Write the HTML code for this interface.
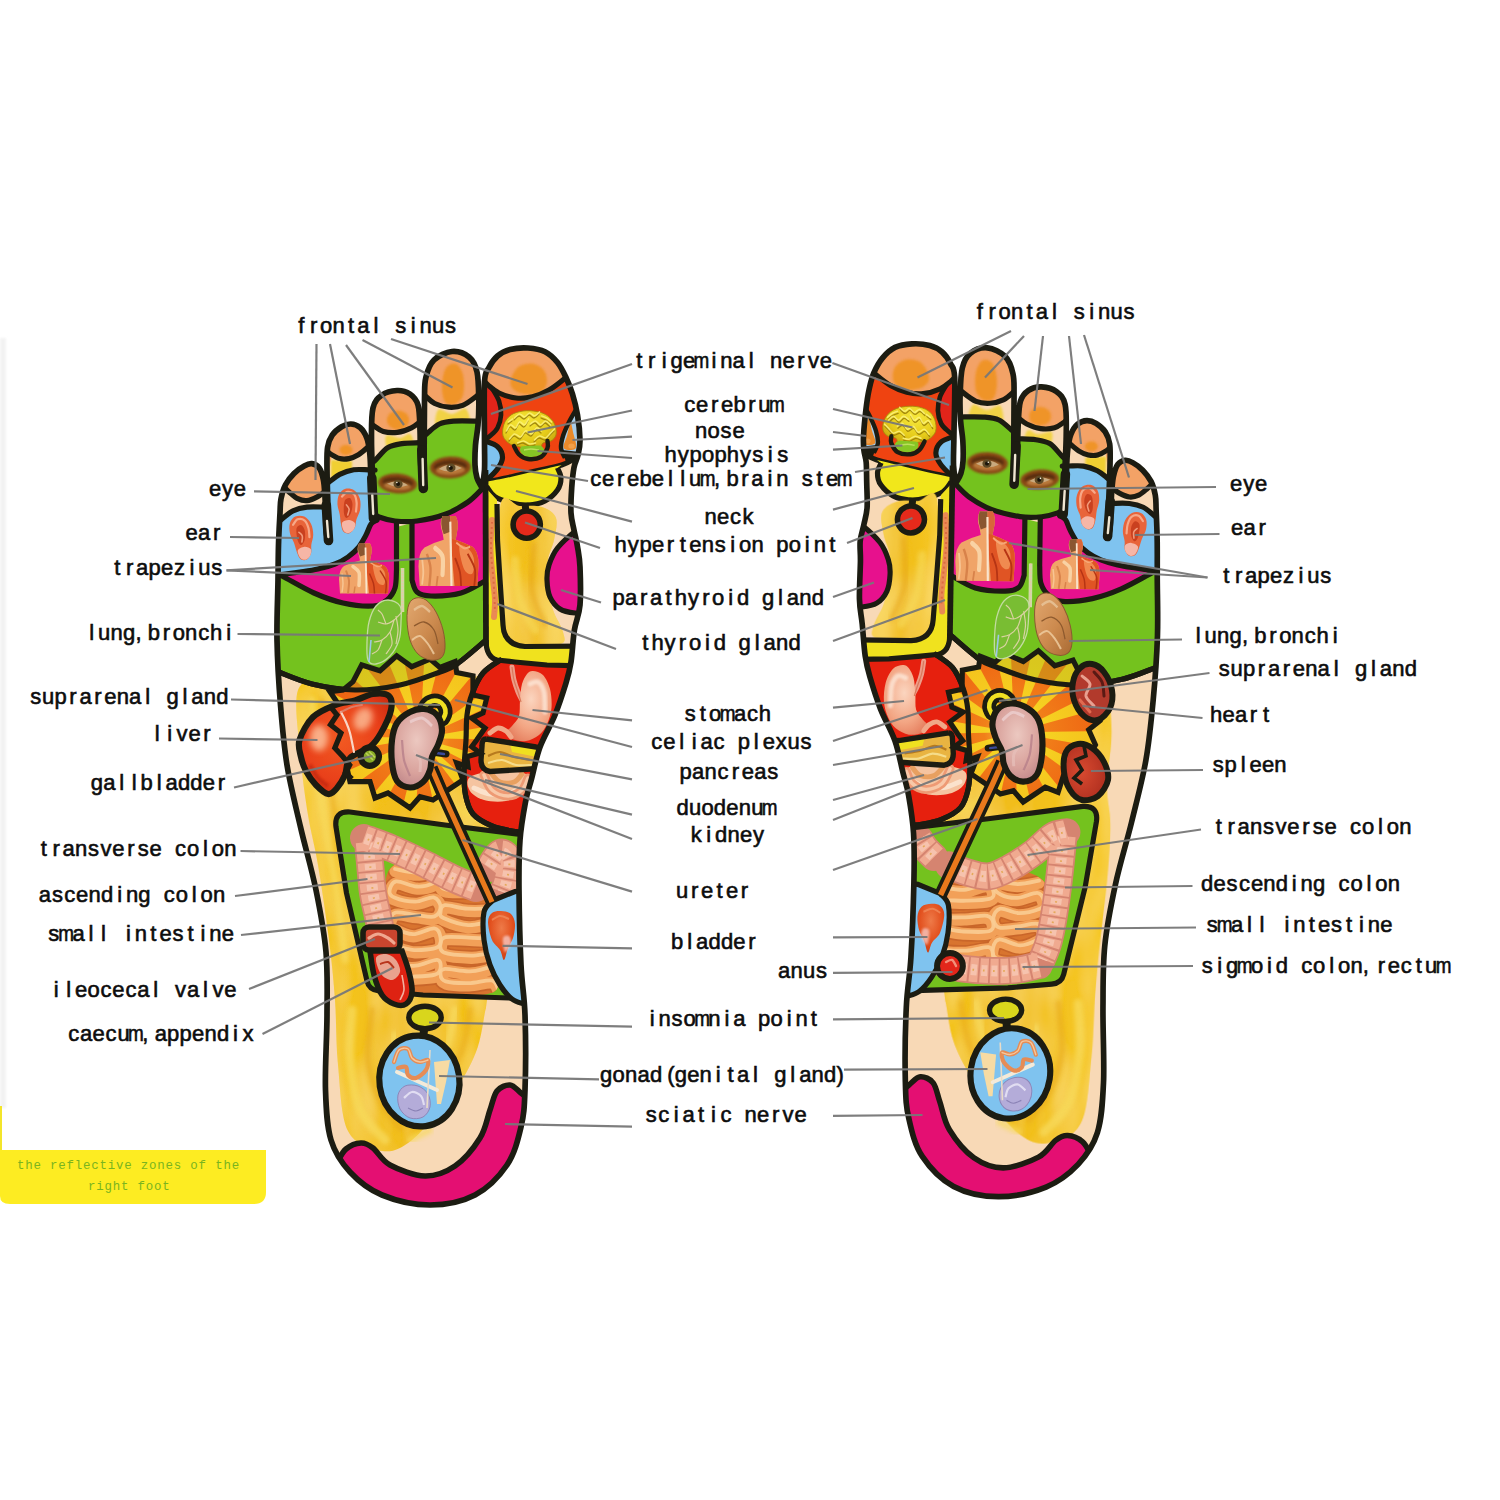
<!DOCTYPE html><html><head><meta charset="utf-8"><title>foot reflexology chart</title>
<style>html,body{margin:0;padding:0;background:#fff}body{width:1500px;height:1500px;overflow:hidden;font-family:"Liberation Sans",sans-serif}svg{display:block}</style></head><body>
<svg width="1500" height="1500" viewBox="0 0 1500 1500">

<defs>
<filter id="blur1" x="-20%" y="-20%" width="140%" height="140%"><feGaussianBlur stdDeviation="1.2"/></filter>
<filter id="blur3" x="-40%" y="-40%" width="180%" height="180%"><feGaussianBlur stdDeviation="3"/></filter>
<filter id="blur2" x="-20%" y="-20%" width="140%" height="140%"><feGaussianBlur stdDeviation="2.2"/></filter>
<filter id="rough" x="-5%" y="-5%" width="110%" height="110%">
 <feTurbulence type="fractalNoise" baseFrequency="0.035 0.012" numOctaves="2" seed="4" result="n"/>
 <feColorMatrix in="n" type="matrix" values="0 0 0 0 1  0 0 0 0 .82  0 0 0 0 .25  .9 0 0 0 -.28" result="c"/>
 <feComposite in="c" in2="SourceGraphic" operator="in" result="cc"/>
 <feMerge><feMergeNode in="SourceGraphic"/><feMergeNode in="cc"/></feMerge>
</filter>
<linearGradient id="ytexL" x1="0" y1="0" x2="1" y2="0"><stop offset="0" stop-color="#f6c824"/><stop offset=".5" stop-color="#f1bd1a"/><stop offset="1" stop-color="#f5c622"/></linearGradient>
<linearGradient id="ytexR" x1="0" y1="0" x2="1" y2="0"><stop offset="0" stop-color="#f6c824"/><stop offset=".5" stop-color="#f1bd1a"/><stop offset="1" stop-color="#f5c622"/></linearGradient>
<radialGradient id="sung" cx=".5" cy=".5" r=".5"><stop offset="0" stop-color="#fff27a" stop-opacity=".8"/><stop offset=".3" stop-color="#f8d830" stop-opacity=".3"/><stop offset="1" stop-color="#f08018" stop-opacity=".2"/></radialGradient>
<radialGradient id="livg" cx=".45" cy=".45" r=".65"><stop offset="0" stop-color="#f25a22"/><stop offset=".65" stop-color="#e9401a"/><stop offset="1" stop-color="#cc2c10"/></radialGradient>
<radialGradient id="kidg" cx=".5" cy=".4" r=".7"><stop offset="0" stop-color="#ecc8c0"/><stop offset=".6" stop-color="#d9a29c"/><stop offset="1" stop-color="#b98086"/></radialGradient>
<radialGradient id="stomg" cx=".55" cy=".4" r=".7"><stop offset="0" stop-color="#fbd5bf"/><stop offset=".6" stop-color="#f3a684"/><stop offset="1" stop-color="#e47a5a"/></radialGradient>
<radialGradient id="bladg" cx=".5" cy=".35" r=".7"><stop offset="0" stop-color="#ee7a48"/><stop offset=".6" stop-color="#e2501e"/><stop offset="1" stop-color="#c83c14"/></radialGradient>
<radialGradient id="splg" cx=".6" cy=".5" r=".7"><stop offset="0" stop-color="#d84a30"/><stop offset="1" stop-color="#a82a1c"/></radialGradient>
<radialGradient id="braing" cx=".4" cy=".3" r=".8"><stop offset="0" stop-color="#f6e83c"/><stop offset=".6" stop-color="#e6cc1a"/><stop offset="1" stop-color="#bf9e0c"/></radialGradient>
<linearGradient id="lungg" x1="0" y1="0" x2="1" y2="1"><stop offset="0" stop-color="#e2a870"/><stop offset=".55" stop-color="#cc8a4e"/><stop offset="1" stop-color="#a86a34"/></linearGradient>
</defs>

<rect width="1500" height="1500" fill="#fff"/>
<rect x="0" y="338" width="6" height="770" fill="#e9e9e9" opacity=".55" filter="url(#blur1)"/>
<rect x="0" y="1106" width="2" height="46" fill="#f3e52a"/>
<path d="M0,1150 L266,1150 L266,1192 Q266,1204 254,1204 L10,1204 Q0,1204 0,1196Z" fill="#fdec22"/>
<g font-family="Liberation Mono, monospace" font-size="12.4" letter-spacing=".82" fill="#79b41f"><text x="17" y="1168.5">the reflective zones of the</text><text x="88" y="1190">right foot</text></g>
<g id="footL"><clipPath id="clipL"><path d="M482,487C482.4,484.2 484.1,477.8 484.5,470C484.9,462.2 484.5,454.7 484.5,440C484.5,425.3 483.8,394.1 484.5,382C485.2,369.9 486.8,371.8 489,367.5C491.2,363.2 494,359 497.5,356C501,353 504.9,350.8 510,349.5C515.1,348.2 522.2,347.6 528,348C533.8,348.4 540.1,349.3 545,351.7C549.9,354.1 554,358.2 557.5,362.5C561,366.8 563.5,372.2 566,377.5C568.5,382.8 570.6,387.8 572.5,394C574.4,400.2 576.2,407.3 577.5,415C578.8,422.7 579.9,433.3 580,440C580.1,446.7 579,450.4 578,455C577,459.6 575,462 574,467.5C573,473 572.2,480.4 571.7,488C571.2,495.6 570.6,506 571,513C571.4,520 572.9,524.4 574,530C575.1,535.6 576.5,540.5 577.5,546.7C578.5,552.9 579.6,557.3 580,567C580.4,576.7 580.9,594.5 580,605C579.1,615.5 575.9,620.5 574.4,630C572.9,639.5 572.4,653.2 571,662C569.6,670.8 568.7,674.2 566,683C563.3,691.8 559.3,704.3 555,715C550.7,725.7 543.9,736.3 540,747C536.1,757.7 533.9,769.8 531.5,779C529.1,788.2 527.4,791.8 525.5,802C523.6,812.2 521.1,825.3 520,840C518.9,854.7 518.8,869.2 519,890C519.2,910.8 520,944.2 521,965C522,985.8 524.3,994.2 525,1015C525.7,1035.8 525.7,1071.3 525,1090C524.3,1108.7 524,1114.5 521,1127C518,1139.5 514.7,1153.7 507,1165C499.3,1176.3 487.8,1188.3 475,1195C462.2,1201.7 445.5,1205 430,1205C414.5,1205 395.3,1200.5 382,1195C368.7,1189.5 358.5,1181.2 350,1172C341.5,1162.8 335.1,1153.7 331,1140C326.9,1126.3 326.2,1110.8 325.5,1090C324.8,1069.2 326.9,1038 327,1015C327.1,992 327.8,972.8 326,952C324.2,931.2 320.2,910.8 316,890C311.8,869.2 305.3,847.8 300.5,827C295.7,806.2 290.3,785.3 287,765C283.7,744.7 282.2,725.8 280.5,705C278.8,684.2 277.4,660.8 277,640C276.6,619.2 277.8,595.8 278,580C278.2,564.2 278.2,556.2 278.5,545C278.8,533.8 279.6,520.7 280,513C280.4,505.3 280.1,503.4 281,498.7C281.9,494 283.3,488.9 285.5,484.7C287.7,480.5 290.9,476.6 294,473.5C297.1,470.4 301.2,467.6 304.2,466C307.1,464.4 309.2,463.4 311.7,463.7C314.2,464 317.2,465.2 319.2,467.9C321.1,470.6 322.5,475.6 323.4,480C324.3,484.4 324.4,489 324.8,494C325.2,499 325.3,504 325.5,510C325.7,516 325.6,524.7 326,530C326.4,535.3 327.7,540 328,542L329,542C328.8,536.7 328.3,522 328,510C327.7,498 327.1,480.4 327,470C326.9,459.6 326.7,453.1 327.6,447.3C328.5,441.5 329.9,438.6 332.2,435.2C334.5,431.8 338.5,428.7 341.6,426.8C344.7,424.9 347.8,423.9 350.9,424C354,424.1 357.5,425.4 360.2,427.7C362.9,430 365.2,433.9 366.8,438C368.4,442.1 369,447.3 369.6,452C370.2,456.7 370.3,459.7 370.5,466C370.7,472.3 370.7,481.2 371,490C371.3,498.8 372.2,514.2 372.5,519L374,519C373.8,514.2 373.4,503.2 373,490C372.6,476.8 371.5,453.7 371.5,440C371.5,426.3 371.2,415.5 373,408C374.8,400.5 378,397.9 382,395C386,392.1 392.3,390.7 397,390.5C401.7,390.3 406.5,391.6 410,394C413.5,396.4 416.3,399 418,405C419.7,411 419.6,420.8 420,430C420.4,439.2 420.1,450.2 420.5,460C420.9,469.8 422.2,484.2 422.5,489L424,489C424.1,474.2 424.2,418.7 424.5,400C424.8,381.3 424.4,383.7 426,377C427.6,370.3 429.7,364.2 434,360C438.3,355.8 446.2,352 452,351.5C457.8,351 464.8,353.6 469,357C473.2,360.4 475.4,364.8 477,372C478.6,379.2 478.6,391.2 478.8,400C479,408.8 478.6,417.5 478,425C477.4,432.5 476,438.3 475.5,445C475,451.7 474.8,459.5 475,465C475.2,470.5 475.9,474.3 477,478C478.1,481.7 480.8,485.5 481.5,487Z"/></clipPath>
<g clip-path="url(#clipL)">
<rect x="250" y="330" width="360" height="900" fill="#f8d9b6"/>
<path d="M298,690C302.8,677.3 313,684 330,684C347,684 376.7,691.3 400,690C423.3,688.7 455,674.3 470,676C485,677.7 481.7,674 490,700C498.3,726 518.3,798.7 520,832C521.7,865.3 505.5,872 500,900C494.5,928 489.5,981.3 487,1000C484.5,1018.7 486.8,1003.3 485,1012C483.2,1020.7 481.5,1038.2 476,1052C470.5,1065.8 462.7,1080.3 452,1095C441.3,1109.7 423.7,1130.7 412,1140C400.3,1149.3 392.7,1152.5 382,1151C371.3,1149.5 355.3,1145.3 348,1131C340.7,1116.7 340.2,1086.8 338,1065C335.8,1043.2 336.5,1020.8 335,1000C333.5,979.2 331.8,962.5 329,940C326.2,917.5 321.5,885.8 318,865C314.5,844.2 310.8,832.5 308,815C305.2,797.5 302.7,780.8 301,760C299.3,739.2 293.2,702.7 298,690Z" fill="url(#ytexL)" filter="url(#rough)"/>
<path d="M312,700C312.7,710 313.7,738.3 316,760C318.3,781.7 322.3,806.7 326,830C329.7,853.3 334.8,878.3 338,900C341.2,921.7 343.8,950 345,960" fill="none" stroke="#f7d95a" stroke-width="7" stroke-linecap="round" opacity="0.8" filter="url(#blur2)"/>
<path d="M322,700C323.3,713.3 327,755 330,780C333,805 338.3,838.3 340,850" fill="none" stroke="#e9aa1c" stroke-width="5" stroke-linecap="round" opacity="0.6" filter="url(#blur2)"/>
<path d="M352,1010C351.7,1018.3 348.7,1043.3 350,1060C351.3,1076.7 354.2,1096.7 360,1110C365.8,1123.3 380.8,1135 385,1140" fill="none" stroke="#f7d95a" stroke-width="9" stroke-linecap="round" opacity="0.8" filter="url(#blur2)"/>
<path d="M372,1010C371.3,1018.3 366.7,1045 368,1060C369.3,1075 374.7,1088.7 380,1100C385.3,1111.3 396.7,1123.3 400,1128" fill="none" stroke="#e7a91b" stroke-width="6" stroke-linecap="round" opacity="0.6" filter="url(#blur2)"/>
<path d="M395,1035L392,1070" fill="none" stroke="#f7dc60" stroke-width="8" stroke-linecap="round" opacity="0.7" filter="url(#blur2)"/>
<path d="M470,1010C468.7,1016.7 467,1036.7 462,1050C457,1063.3 447.8,1077.5 440,1090C432.2,1102.5 419.2,1119.2 415,1125" fill="none" stroke="#e9ab1e" stroke-width="6" stroke-linecap="round" opacity="0.6" filter="url(#blur2)"/>
<path d="M455,1010L448,1045" fill="none" stroke="#f8dc60" stroke-width="8" stroke-linecap="round" opacity="0.7" filter="url(#blur2)"/>
<path d="M430,1130L410,1140" fill="none" stroke="#f7d95a" stroke-width="6" stroke-linecap="round" opacity="0.7" filter="url(#blur2)"/>
<path d="M440,800C445,802.5 460,810.7 470,815C480,819.3 495,824.2 500,826" fill="none" stroke="#f6d650" stroke-width="7" stroke-linecap="round" opacity="0.7" filter="url(#blur2)"/>
<path d="M502,659C498.8,661.3 488,667.2 483,673C478,678.8 474.7,687 472,694C469.3,701 468,707.3 467,715C466,722.7 466.5,730.8 466,740C465.5,749.2 464.1,760.8 464,770C463.9,779.2 464,787.7 465.5,795C467,802.3 468.6,808.8 473,814C477.4,819.2 485.5,823.2 492,826C498.5,828.8 505,829.8 512,831C519,832.2 530.3,832.7 534,833L600,833 L600,660 Z" fill="#e6200e"/>
<path d="M512,667C512.3,669.2 513,675.8 514,680C515,684.2 516.7,688.7 518,692C519.3,695.3 521.3,698.7 522,700" fill="none" stroke="#ee9c88" stroke-width="5" stroke-linecap="round"/>
<path d="M533,671C535.7,671.2 540.2,672 543,675C545.8,678 548.6,683.5 550,689C551.4,694.5 552,702.2 551.5,708C551,713.8 549.1,719.5 547,724C544.9,728.5 542.5,732.2 539,735C535.5,737.8 530.5,740.3 526,741C521.5,741.7 515.3,740.3 512,739C508.7,737.7 506,735.2 506,733C506,730.8 509.8,728.8 512,726C514.2,723.2 517.7,720.3 519,716C520.3,711.7 519.5,705.3 520,700C520.5,694.7 520.8,688.3 522,684C523.2,679.7 525.2,676.2 527,674C528.8,671.8 530.3,670.8 533,671Z" fill="url(#stomg)"/>
<path d="M530,684C531.3,683.7 535.7,680.7 538,682C540.3,683.3 542.8,687 544,692C545.2,697 544.8,708.7 545,712" fill="none" stroke="#fdeadc" stroke-width="5" opacity=".75" stroke-linecap="round" filter="url(#blur1)"/>
<path d="M512,667C512.3,669.2 513,675.8 514,680C515,684.2 516.8,688.3 518,692C519.2,695.7 520.5,700.3 521,702" fill="none" stroke="#d9785a" stroke-width="1.2"/>
<path d="M490,733C491.3,732.2 495.3,728.3 498,728C500.7,727.7 503.8,729.5 506,731C508.2,732.5 510.2,736 511,737" fill="none" stroke="#f0a888" stroke-width="5" stroke-linecap="round"/>
<path d="M469,778C472,774.8 479.8,773 488,772C496.2,771 510.7,770.8 518,772C525.3,773.2 530.7,775.7 532,779C533.3,782.3 530.3,788.3 526,792C521.7,795.7 513,799.7 506,801C499,802.3 490,801.7 484,800C478,798.3 472.5,794.7 470,791C467.5,787.3 466,781.2 469,778Z" fill="#f5c4a0"/>
<path d="M474,788C476.7,789 484,793.2 490,794C496,794.8 504.3,794.3 510,793C515.7,791.7 521.7,787.2 524,786" fill="none" stroke="#fbe2cc" stroke-width="5" stroke-linecap="round"/>
<path d="M484,775C485.3,777.5 488,786.5 492,790C496,793.5 503,796 508,796C513,796 518.7,793 522,790C525.3,787 527,780 528,778" fill="none" stroke="#ee9a74" stroke-width="9" stroke-linecap="round"/>
<path d="M484,775C485.3,777.5 488,786.5 492,790C496,793.5 503,796 508,796C513,796 518.7,793 522,790C525.3,787 527,780 528,778" fill="none" stroke="#f8c8a8" stroke-width="3.5" stroke-linecap="round"/>
<path d="M490,772C491.7,773.7 496,780.3 500,782C504,783.7 510.3,783.3 514,782C517.7,780.7 520.7,775.3 522,774" fill="none" stroke="#e8a060" stroke-width="5" stroke-linecap="round"/>
<path d="M486,739 L536,747 L548,748 L540,769 L531,769 L490,771.5 Q481,770 481,760 L482,746 Q482,739 486,739Z" fill="#e9b441"/>
<path d="M510,744 L546,749 L542,758 L512,752Z" fill="#f0e020"/>
<path d="M488,756C490,755.3 495.7,751.8 500,752C504.3,752.2 509,755.7 514,757C519,758.3 527.3,759.5 530,760" fill="none" stroke="#b77a1e" stroke-width="2.2"/>
<path d="M488,763C490.3,762.5 497.3,759.7 502,760C506.7,760.3 511,764.2 516,765C521,765.8 529.3,765 532,765" fill="none" stroke="#f5dc8a" stroke-width="2.2"/>
<path d="M486,739 L536,747 L550,748 M540,769 L531,769 L490,771.5 Q481,770 481,760 L482,746 Q482,739 486,739" fill="none" stroke="#1c1c12" stroke-width="5.4"/>
<path d="M502,659C498.8,661.3 488,667.2 483,673C478,678.8 474.7,687 472,694C469.3,701 468,707.3 467,715C466,722.7 466.5,730.8 466,740C465.5,749.2 464.1,760.8 464,770C463.9,779.2 464,787.7 465.5,795C467,802.3 468.6,808.8 473,814C477.4,819.2 485.5,823.2 492,826C498.5,828.8 505,829.8 512,831C519,832.2 530.3,832.7 534,833" fill="none" stroke="#1c1c12" stroke-width="5.2"/>
<path d="M350,812 L445,825 L516,834 L540,836 L540,1001 L509,998 L423,995 L379,991 Q369,990 367,981 L346.5,893 L336,827 Q334,811 350,812Z" fill="#74c21e"/>
<clipPath id="gutclipL"><path d="M388,872C391.7,865.3 399.3,861 408,860C416.7,859 429.7,862.7 440,866C450.3,869.3 461.7,875 470,880C478.3,885 487.3,887.7 490,896C492.7,904.3 486.2,919.3 486,930C485.8,940.7 487,950.7 489,960C491,969.3 499.2,980.2 498,986C496.8,991.8 491.7,993.7 482,995C472.3,996.3 452.3,994.8 440,994C427.7,993.2 415,994.8 408,990C401,985.2 401,974.2 398,965C395,955.8 392,945.8 390,935C388,924.2 386.3,910.5 386,900C385.7,889.5 384.3,878.7 388,872Z"/></clipPath>
<path d="M388,872C391.7,865.3 399.3,861 408,860C416.7,859 429.7,862.7 440,866C450.3,869.3 461.7,875 470,880C478.3,885 487.3,887.7 490,896C492.7,904.3 486.2,919.3 486,930C485.8,940.7 487,950.7 489,960C491,969.3 499.2,980.2 498,986C496.8,991.8 491.7,993.7 482,995C472.3,996.3 452.3,994.8 440,994C427.7,993.2 415,994.8 408,990C401,985.2 401,974.2 398,965C395,955.8 392,945.8 390,935C388,924.2 386.3,910.5 386,900C385.7,889.5 384.3,878.7 388,872Z" fill="#d8742f"/>
<g clip-path="url(#gutclipL)">
<path d="M395.5,871.2C399,871.8 409.8,874.6 416.7,874.7C423.6,874.9 432.9,871.6 437,872.1C441,872.6 441.5,875.5 441,877.8C440.5,880 438.1,883.5 434.1,885.3C430.2,887.2 423.5,889 417.3,888.7C411,888.5 401.1,882.8 396.6,883.6C392.1,884.3 390.3,890.6 390,893.2C389.7,895.9 390.6,898 394.9,899.7C399.2,901.5 409.1,903.9 415.7,903.9C422.2,903.8 429.8,898.8 434.1,899.6C438.3,900.4 440.8,905.6 441,908.8C441.2,911.9 439.2,917.2 435.1,918.6C431,920 423.1,917.9 416.6,917.3C410.1,916.7 400.6,913.5 396.2,914.7C391.8,915.9 390.1,921.7 390,924.2C389.9,926.8 391.6,928.1 395.5,930.1C399.4,932.2 406.9,936.3 413.5,936.4C420.1,936.4 430.3,930 434.8,930.6C439.4,931.1 440.5,936.6 441,939.8C441.5,942.9 442.3,947.3 437.9,949.4C433.5,951.5 421.8,952.5 414.7,952.3C407.5,952.1 399.3,947.9 395.2,948.4C391,948.9 390.2,952.4 390,955.2C389.8,958.1 389.4,963.1 393.8,965.2C398.2,967.3 409,968.4 416.3,967.8C423.6,967.3 433.5,961.5 437.6,962C441.7,962.5 441.4,968.3 441,970.8C440.6,973.2 439.9,975.5 435.4,976.8C431,978.2 421,978.5 414.1,978.8C407.2,979.2 398.2,977.8 394.2,979C390.2,980.3 390.7,985 390,986.2" fill="none" stroke="#c9662a" stroke-width="15.5" stroke-linecap="round" stroke-linejoin="round"/>
<path d="M492,876.9C488.2,877 476.8,877.7 469.4,877.5C461.9,877.4 452,874.9 447.3,875.9C442.5,876.9 441.3,881.2 441,883.8C440.7,886.3 440.3,890.1 445.3,891.4C450.2,892.7 462.4,892.2 470.8,891.8C479.3,891.4 491.2,887.9 495.9,889.1C500.6,890.4 499.2,896 499,899.2C498.8,902.5 500.2,906.8 495,908.7C489.8,910.7 476.3,911.2 468.1,910.9C459.8,910.7 450,906.8 445.5,907.4C441,908 441.2,912.6 441,914.8C440.8,916.9 439.4,918.1 444,920.2C448.7,922.3 460.6,926.7 468.7,927.3C476.8,927.9 487.7,923.3 492.8,923.8C497.8,924.3 498.5,927.5 499,930.2C499.5,933 500.7,938.6 495.7,940.2C490.8,941.8 477.6,939.9 469.4,939.8C461.1,939.6 450.8,938.4 446.1,939.4C441.4,940.4 441.3,943.2 441,945.8C440.7,948.3 439.4,952.7 444.4,954.7C449.5,956.8 463.2,957.6 471.2,957.8C479.1,958 487.5,955.2 492.1,955.7C496.8,956.3 499,959.2 499,961.2C499,963.3 497.1,966.1 492.4,968.2C487.6,970.3 478.3,973.1 470.4,973.6C462.6,974.1 450.3,970.6 445.4,971.1C440.5,971.6 440.9,974.7 441,976.8C441.1,978.8 441.5,982.1 446.2,983.6C450.9,985 461.6,985.5 469.3,985.4C477,985.3 487.4,981.6 492.3,982.7C497.3,983.9 497.9,990.7 499,992.2" fill="none" stroke="#c9662a" stroke-width="15.5" stroke-linecap="round" stroke-linejoin="round"/>
<path d="M395.5,871.2C399,871.8 409.8,874.6 416.7,874.7C423.6,874.9 432.9,871.6 437,872.1C441,872.6 441.5,875.5 441,877.8C440.5,880 438.1,883.5 434.1,885.3C430.2,887.2 423.5,889 417.3,888.7C411,888.5 401.1,882.8 396.6,883.6C392.1,884.3 390.3,890.6 390,893.2C389.7,895.9 390.6,898 394.9,899.7C399.2,901.5 409.1,903.9 415.7,903.9C422.2,903.8 429.8,898.8 434.1,899.6C438.3,900.4 440.8,905.6 441,908.8C441.2,911.9 439.2,917.2 435.1,918.6C431,920 423.1,917.9 416.6,917.3C410.1,916.7 400.6,913.5 396.2,914.7C391.8,915.9 390.1,921.7 390,924.2C389.9,926.8 391.6,928.1 395.5,930.1C399.4,932.2 406.9,936.3 413.5,936.4C420.1,936.4 430.3,930 434.8,930.6C439.4,931.1 440.5,936.6 441,939.8C441.5,942.9 442.3,947.3 437.9,949.4C433.5,951.5 421.8,952.5 414.7,952.3C407.5,952.1 399.3,947.9 395.2,948.4C391,948.9 390.2,952.4 390,955.2C389.8,958.1 389.4,963.1 393.8,965.2C398.2,967.3 409,968.4 416.3,967.8C423.6,967.3 433.5,961.5 437.6,962C441.7,962.5 441.4,968.3 441,970.8C440.6,973.2 439.9,975.5 435.4,976.8C431,978.2 421,978.5 414.1,978.8C407.2,979.2 398.2,977.8 394.2,979C390.2,980.3 390.7,985 390,986.2" fill="none" stroke="#f2a058" stroke-width="12.2" stroke-linecap="round" stroke-linejoin="round"/>
<path d="M492,876.9C488.2,877 476.8,877.7 469.4,877.5C461.9,877.4 452,874.9 447.3,875.9C442.5,876.9 441.3,881.2 441,883.8C440.7,886.3 440.3,890.1 445.3,891.4C450.2,892.7 462.4,892.2 470.8,891.8C479.3,891.4 491.2,887.9 495.9,889.1C500.6,890.4 499.2,896 499,899.2C498.8,902.5 500.2,906.8 495,908.7C489.8,910.7 476.3,911.2 468.1,910.9C459.8,910.7 450,906.8 445.5,907.4C441,908 441.2,912.6 441,914.8C440.8,916.9 439.4,918.1 444,920.2C448.7,922.3 460.6,926.7 468.7,927.3C476.8,927.9 487.7,923.3 492.8,923.8C497.8,924.3 498.5,927.5 499,930.2C499.5,933 500.7,938.6 495.7,940.2C490.8,941.8 477.6,939.9 469.4,939.8C461.1,939.6 450.8,938.4 446.1,939.4C441.4,940.4 441.3,943.2 441,945.8C440.7,948.3 439.4,952.7 444.4,954.7C449.5,956.8 463.2,957.6 471.2,957.8C479.1,958 487.5,955.2 492.1,955.7C496.8,956.3 499,959.2 499,961.2C499,963.3 497.1,966.1 492.4,968.2C487.6,970.3 478.3,973.1 470.4,973.6C462.6,974.1 450.3,970.6 445.4,971.1C440.5,971.6 440.9,974.7 441,976.8C441.1,978.8 441.5,982.1 446.2,983.6C450.9,985 461.6,985.5 469.3,985.4C477,985.3 487.4,981.6 492.3,982.7C497.3,983.9 497.9,990.7 499,992.2" fill="none" stroke="#f2a058" stroke-width="12.2" stroke-linecap="round" stroke-linejoin="round"/>
<path d="M395,869C398.5,869.6 409.3,872.4 416.2,872.5C423.1,872.7 432.4,869.4 436.5,869.9C440.5,870.4 441,873.3 440.5,875.5C440,877.8 437.6,881.3 433.6,883.1C429.7,885 423,886.8 416.8,886.5C410.5,886.3 400.6,880.6 396.1,881.4C391.6,882.1 389.8,888.4 389.5,891C389.2,893.7 390.1,895.8 394.4,897.5C398.7,899.3 408.6,901.7 415.2,901.7C421.7,901.6 429.3,896.6 433.6,897.4C437.8,898.2 440.3,903.4 440.5,906.5C440.7,909.7 438.7,915 434.6,916.4C430.5,917.8 422.6,915.7 416.1,915.1C409.6,914.5 400.1,911.3 395.7,912.5C391.3,913.7 389.6,919.5 389.5,922C389.4,924.6 391.1,925.9 395,927.9C398.9,930 406.4,934.1 413,934.2C419.6,934.2 429.8,927.8 434.3,928.4C438.9,928.9 440,934.4 440.5,937.5C441,940.7 441.8,945.1 437.4,947.2C433,949.3 421.3,950.3 414.2,950.1C407,949.9 398.8,945.7 394.7,946.2C390.5,946.7 389.7,950.2 389.5,953C389.3,955.9 388.9,960.9 393.3,963C397.7,965.1 408.5,966.2 415.8,965.6C423.1,965.1 433,959.3 437.1,959.8C441.2,960.3 440.9,966.1 440.5,968.5C440.1,971 439.4,973.3 434.9,974.6C430.5,976 420.5,976.3 413.6,976.6C406.7,977 397.7,975.6 393.7,976.8C389.7,978.1 390.2,982.8 389.5,984" fill="none" stroke="#f9cc94" stroke-width="3.8" stroke-linecap="round" opacity=".9"/>
<path d="M491.5,874.7C487.7,874.8 476.3,875.5 468.9,875.3C461.4,875.2 451.5,872.7 446.8,873.7C442,874.7 440.8,879 440.5,881.5C440.2,884.1 439.8,887.9 444.8,889.2C449.7,890.5 461.9,890 470.3,889.6C478.8,889.2 490.7,885.7 495.4,886.9C500.1,888.2 498.7,893.8 498.5,897C498.3,900.3 499.7,904.6 494.5,906.5C489.3,908.5 475.8,909 467.6,908.7C459.3,908.5 449.5,904.6 445,905.2C440.5,905.8 440.7,910.4 440.5,912.5C440.3,914.7 438.9,915.9 443.5,918C448.2,920.1 460.1,924.5 468.2,925.1C476.3,925.7 487.2,921.1 492.3,921.6C497.3,922.1 498,925.3 498.5,928C499,930.8 500.2,936.4 495.2,938C490.3,939.6 477.1,937.7 468.9,937.6C460.6,937.4 450.3,936.2 445.6,937.2C440.9,938.2 440.8,941 440.5,943.5C440.2,946.1 438.9,950.5 443.9,952.5C449,954.6 462.7,955.4 470.7,955.6C478.6,955.8 487,953 491.6,953.5C496.3,954.1 498.5,957 498.5,959C498.5,961.1 496.6,963.9 491.9,966C487.1,968.1 477.8,970.9 469.9,971.4C462.1,971.9 449.8,968.4 444.9,968.9C440,969.4 440.4,972.5 440.5,974.5C440.6,976.6 441,979.9 445.7,981.4C450.4,982.8 461.1,983.3 468.8,983.2C476.5,983.1 486.9,979.4 491.8,980.5C496.8,981.7 497.4,988.5 498.5,990" fill="none" stroke="#f9cc94" stroke-width="3.8" stroke-linecap="round" opacity=".9"/>
</g>
<path d="M368,842C368.3,845.5 369.2,854.5 370,863C370.8,871.5 371.8,884.8 373,893C374.2,901.2 375.8,906.5 377,912C378.2,917.5 379.5,923.7 380,926" fill="none" stroke="#d58470" stroke-width="28" stroke-linecap="round"/>
<path d="M364,838C368.8,839.8 383.2,844.8 393,849C402.8,853.2 413.2,858.2 423,863C432.8,867.8 443.2,873.8 452,878C460.8,882.2 472,886.3 476,888" fill="none" stroke="#d58470" stroke-width="28" stroke-linecap="round"/>
<path d="M489,868C490.8,865.5 496.7,854.3 500,853C503.3,851.7 507.8,855.5 509,860C510.2,864.5 508,874.7 507,880C506,885.3 503.7,890 503,892" fill="none" stroke="#d58470" stroke-width="28" stroke-linecap="round"/>
<path d="M368,842C368.3,845.5 369.2,854.5 370,863C370.8,871.5 371.8,884.8 373,893C374.2,901.2 375.8,906.5 377,912C378.2,917.5 379.5,923.7 380,926" fill="none" stroke="#f0aa90" stroke-width="24.5" stroke-linecap="butt" stroke-dasharray="8.5 1.8"/>
<path d="M368,842C368.3,845.5 369.2,854.5 370,863C370.8,871.5 371.8,884.8 373,893C374.2,901.2 375.8,906.5 377,912C378.2,917.5 379.5,923.7 380,926" fill="none" stroke="#f7c8b4" stroke-width="11" stroke-linecap="butt" stroke-dasharray="6 4.3" stroke-dashoffset="-1.2" opacity=".85"/>
<path d="M368,842C368.3,845.5 369.2,854.5 370,863C370.8,871.5 371.8,884.8 373,893C374.2,901.2 375.8,906.5 377,912C378.2,917.5 379.5,923.7 380,926" fill="none" stroke="#dfa03c" stroke-width="2" stroke-dasharray="1.6 8.7" stroke-dashoffset="-4" opacity=".75"/>
<path d="M364,838C368.8,839.8 383.2,844.8 393,849C402.8,853.2 413.2,858.2 423,863C432.8,867.8 443.2,873.8 452,878C460.8,882.2 472,886.3 476,888" fill="none" stroke="#f0aa90" stroke-width="24.5" stroke-linecap="butt" stroke-dasharray="8.5 1.8"/>
<path d="M364,838C368.8,839.8 383.2,844.8 393,849C402.8,853.2 413.2,858.2 423,863C432.8,867.8 443.2,873.8 452,878C460.8,882.2 472,886.3 476,888" fill="none" stroke="#f7c8b4" stroke-width="11" stroke-linecap="butt" stroke-dasharray="6 4.3" stroke-dashoffset="-1.2" opacity=".85"/>
<path d="M364,838C368.8,839.8 383.2,844.8 393,849C402.8,853.2 413.2,858.2 423,863C432.8,867.8 443.2,873.8 452,878C460.8,882.2 472,886.3 476,888" fill="none" stroke="#dfa03c" stroke-width="2" stroke-dasharray="1.6 8.7" stroke-dashoffset="-4" opacity=".75"/>
<path d="M489,868C490.8,865.5 496.7,854.3 500,853C503.3,851.7 507.8,855.5 509,860C510.2,864.5 508,874.7 507,880C506,885.3 503.7,890 503,892" fill="none" stroke="#f0aa90" stroke-width="24.5" stroke-linecap="butt" stroke-dasharray="8.5 1.8"/>
<path d="M489,868C490.8,865.5 496.7,854.3 500,853C503.3,851.7 507.8,855.5 509,860C510.2,864.5 508,874.7 507,880C506,885.3 503.7,890 503,892" fill="none" stroke="#f7c8b4" stroke-width="11" stroke-linecap="butt" stroke-dasharray="6 4.3" stroke-dashoffset="-1.2" opacity=".85"/>
<path d="M489,868C490.8,865.5 496.7,854.3 500,853C503.3,851.7 507.8,855.5 509,860C510.2,864.5 508,874.7 507,880C506,885.3 503.7,890 503,892" fill="none" stroke="#dfa03c" stroke-width="2" stroke-dasharray="1.6 8.7" stroke-dashoffset="-4" opacity=".75"/>
<path d="M540,836 L516,834 L445,825 L350,812 Q334,811 336,827 L346.5,893 L367,981 Q369,990 379,991 L423,995 L509,998 L540,1001" fill="none" stroke="#1c1c12" stroke-width="5.2"/>
<path d="M492,901C490.7,902.8 485.3,905.5 484,912C482.7,918.5 483,931.2 484,940C485,948.8 487.3,957.5 490,965C492.7,972.5 496.3,979.3 500,985C503.7,990.7 508,995.8 512,999C516,1002.2 522,1003.2 524,1004L560,1004 L560,888 L515,891 Z" fill="#7fc3ef"/>
<path d="M492,901C490.7,902.8 485.3,905.5 484,912C482.7,918.5 483,931.2 484,940C485,948.8 487.3,957.5 490,965C492.7,972.5 496.3,979.3 500,985C503.7,990.7 508,995.8 512,999C516,1002.2 522,1003.2 524,1004" fill="none" stroke="#1c1c12" stroke-width="5.2"/>
<path d="M489,902 L515,891.5 L540,889" fill="none" stroke="#1c1c12" stroke-width="5.2"/>
<path d="M488,922C488,917.5 489.8,914.8 492,913C494.2,911.2 497.8,910.8 501,911C504.2,911.2 508.7,911.8 511,914C513.3,916.2 514.7,920 515,924C515.3,928 514.2,934 513,938C511.8,942 509.5,944.3 508,948C506.5,951.7 505.3,959.7 504,960C502.7,960.3 502,953.3 500,950C498,946.7 494,944.7 492,940C490,935.3 488,926.5 488,922Z" fill="url(#bladg)"/>
<path d="M503,938C503.7,935.3 507.7,935 509,936C510.3,937 511.7,941.3 511,944C510.3,946.7 506.3,953 505,952C503.7,951 502.3,940.7 503,938Z" fill="#f6c6c0" opacity=".8" filter="url(#blur1)"/>
<path d="M492,920C493.3,919.3 497.2,916.2 500,916C502.8,915.8 507.5,918.5 509,919" fill="none" stroke="#f08a5a" stroke-width="2" opacity=".8"/>
<path d="M482,379C483,380 485.2,382.7 488,385C490.8,387.3 494.3,390.8 499,393C503.7,395.2 510.4,397.4 516,398C521.6,398.6 527,398 532.5,396.7C538,395.4 543.8,392.9 549,390C554.2,387.1 560.7,381.7 564,379C567.3,376.3 568.2,374.8 569,374L590,340 L470,340 Z" fill="#f3a266"/>
<path d="M422,393C422.6,393.5 423.3,394.2 425.4,396C427.5,397.8 430.8,401.6 434.7,403.5C438.6,405.4 444,406.9 448.7,407.2C453.4,407.5 458,407.3 462.7,405.4C467.4,403.5 473.8,398.2 476.7,396C479.6,393.8 479.4,392.7 480,392L486,340 L418,340 Z" fill="#f3a266"/>
<path d="M371,423C371.5,423.5 371.9,424.5 374,425.9C376.1,427.3 379.4,430.4 383.3,431.5C387.2,432.6 392.6,433 397.3,432.4C402,431.8 407.5,429.7 411.4,427.8C415.3,425.9 419.1,422.3 420.7,421.2L428,380 L366,380 Z" fill="#f3a266"/>
<path d="M327,451C327.6,451.5 328.3,452.6 330.4,453.9C332.5,455.2 336.6,457.8 339.7,458.6C342.8,459.4 345.9,459.2 349,458.6C352.1,458 355.3,456.7 358.4,454.8C361.5,452.9 365.6,449.1 367.7,447.3C369.8,445.5 370.4,444.6 371,444L376,415 L322,415 Z" fill="#f3a266"/>
<path d="M285,488C285.7,488.7 287.2,490.4 289.3,492.2C291.4,494 294.8,497.3 297.7,498.7C300.6,500.1 303.7,500.9 307,500.6C310.3,500.3 314.5,498.2 317.3,496.8C320.1,495.4 322.4,493.3 323.8,492.2C325.2,491.1 325.6,490.4 326,490L332,455 L270,455 Z" fill="#f3a266"/>
<path d="M512,376C513.5,372.7 516.3,368 520,366C523.7,364 529.8,363 534,364C538.2,365 543,368.3 545,372C547,375.7 547.5,382.3 546,386C544.5,389.7 540.3,392.8 536,394C531.7,395.2 524.2,394.3 520,393C515.8,391.7 512.3,388.8 511,386C509.7,383.2 510.5,379.3 512,376Z" fill="#ef9320" opacity=".9" filter="url(#blur1)"/>
<path d="M442,385C442.2,379.3 443.7,371.5 446,368C448.3,364.5 453.2,362.8 456,364C458.8,365.2 461.8,369.8 463,375C464.2,380.2 464.3,390.2 463,395C461.7,399.8 458,402.8 455,404C452,405.2 447.2,405.2 445,402C442.8,398.8 441.8,390.7 442,385Z" fill="#ef9320" opacity=".9" filter="url(#blur1)"/>
<ellipse cx="398" cy="420" rx="11" ry="9.5" fill="#ef9320" opacity=".9" filter="url(#blur1)"/>
<ellipse cx="346" cy="450" rx="6.5" ry="5" fill="#ef9320" opacity=".9" filter="url(#blur1)"/>
<path d="M438,410C440.3,407.3 447.3,414.2 452,414C456.7,413.8 463.3,406.7 466,409C468.7,411.3 472.7,424.5 468,428C463.3,431.5 443,433 438,430C433,427 435.7,412.7 438,410Z" fill="#f1d244" filter="url(#blur1)"/>
<path d="M386,436C387.7,433.7 396,438.3 400,438C404,437.7 408,432.7 410,434C412,435.3 415.3,443 412,446C408.7,449 394.3,453.7 390,452C385.7,450.3 384.3,438.3 386,436Z" fill="#f1d244" filter="url(#blur1)"/>
<path d="M331,460L352,461L352,472L331,484Z" fill="#f0cf32" filter="url(#blur1)"/>
<path d="M262,560 L486,505 L486,640C481.2,644 464.7,658.7 457,664C449.3,669.3 449.5,668.5 440,672C430.5,675.5 414.2,682 400,685C385.8,688 369.7,690.2 355,690C340.3,689.8 325.2,687.2 312,684C298.8,680.8 284.3,674 276,671C267.7,668 264.3,666.8 262,666Z" fill="#74c21e"/>
<path d="M486,640C481.2,644 464.7,658.7 457,664C449.3,669.3 449.5,668.5 440,672C430.5,675.5 414.2,682 400,685C385.8,688 369.7,690.2 355,690C340.3,689.8 325.2,687.2 312,684C298.8,680.8 284.3,674 276,671C267.7,668 264.3,666.8 262,666" fill="none" stroke="#1c1c12" stroke-width="5.2"/>
<path d="M270,529C272,527.4 278,522.2 281.8,519.2C285.6,516.2 288.8,512.8 293,510.8C297.2,508.8 302,507.7 307,507.1C312,506.5 319.6,507 322.9,507.1C326.2,507.2 326.3,507.4 327,507.5L327,484C327.6,483.5 328.3,482.6 330.4,481C332.5,479.4 335.8,476.3 339.7,474.4C343.6,472.5 348.9,470.6 353.7,469.8C358.5,469 365.1,469.8 368.6,469.8C372.2,469.8 373.9,470 375,470L377,520C376,520.7 372.8,521.5 371,524C369.2,526.5 368.2,531 366,535C363.8,539 361,544.3 358,548C355,551.7 351.8,554.3 348,557C344.2,559.7 340,562 335,564C330,566 323.8,567.7 318,569C312.2,570.3 306,571.1 300,572C294,572.9 288.3,573.7 282,574.5C275.7,575.3 265.3,576.6 262,577Z" fill="#7fc3ef"/>
<path d="M373,462C373.5,461.6 373.4,461.9 375.9,459.5C378.4,457.1 383.6,450 388,447.4C392.4,444.8 396.7,444.4 402,443.6C407.3,442.8 416.1,442.9 419.8,442.7C423.5,442.5 423.3,442.5 424,442.5L423,437C423.7,436.4 424.5,435.6 427.2,433.4C429.9,431.2 435,426 439.4,424C443.8,422 447.2,421.7 453.4,421.2C459.6,420.7 471.9,421.1 476.7,421.2C481.5,421.2 481.1,421.4 482,421.5L483,488C480.5,490.3 474.2,497.7 468,502C461.8,506.3 454.5,510.8 446,514C437.5,517.2 425.5,519.8 417,521C408.5,522.2 401.3,521.7 395,521C388.7,520.3 382.3,518.2 379,517C375.7,515.8 375.7,514.5 375,514Z" fill="#74c21e"/>
<path d="M262,577C265.3,576.6 275.7,575.3 282,574.5C288.3,573.7 294,572.9 300,572C306,571.1 312.2,570.3 318,569C323.8,567.7 330,566 335,564C340,562 344.2,559.7 348,557C351.8,554.3 355,551.7 358,548C361,544.3 363.8,539 366,535C368.2,531 369.2,526.5 371,524C372.8,521.5 376,520.7 377,520L379,517 L396.5,521L396.5,570C396.2,573 396.6,583 395,588C393.4,593 390.7,597 387,600C383.3,603 380.3,605.5 373,606C365.7,606.5 352.8,605.2 343,603C333.2,600.8 324.2,597.5 314,593C303.8,588.5 290.7,580.5 282,576C273.3,571.5 265.3,567.7 262,566Z" fill="#e7118d"/>
<path d="M412,522 L417,521C421.8,519.8 437.5,517.2 446,514C454.5,510.8 461.5,506.7 468,502C474.5,497.3 482.2,488.7 485,486L485,581C481,583 470,590.5 461,593C452,595.5 438.3,596.2 431,596C423.7,595.8 420.2,594.7 417,592C413.8,589.3 412.8,582 412,580Z" fill="#e7118d"/>
<path d="M270,529C272,527.4 278,522.2 281.8,519.2C285.6,516.2 288.8,512.8 293,510.8C297.2,508.8 302,507.7 307,507.1C312,506.5 319.6,507 322.9,507.1C326.2,507.2 326.3,507.4 327,507.5" fill="none" stroke="#1c1c12" stroke-width="5.2" stroke-linecap="round"/>
<path d="M327,484C327.6,483.5 328.3,482.6 330.4,481C332.5,479.4 335.8,476.3 339.7,474.4C343.6,472.5 348.9,470.6 353.7,469.8C358.5,469 365.1,469.8 368.6,469.8C372.2,469.8 373.9,470 375,470" fill="none" stroke="#1c1c12" stroke-width="5.2" stroke-linecap="round"/>
<path d="M377,520C376,520.7 372.8,521.5 371,524C369.2,526.5 368.2,531 366,535C363.8,539 361,544.3 358,548C355,551.7 351.8,554.3 348,557C344.2,559.7 340,562 335,564C330,566 323.8,567.7 318,569C312.2,570.3 306,571.1 300,572C294,572.9 288.3,573.7 282,574.5C275.7,575.3 265.3,576.6 262,577" fill="none" stroke="#1c1c12" stroke-width="5.2" stroke-linecap="round"/>
<path d="M373,462C373.5,461.6 373.4,461.9 375.9,459.5C378.4,457.1 383.6,450 388,447.4C392.4,444.8 396.7,444.4 402,443.6C407.3,442.8 416.1,442.9 419.8,442.7C423.5,442.5 423.3,442.5 424,442.5" fill="none" stroke="#1c1c12" stroke-width="5.2" stroke-linecap="round"/>
<path d="M423,437C423.7,436.4 424.5,435.6 427.2,433.4C429.9,431.2 435,426 439.4,424C443.8,422 447.2,421.7 453.4,421.2C459.6,420.7 471.9,421.1 476.7,421.2C481.5,421.2 481.1,421.4 482,421.5" fill="none" stroke="#1c1c12" stroke-width="5.2" stroke-linecap="round"/>
<path d="M483,488C480.5,490.3 474.2,497.7 468,502C461.8,506.3 454.5,510.8 446,514C437.5,517.2 425.5,519.8 417,521C408.5,522.2 401.3,521.7 395,521C388.7,520.3 382.3,518.2 379,517C375.7,515.8 375.7,514.5 375,514" fill="none" stroke="#1c1c12" stroke-width="5.2" stroke-linecap="round"/>
<path d="M396.5,521L396.5,570C396.2,573 396.6,583 395,588C393.4,593 390.7,597 387,600C383.3,603 380.3,605.5 373,606C365.7,606.5 352.8,605.2 343,603C333.2,600.8 324.2,597.5 314,593C303.8,588.5 290.7,580.5 282,576C273.3,571.5 265.3,567.7 262,566" fill="none" stroke="#1c1c12" stroke-width="5.2"/>
<path d="M412,523 L412,580C412.8,582 413.8,589.3 417,592C420.2,594.7 423.7,595.8 431,596C438.3,596.2 452,595.5 461,593C470,590.5 481,583 485,581" fill="none" stroke="#1c1c12" stroke-width="5.2"/>
<path d="M482,379C483,380 485.2,382.7 488,385C490.8,387.3 494.3,390.8 499,393C503.7,395.2 510.4,397.4 516,398C521.6,398.6 527,398 532.5,396.7C538,395.4 543.8,392.9 549,390C554.2,387.1 560.7,381.7 564,379C567.3,376.3 568.2,374.8 569,374L590,374 L590,452C582.7,454.7 579.7,456.2 576,458C572.3,459.8 568.2,462.9 561.7,465C555.2,467.1 545,468.9 536.7,470.8C528.4,472.8 520.1,474.8 511.7,476.7C503.2,478.6 490.3,481.1 486,482Z" fill="#ef4311"/>
<path d="M482,382L492,388C493.2,390.2 497.5,396.5 499,401C500.5,405.5 501.2,410.5 501,415C500.8,419.5 499.3,424.5 497.5,428C495.7,431.5 492.2,434 490,436C487.8,438 485,439.3 484,440Z" fill="#e2241a"/>
<path d="M492,388C493.2,390.2 497.5,396.5 499,401C500.5,405.5 501.2,410.5 501,415C500.8,419.5 499.3,424.5 497.5,428C495.7,431.5 492.2,434 490,436C487.8,438 485,439.3 484,440" fill="none" stroke="#1c1c12" stroke-width="4.7"/>
<path d="M577,408C575.7,410.3 571.3,417.3 569,422C566.7,426.7 564.3,431.7 563,436C561.7,440.3 560.7,444.3 561,448C561.3,451.7 564.3,456.3 565,458L590,456 L590,408 Z" fill="#a9cde9"/>
<path d="M570.5,423C569.4,423.3 568.2,432 567,436C565.8,440 563.3,444.7 563.5,447C563.7,449.3 566.1,449.7 568,450C569.9,450.3 573.7,450 575,449C576.3,448 576.2,446.5 576,444C575.8,441.5 574.4,437.5 573.5,434C572.6,430.5 571.6,422.7 570.5,423Z" fill="#ea8a2a"/>
<ellipse cx="571.5" cy="446" rx="3.2" ry="2.6" fill="#f2a04a"/>
<path d="M577,408C575.7,410.3 571.3,417.3 569,422C566.7,426.7 564.3,431.7 563,436C561.7,440.3 560.7,444.3 561,448C561.3,451.7 564.3,456.3 565,458" fill="none" stroke="#1c1c12" stroke-width="4.4"/>
<path d="M562,450L580,452L580,458L566,462Z" fill="#1c1c12"/>
<path d="M485,441C487.1,441.9 494.6,443.9 497.5,446.7C500.4,449.4 502.5,453.8 502.5,457.5C502.5,461.2 500.2,465.1 497.5,469C494.8,472.9 487.9,479 486,481Z" fill="#7fc3ef"/>
<path d="M485,441C487.1,441.9 494.6,443.9 497.5,446.7C500.4,449.4 502.5,453.8 502.5,457.5C502.5,461.2 500.2,465.1 497.5,469C494.8,472.9 487.9,479 486,481" fill="none" stroke="#1c1c12" stroke-width="5.2"/>
<path d="M503,436C502,432.7 502.7,427.5 504,424C505.3,420.5 507.8,417.2 511,415C514.2,412.8 518.7,411.6 523,411C527.3,410.4 532.8,410.7 537,411.5C541.2,412.3 545,413.8 548,416C551,418.2 553.7,421.8 555,425C556.3,428.2 556.7,432.3 556,435C555.3,437.7 553.2,439.7 551,441C548.8,442.3 544.8,441.8 543,443C541.2,444.2 542.2,447 540,448C537.8,449 533.3,449.2 530,449C526.7,448.8 523.3,447.8 520,447C516.7,446.2 512.8,445.8 510,444C507.2,442.2 504,439.3 503,436Z" fill="url(#braing)" stroke="#a8860c" stroke-width="0.9"/>
<path d="M506,433C506.7,432 508.5,427.5 510,427C511.5,426.5 513.5,430.5 515,430C516.5,429.5 517.5,424.5 519,424C520.5,423.5 522.5,427.5 524,427C525.5,426.5 527.3,422 528,421" fill="none" stroke="#8f7408" stroke-width="1.3" opacity=".8" stroke-linecap="round"/>
<path d="M509,441C509.8,440.2 512.2,436.3 514,436C515.8,435.7 518.2,439.5 520,439C521.8,438.5 523.2,433.5 525,433C526.8,432.5 529.2,436.5 531,436C532.8,435.5 534.3,430.5 536,430C537.7,429.5 540.2,432.5 541,433" fill="none" stroke="#8f7408" stroke-width="1.3" opacity=".8" stroke-linecap="round"/>
<path d="M514,420C514.8,419.3 517.3,416.2 519,416C520.7,415.8 522.3,419.2 524,419C525.7,418.8 527.3,415.2 529,415C530.7,414.8 532.3,418.2 534,418C535.7,417.8 538.2,414.7 539,414" fill="none" stroke="#8f7408" stroke-width="1.3" opacity=".8" stroke-linecap="round"/>
<path d="M530,426C530.8,425.5 533.3,422.8 535,423C536.7,423.2 538.3,427 540,427C541.7,427 543.3,423 545,423C546.7,423 549.2,426.3 550,427" fill="none" stroke="#8f7408" stroke-width="1.3" opacity=".8" stroke-linecap="round"/>
<path d="M534,442C534.8,441.3 537.2,438.3 539,438C540.8,437.7 543.2,440.5 545,440C546.8,439.5 548.5,436.5 550,435C551.5,433.5 553.3,431.7 554,431" fill="none" stroke="#8f7408" stroke-width="1.3" opacity=".8" stroke-linecap="round"/>
<path d="M541,418C541.8,418.3 544.3,419 546,420C547.7,421 550.2,423.3 551,424" fill="none" stroke="#8f7408" stroke-width="1.3" opacity=".8" stroke-linecap="round"/>
<path d="M517,445C518,444.7 521,442.8 523,443C525,443.2 527,445.7 529,446C531,446.3 534,445.2 535,445" fill="none" stroke="#8f7408" stroke-width="1.3" opacity=".8" stroke-linecap="round"/>
<path d="M508,424L512,421" fill="none" stroke="#8f7408" stroke-width="1.3" opacity=".8" stroke-linecap="round"/>
<path d="M506.6,430.9C507.3,429.9 509.1,425.4 510.6,424.9C512.1,424.4 514.1,428.4 515.6,427.9C517.1,427.4 518.1,422.4 519.6,421.9C521.1,421.4 523.1,425.4 524.6,424.9C526.1,424.4 527.9,419.9 528.6,418.9" fill="none" stroke="#fbf27c" stroke-width="1.5" opacity=".85" stroke-linecap="round"/>
<path d="M509.6,438.9C510.4,438.1 512.8,434.2 514.6,433.9C516.4,433.6 518.8,437.4 520.6,436.9C522.4,436.4 523.8,431.4 525.6,430.9C527.4,430.4 529.8,434.4 531.6,433.9C533.4,433.4 534.9,428.4 536.6,427.9C538.3,427.4 540.8,430.4 541.6,430.9" fill="none" stroke="#fbf27c" stroke-width="1.5" opacity=".85" stroke-linecap="round"/>
<path d="M514.6,417.9C515.4,417.2 517.9,414.1 519.6,413.9C521.3,413.7 522.9,417.1 524.6,416.9C526.3,416.7 527.9,413.1 529.6,412.9C531.3,412.7 532.9,416.1 534.6,415.9C536.3,415.7 538.8,412.6 539.6,411.9" fill="none" stroke="#fbf27c" stroke-width="1.5" opacity=".85" stroke-linecap="round"/>
<path d="M530.6,423.9C531.4,423.4 533.9,420.7 535.6,420.9C537.3,421.1 538.9,424.9 540.6,424.9C542.3,424.9 543.9,420.9 545.6,420.9C547.3,420.9 549.8,424.2 550.6,424.9" fill="none" stroke="#fbf27c" stroke-width="1.5" opacity=".85" stroke-linecap="round"/>
<path d="M534.6,439.9C535.4,439.2 537.8,436.2 539.6,435.9C541.4,435.6 543.8,438.4 545.6,437.9C547.4,437.4 549.1,434.4 550.6,432.9C552.1,431.4 553.9,429.6 554.6,428.9" fill="none" stroke="#fbf27c" stroke-width="1.5" opacity=".85" stroke-linecap="round"/>
<path d="M541.6,415.9C542.4,416.2 544.9,416.9 546.6,417.9C548.3,418.9 550.8,421.2 551.6,421.9" fill="none" stroke="#fbf27c" stroke-width="1.5" opacity=".85" stroke-linecap="round"/>
<path d="M517.6,442.9C518.6,442.6 521.6,440.7 523.6,440.9C525.6,441.1 527.6,443.6 529.6,443.9C531.6,444.2 534.6,443.1 535.6,442.9" fill="none" stroke="#fbf27c" stroke-width="1.5" opacity=".85" stroke-linecap="round"/>
<path d="M508.6,421.9L512.6,418.9" fill="none" stroke="#fbf27c" stroke-width="1.5" opacity=".85" stroke-linecap="round"/>
<path d="M521,447C522.5,445.8 526.7,446.2 530,446C533.3,445.8 538.7,445.2 541,446C543.3,446.8 544.5,449.3 544,451C543.5,452.7 540.7,455 538,456C535.3,457 530.8,457.5 528,457C525.2,456.5 522.2,454.7 521,453C519.8,451.3 519.5,448.2 521,447Z" fill="#86c625"/>
<path d="M524,450C525.2,449.8 528.5,449 531,449C533.5,449 537.7,449.8 539,450" fill="none" stroke="#c8e66a" stroke-width="1.4" opacity=".8"/>
<path d="M514,446C514.8,447.4 516.7,452.3 519,454.5C521.3,456.7 524.3,458.6 528,459C531.7,459.4 537.8,458.8 541,457C544.2,455.2 546.4,450.7 547.5,448C548.6,445.3 547.5,442.2 547.5,441" fill="none" stroke="#1c1c12" stroke-width="4.4" stroke-linecap="round"/>
<path d="M486,482C490.3,481.1 503.2,478.6 511.7,476.7C520.1,474.8 528.4,472.8 536.7,470.8C545,468.9 555.2,467.1 561.7,465C568.2,462.9 572.3,459.8 576,458C579.7,456.2 582.7,454.7 584,454" fill="none" stroke="#1c1c12" stroke-width="5.2"/>
<path d="M486,482C490.3,481.1 503.2,478.6 511.7,476.7C520.1,474.8 528.4,472.8 536.7,470.8C545,468.9 557.5,466 561.7,465L557.5,468C558.1,469.7 561,474.3 561,478C561,481.7 560.2,486.2 557.5,490C554.8,493.8 549.9,498.5 545,501C540.1,503.5 533.5,504.7 528,505C522.5,505.3 517.2,504.4 511.7,503C506.2,501.6 499.2,499.4 495,496.7C490.8,494 488.1,488.4 486.7,486.7Z" fill="#f1e71b"/>
<path d="M486.7,486.7C488.1,488.4 490.8,494 495,496.7C499.2,499.4 506.2,501.6 511.7,503C517.2,504.4 522.5,505.3 528,505C533.5,504.7 540.1,503.5 545,501C549.9,498.5 554.8,493.8 557.5,490C560.2,486.2 561,481.7 561,478C561,474.3 558.1,469.7 557.5,468" fill="none" stroke="#1c1c12" stroke-width="5.2"/>
<path d="M500,508C502.8,486.3 513,506.2 520,506C527,505.8 536,505 542,507C548,509 554,512.5 556,518C558,523.5 555.3,533 554,540C552.7,547 549,552.5 548,560C547,567.5 547.2,576.7 548,585C548.8,593.3 550.5,602.2 553,610C555.5,617.8 561.8,626.3 563,632C564.2,637.7 567.2,642 560,644C552.8,646 529.5,645.3 520,644C510.5,642.7 506.3,658.7 503,636C499.7,613.3 497.2,529.7 500,508Z" fill="url(#ytexL)" filter="url(#rough)"/>
<path d="M515,560C515.8,566.7 516.7,588.3 520,600C523.3,611.7 532.5,625 535,630" fill="none" stroke="#f6d858" stroke-width="8" opacity=".7" filter="url(#blur2)" stroke-linecap="round"/>
<path d="M534,545C533.7,552.5 530.2,576.7 532,590C533.8,603.3 542.8,619.2 545,625" fill="none" stroke="#e6a61a" stroke-width="5" opacity=".6" filter="url(#blur2)" stroke-linecap="round"/>
<path d="M486,488 L486,645 Q487,657 497,660 L515,662 L547,665 L590,666 L590,646 L525,646.5 Q504,645 503,625 L500,580 L497.5,540 L497,500 Z" fill="#f0e21e"/>
<path d="M492,520C491.8,525 490.3,540 490.5,550C490.7,560 492.2,571.7 493,580C493.8,588.3 494.8,593.8 495,600C495.2,606.2 494.2,614.2 494,617" fill="none" stroke="#e9815a" stroke-width="6" stroke-linecap="round" stroke-dasharray="3 1.5" opacity=".9"/>
<path d="M492,522C491.8,526.7 490.8,540.3 491,550C491.2,559.7 492.8,569.7 493.5,580C494.2,590.3 494.8,606.7 495,612" fill="none" stroke="#d9603c" stroke-width="2" stroke-dasharray="2 3" opacity=".8"/>
<path d="M497,504 L497.5,540 L500,580 L503,625 Q504,645 525,646.5 L590,646" fill="none" stroke="#1c1c12" stroke-width="5.2"/>
<path d="M486,640 Q486,657 497,660 L515,662 L547,665 L590,666" fill="none" stroke="#1c1c12" stroke-width="5.2"/>
<path d="M485.5,470 L486,645" fill="none" stroke="#1c1c12" stroke-width="5.8"/>
<path d="M525,503 L526,512" fill="none" stroke="#1c1c12" stroke-width="7"/>
<ellipse cx="526.7" cy="524.6" rx="13.6" ry="13.6" fill="#e52a1b" stroke="#1c1c12" stroke-width="5.6"/>
<path d="M584,527C582.8,527.5 581.1,526.5 576.7,530C572.3,533.5 562.1,542.2 557.5,548C552.9,553.8 550.8,559.7 549,565C547.2,570.3 546.8,574.7 547,580C547.2,585.3 547.8,592.2 550,597C552.2,601.8 555.8,606.3 560,609C564.2,611.7 570.7,612.5 575,613C579.3,613.5 584.2,612.2 586,612Z" fill="#e7118d"/>
<path d="M584,527C582.8,527.5 581.1,526.5 576.7,530C572.3,533.5 562.1,542.2 557.5,548C552.9,553.8 550.8,559.7 549,565C547.2,570.3 546.8,574.7 547,580C547.2,585.3 547.8,592.2 550,597C552.2,601.8 555.8,606.3 560,609C564.2,611.7 570.7,612.5 575,613C579.3,613.5 584.2,612.2 586,612" fill="none" stroke="#1c1c12" stroke-width="5.2"/>
<path d="M482,379C483,380 485.2,382.7 488,385C490.8,387.3 494.3,390.8 499,393C503.7,395.2 510.4,397.4 516,398C521.6,398.6 527,398 532.5,396.7C538,395.4 543.8,392.9 549,390C554.2,387.1 560.7,381.7 564,379C567.3,376.3 568.2,374.8 569,374" fill="none" stroke="#1c1c12" stroke-width="5.2" stroke-linecap="round"/>
<path d="M422,393C422.6,393.5 423.3,394.2 425.4,396C427.5,397.8 430.8,401.6 434.7,403.5C438.6,405.4 444,406.9 448.7,407.2C453.4,407.5 458,407.3 462.7,405.4C467.4,403.5 473.8,398.2 476.7,396C479.6,393.8 479.4,392.7 480,392" fill="none" stroke="#1c1c12" stroke-width="5.2" stroke-linecap="round"/>
<path d="M371,423C371.5,423.5 371.9,424.5 374,425.9C376.1,427.3 379.4,430.4 383.3,431.5C387.2,432.6 392.6,433 397.3,432.4C402,431.8 407.5,429.7 411.4,427.8C415.3,425.9 419.1,422.3 420.7,421.2" fill="none" stroke="#1c1c12" stroke-width="5.2" stroke-linecap="round"/>
<path d="M327,451C327.6,451.5 328.3,452.6 330.4,453.9C332.5,455.2 336.6,457.8 339.7,458.6C342.8,459.4 345.9,459.2 349,458.6C352.1,458 355.3,456.7 358.4,454.8C361.5,452.9 365.6,449.1 367.7,447.3C369.8,445.5 370.4,444.6 371,444" fill="none" stroke="#1c1c12" stroke-width="5.2" stroke-linecap="round"/>
<path d="M285,488C285.7,488.7 287.2,490.4 289.3,492.2C291.4,494 294.8,497.3 297.7,498.7C300.6,500.1 303.7,500.9 307,500.6C310.3,500.3 314.5,498.2 317.3,496.8C320.1,495.4 322.4,493.3 323.8,492.2C325.2,491.1 325.6,490.4 326,490" fill="none" stroke="#1c1c12" stroke-width="5.2" stroke-linecap="round"/>
<clipPath id="sunclipL"><path d="M330,691.7L343,690L353,681.7L361.7,665L380,670.8L396.7,655.8L411.7,666.7L430,659L440,667.5L455,661.7L456.7,672.5L473,675.8L473,695L486.7,698L483,713L471.7,718L485,728L476.7,740L471.7,746.7L480,753L466.7,756.7L468,766.7L456.7,763L463,780L448,790L433,800L420,796.7L410,808L388,793L375,798L370,781.7L350,781.7L346.7,766.7L338,750L345,735L334,726L340,712L331.7,713L336.7,701.7Z"/></clipPath>
<g clip-path="url(#sunclipL)">
<rect x="320" y="650" width="180" height="170" fill="#f5d01c"/>
<path d="M420,738L540,740.7L535.4,771Z" fill="#ee5a10"/>
<path d="M420,738L526.9,792.5L509.7,817.8Z" fill="#ee5a10"/>
<path d="M420,738L492.7,833.5L466.2,848.8Z" fill="#ee5a10"/>
<path d="M420,738L444.1,855.6L413.5,857.8Z" fill="#ee5a10"/>
<path d="M420,738L390.7,854.4L362.2,843.2Z" fill="#ee5a10"/>
<path d="M420,738L343.1,830.1L322.3,807.7Z" fill="#ee5a10"/>
<path d="M420,738L310.7,787.6L301.7,758.4Z" fill="#ee5a10"/>
<path d="M420,738L300,735.3L304.6,705Z" fill="#ee5a10"/>
<path d="M420,738L313.1,683.5L330.3,658.2Z" fill="#ee5a10"/>
<path d="M420,738L347.3,642.5L373.8,627.2Z" fill="#ee5a10"/>
<path d="M420,738L395.9,620.4L426.5,618.2Z" fill="#ee5a10"/>
<path d="M420,738L449.3,621.6L477.8,632.8Z" fill="#ee5a10"/>
<path d="M420,738L496.9,645.9L517.7,668.3Z" fill="#ee5a10"/>
<path d="M420,738L529.3,688.4L538.3,717.6Z" fill="#ee5a10"/>
<circle cx="420" cy="738" r="100" fill="url(#sung)"/>
<path d="M486,640C481.2,644 464.7,658.7 457,664C449.3,669.3 449.5,668.5 440,672C430.5,675.5 414.2,682 400,685C385.8,688 369.7,690.2 355,690C340.3,689.8 325.2,687.2 312,684C298.8,680.8 284.3,674 276,671C267.7,668 264.3,666.8 262,666L262,600 L486,600Z" fill="#9ccc20" opacity=".3"/>
</g>
<path d="M330,691.7L343,690L353,681.7L361.7,665L380,670.8L396.7,655.8L411.7,666.7L430,659L440,667.5L455,661.7L456.7,672.5L473,675.8L473,695L486.7,698L483,713L471.7,718L485,728L476.7,740L471.7,746.7L480,753L466.7,756.7L468,766.7L456.7,763L463,780L448,790L433,800L420,796.7L410,808L388,793L375,798L370,781.7L350,781.7L346.7,766.7L338,750L345,735L334,726L340,712L331.7,713L336.7,701.7Z" fill="none" stroke="#1c1c12" stroke-width="5.2" stroke-linejoin="miter"/>
<path d="M486,640C481.2,644 464.7,658.7 457,664C449.3,669.3 449.5,668.5 440,672C430.5,675.5 414.2,682 400,685C385.8,688 369.7,690.2 355,690C340.3,689.8 325.2,687.2 312,684C298.8,680.8 284.3,674 276,671C267.7,668 264.3,666.8 262,666" fill="none" stroke="#1c1c12" stroke-width="5.2"/>
<path d="M502,659C498.8,661.3 488,667.2 483,673C478,678.8 474.7,687 472,694C469.3,701 468,707.3 467,715C466,722.7 466.5,730.8 466,740C465.5,749.2 464.1,760.8 464,770C463.9,779.2 464,787.7 465.5,795C467,802.3 468.6,808.8 473,814C477.4,819.2 485.5,823.2 492,826C498.5,828.8 505,829.8 512,831C519,832.2 530.3,832.7 534,833" fill="none" stroke="#1c1c12" stroke-width="5.2"/>
<g transform="translate(301.5,538) rotate(-6) scale(1)">
<path d="M-4,-22C-1.5,-22.8 2.5,-22.5 5,-21C7.5,-19.5 9.8,-16.2 11,-13C12.2,-9.8 12.3,-5.5 12,-2C11.7,1.5 9.7,5 9,8C8.3,11 9,13.7 8,16C7,18.3 4.8,21.2 3,22C1.2,22.8 -1.5,22.3 -3,21C-4.5,19.7 -5.2,16.8 -6,14C-6.8,11.2 -7.2,7.3 -8,4C-8.8,0.7 -10.7,-2.7 -11,-6C-11.3,-9.3 -11.2,-13.3 -10,-16C-8.8,-18.7 -6.5,-21.2 -4,-22Z" fill="#e8643a"/>
<path d="M-5,12C-4.2,10.2 -0.2,9 2,9C4.2,9 7.2,10.5 8,12C8.8,13.5 8,16.3 7,18C6,19.7 3.7,21.7 2,22C0.3,22.3 -1.8,21.7 -3,20C-4.2,18.3 -5.8,13.8 -5,12Z" fill="#f6b6a6"/>
<path d="M-7,-14C-6.2,-14.8 -4,-18.5 -2,-19C0,-19.5 3.3,-18.7 5,-17C6.7,-15.3 7.5,-11.8 8,-9C8.5,-6.2 8,-1.5 8,0" fill="none" stroke="#f7a888" stroke-width="2.2" stroke-linecap="round"/>
<path d="M-4,-10C-3.2,-12.5 -0.3,-13.5 1,-13C2.3,-12.5 3.7,-9.5 4,-7C4.3,-4.5 3.8,-0.3 3,2C2.2,4.3 0.2,7 -1,7C-2.2,7 -3.5,4.8 -4,2C-4.5,-0.8 -4.8,-7.5 -4,-10Z" fill="#c9401f"/>
<path d="M-2,-6C-1.5,-5.3 0.7,-3.7 1,-2C1.3,-0.3 0.2,3 0,4" fill="none" stroke="#f19a7a" stroke-width="1.6" stroke-linecap="round"/>
</g>
<g transform="translate(348,511) rotate(4) scale(1)">
<path d="M-4,-22C-1.5,-22.8 2.5,-22.5 5,-21C7.5,-19.5 9.8,-16.2 11,-13C12.2,-9.8 12.3,-5.5 12,-2C11.7,1.5 9.7,5 9,8C8.3,11 9,13.7 8,16C7,18.3 4.8,21.2 3,22C1.2,22.8 -1.5,22.3 -3,21C-4.5,19.7 -5.2,16.8 -6,14C-6.8,11.2 -7.2,7.3 -8,4C-8.8,0.7 -10.7,-2.7 -11,-6C-11.3,-9.3 -11.2,-13.3 -10,-16C-8.8,-18.7 -6.5,-21.2 -4,-22Z" fill="#e8643a"/>
<path d="M-5,12C-4.2,10.2 -0.2,9 2,9C4.2,9 7.2,10.5 8,12C8.8,13.5 8,16.3 7,18C6,19.7 3.7,21.7 2,22C0.3,22.3 -1.8,21.7 -3,20C-4.2,18.3 -5.8,13.8 -5,12Z" fill="#f6b6a6"/>
<path d="M-7,-14C-6.2,-14.8 -4,-18.5 -2,-19C0,-19.5 3.3,-18.7 5,-17C6.7,-15.3 7.5,-11.8 8,-9C8.5,-6.2 8,-1.5 8,0" fill="none" stroke="#f7a888" stroke-width="2.2" stroke-linecap="round"/>
<path d="M-4,-10C-3.2,-12.5 -0.3,-13.5 1,-13C2.3,-12.5 3.7,-9.5 4,-7C4.3,-4.5 3.8,-0.3 3,2C2.2,4.3 0.2,7 -1,7C-2.2,7 -3.5,4.8 -4,2C-4.5,-0.8 -4.8,-7.5 -4,-10Z" fill="#c9401f"/>
<path d="M-2,-6C-1.5,-5.3 0.7,-3.7 1,-2C1.3,-0.3 0.2,3 0,4" fill="none" stroke="#f19a7a" stroke-width="1.6" stroke-linecap="round"/>
</g>
<g transform="translate(397.6,483.5) rotate(4)">
<ellipse cx="0" cy="0" rx="19.5" ry="10" fill="#8a4a16" filter="url(#blur1)"/>
<ellipse cx="0" cy="-1" rx="15.5" ry="5.5" fill="#5a2e0c" filter="url(#blur1)"/>
<ellipse cx="0" cy="2.5" rx="13.5" ry="4" fill="#b9793a" filter="url(#blur1)"/>
<path d="M-10.5,1 Q0,-5.5 10.5,1 Q0,6 -10.5,1Z" fill="#c9a97e"/>
<ellipse cx="0.5" cy="0.4" rx="4.6" ry="4.3" fill="#5e4a26"/>
<ellipse cx="0.5" cy="0.4" rx="2" ry="2" fill="#1a140a"/>
<ellipse cx="-0.8" cy="-1" rx="0.8" ry="0.8" fill="#f4efe2"/>
</g>
<g transform="translate(450.4,467.5) rotate(-2)">
<ellipse cx="0" cy="0" rx="20.5" ry="11" fill="#8a4a16" filter="url(#blur1)"/>
<ellipse cx="0" cy="-1" rx="16.5" ry="6.5" fill="#5a2e0c" filter="url(#blur1)"/>
<ellipse cx="0" cy="2.5" rx="14.5" ry="5" fill="#b9793a" filter="url(#blur1)"/>
<path d="M-11.5,1 Q0,-6.5 11.5,1 Q0,7 -11.5,1Z" fill="#c9a97e"/>
<ellipse cx="0.5" cy="0.4" rx="4.6" ry="4.3" fill="#5e4a26"/>
<ellipse cx="0.5" cy="0.4" rx="2" ry="2" fill="#1a140a"/>
<ellipse cx="-0.8" cy="-1" rx="0.8" ry="0.8" fill="#f4efe2"/>
</g>
<g transform="translate(339,543.5) scale(0.5,0.5)">
<path d="M40,0 L62,0 Q68,10 64,24 L62,34 Q75,38 90,44 Q100,50 100,70 L98,100 L2,100 L0,72 Q0,52 10,45 Q25,38 42,34 L40,24 Q34,10 40,0Z" fill="#f0a468"/>
<path d="M40,0 L53,0 L54,22 L42,26 Q35,10 40,0Z" fill="#8a5630"/>
<path d="M53,0 L62,0 Q68,10 64,24 L62,34 L54,34 Z" fill="#d8663a"/>
<path d="M54,32 L62,34 Q75,38 90,44 Q100,50 100,70 L98,100 L60,100 L57,70 Z" fill="#e05424"/>
<path d="M68,44C69,39 78,43.3 82,46C86,48.7 90.7,54 92,60C93.3,66 92.7,79.3 90,82C87.3,84.7 79.7,82.3 76,76C72.3,69.7 67,49 68,44Z" fill="#f08a50"/>
<path d="M61,60C62.3,63.3 67.3,73.3 69,80C70.7,86.7 70.7,96.7 71,100" fill="none" stroke="#b63414" stroke-width="3"/>
<path d="M82,54C84,57.7 92.2,68.3 94,76C95.8,83.7 93.2,96 93,100" fill="none" stroke="#b63414" stroke-width="3"/>
<path d="M63,38C65.2,39.3 72.2,45 76,46C79.8,47 84.3,44.3 86,44" fill="none" stroke="#f6a878" stroke-width="3"/>
<path d="M53,8 L55,100" fill="none" stroke="#f9e4cc" stroke-width="3.6"/>
<path d="M14,54C15,57.3 19.3,66.3 20,74C20.7,81.7 18.3,95.7 18,100" fill="none" stroke="#d8824a" stroke-width="4"/>
<path d="M28,46C30,48 38,51.7 40,58C42,64.3 40,79.7 40,84" fill="none" stroke="#f9d2a4" stroke-width="7" stroke-linecap="round"/>
<path d="M30,100L32,86" fill="none" stroke="#d8824a" stroke-width="3"/>
<path d="M6,60C6.3,63.3 8,73.7 8,80C8,86.3 6.3,95 6,98" fill="none" stroke="#f7c594" stroke-width="3"/>
</g>
<g transform="translate(418.5,516) scale(0.6,0.7)">
<path d="M40,0 L62,0 Q68,10 64,24 L62,34 Q75,38 90,44 Q100,50 100,70 L98,100 L2,100 L0,72 Q0,52 10,45 Q25,38 42,34 L40,24 Q34,10 40,0Z" fill="#f0a468"/>
<path d="M40,0 L53,0 L54,22 L42,26 Q35,10 40,0Z" fill="#8a5630"/>
<path d="M53,0 L62,0 Q68,10 64,24 L62,34 L54,34 Z" fill="#d8663a"/>
<path d="M54,32 L62,34 Q75,38 90,44 Q100,50 100,70 L98,100 L60,100 L57,70 Z" fill="#e05424"/>
<path d="M68,44C69,39 78,43.3 82,46C86,48.7 90.7,54 92,60C93.3,66 92.7,79.3 90,82C87.3,84.7 79.7,82.3 76,76C72.3,69.7 67,49 68,44Z" fill="#f08a50"/>
<path d="M61,60C62.3,63.3 67.3,73.3 69,80C70.7,86.7 70.7,96.7 71,100" fill="none" stroke="#b63414" stroke-width="3"/>
<path d="M82,54C84,57.7 92.2,68.3 94,76C95.8,83.7 93.2,96 93,100" fill="none" stroke="#b63414" stroke-width="3"/>
<path d="M63,38C65.2,39.3 72.2,45 76,46C79.8,47 84.3,44.3 86,44" fill="none" stroke="#f6a878" stroke-width="3"/>
<path d="M53,8 L55,100" fill="none" stroke="#f9e4cc" stroke-width="3.6"/>
<path d="M14,54C15,57.3 19.3,66.3 20,74C20.7,81.7 18.3,95.7 18,100" fill="none" stroke="#d8824a" stroke-width="4"/>
<path d="M28,46C30,48 38,51.7 40,58C42,64.3 40,79.7 40,84" fill="none" stroke="#f9d2a4" stroke-width="7" stroke-linecap="round"/>
<path d="M30,100L32,86" fill="none" stroke="#d8824a" stroke-width="3"/>
<path d="M6,60C6.3,63.3 8,73.7 8,80C8,86.3 6.3,95 6,98" fill="none" stroke="#f7c594" stroke-width="3"/>
</g>
<path d="M402.5,568 L402.5,612" fill="none" stroke="#cfd9a8" stroke-width="3.6"/>
<path d="M402.5,568 L402.5,612" fill="none" stroke="#e9c6a2" stroke-width="1.6" stroke-dasharray="1.5 1.5"/>
<path d="M400,606C397.8,602.3 392,600 388,600C384,600 379.2,602.3 376,606C372.8,609.7 370.5,616 369,622C367.5,628 367.2,635.7 367,642C366.8,648.3 366.5,656.3 368,660C369.5,663.7 372.3,664.7 376,664C379.7,663.3 386.2,660 390,656C393.8,652 397.2,645.7 399,640C400.8,634.3 400.8,627.7 401,622C401.2,616.3 402.2,609.7 400,606Z" fill="#79bd33" stroke="#c3dba0" stroke-width="1.3"/>
<path d="M402,612C400.7,613.3 396.7,618 394,620C391.3,622 388.7,623.7 386,624C383.3,624.3 379.3,622.3 378,622" fill="none" stroke="#d9d2a0" stroke-width="1.2"/>
<path d="M394,620C393.3,622 392,628.7 390,632C388,635.3 384.7,638.3 382,640C379.3,641.7 375.3,641.7 374,642" fill="none" stroke="#d9d2a0" stroke-width="1.2"/>
<path d="M390,632C390.3,634 392.7,640.3 392,644C391.3,647.7 387,652.3 386,654" fill="none" stroke="#d9d2a0" stroke-width="1.2"/>
<path d="M386,624C385.3,622.3 383.3,616.3 382,614C380.7,611.7 378.7,610.7 378,610" fill="none" stroke="#d9d2a0" stroke-width="1.2"/>
<path d="M382,640C381.3,641.7 379.7,647.7 378,650C376.3,652.3 373,653.3 372,654" fill="none" stroke="#d9d2a0" stroke-width="1.2"/>
<path d="M396,616C396.3,618.3 398,625.3 398,630C398,634.7 396.3,641.7 396,644" fill="none" stroke="#d9d2a0" stroke-width="1.2"/>
<path d="M371,640 L369,662" fill="none" stroke="#9cc8e8" stroke-width="1.6"/>
<path d="M409,604C410.5,600.3 413.2,598.7 416,598C418.8,597.3 422.7,597.7 426,600C429.3,602.3 433.2,607 436,612C438.8,617 441.5,624 443,630C444.5,636 445.3,643.3 445,648C444.7,652.7 443.5,656 441,658C438.5,660 433.8,660.7 430,660C426.2,659.3 421.3,657.3 418,654C414.7,650.7 411.8,645.7 410,640C408.2,634.3 407.2,626 407,620C406.8,614 407.5,607.7 409,604Z" fill="url(#lungg)" stroke="#8a5a30" stroke-width="1"/>
<path d="M414,626C415.7,625.3 420.7,621.3 424,622C427.3,622.7 431.7,626.3 434,630C436.3,633.7 437.3,641.7 438,644" fill="none" stroke="#8e5a2e" stroke-width="1.3"/>
<path d="M412,640C413.3,639.3 417.3,635.3 420,636C422.7,636.7 425.7,641 428,644C430.3,647 433,652.3 434,654" fill="none" stroke="#f0cfa4" stroke-width="2" opacity=".8"/>
<path d="M414,610C415.3,609.3 419.3,605.7 422,606C424.7,606.3 428.7,611 430,612" fill="none" stroke="#e8c79c" stroke-width="2.4" opacity=".8"/>
<path d="M423,712C423.5,710.8 424.5,706.8 426,705C427.5,703.2 429.8,701.6 432,701C434.2,700.4 437,700.7 439,701.5C441,702.3 442.9,704.1 444,706C445.1,707.9 445.7,710.8 445.5,713C445.3,715.2 443.4,718 443,719" fill="none" stroke="#1c1c12" stroke-width="14" stroke-linecap="round"/>
<path d="M423,712C423.5,710.8 424.5,706.8 426,705C427.5,703.2 429.8,701.6 432,701C434.2,700.4 437,700.7 439,701.5C441,702.3 442.9,704.1 444,706C445.1,707.9 445.7,710.8 445.5,713C445.3,715.2 443.4,718 443,719" fill="none" stroke="#f0e022" stroke-width="4.6" stroke-linecap="round"/>
<path d="M431.5,768L441,790L492,902" fill="none" stroke="#1c1c12" stroke-width="12.6" stroke-linejoin="round"/>
<path d="M431.5,768L441,790L492,902" fill="none" stroke="#e9791c" stroke-width="5.2" stroke-linejoin="round"/>
<path d="M432,752 L446,754" fill="none" stroke="#1c1c12" stroke-width="7" stroke-linecap="round"/>
<path d="M436,753 L444,754" fill="none" stroke="#3a4a9a" stroke-width="2.4" stroke-linecap="round"/>
<path d="M410,712C414.5,709.7 419.5,708.5 424,709C428.5,709.5 434,711.5 437,715C440,718.5 441.8,725 442,730C442.2,735 439.7,740.5 438,745C436.3,749.5 433.3,752.8 432,757C430.7,761.2 431.5,765.8 430,770C428.5,774.2 426.3,779.1 423,782C419.7,784.9 414.3,787.7 410,787.5C405.7,787.3 400,785.1 397,781C394,776.9 392.8,769.8 392,763C391.2,756.2 391.2,746.7 392,740C392.8,733.3 394,727.7 397,723C400,718.3 405.5,714.3 410,712Z" fill="url(#kidg)" stroke="#1c1c12" stroke-width="6.2"/>
<path d="M402,740C402.3,743.3 402.7,754 404,760C405.3,766 409,773.3 410,776" fill="none" stroke="#b77f8a" stroke-width="2.2" opacity=".8"/>
<path d="M410,722C412,721.3 418.3,717.3 422,718C425.7,718.7 430.3,724.7 432,726" fill="none" stroke="#ecd0d0" stroke-width="3" opacity=".8"/>
<path d="M414,750C415,751.7 419,756.3 420,760C421,763.7 420,770 420,772" fill="none" stroke="#e7c0bb" stroke-width="3" opacity=".7"/>
<path d="M335,705C328,707.8 318.9,711.2 313,717C307.1,722.8 301.5,733.3 299.5,740C297.5,746.7 299.9,751.8 301,757C302.1,762.2 303.5,766.3 306,771C308.5,775.7 312.3,781.2 316,785C319.7,788.8 324.5,793.5 328,794C331.5,794.5 334.2,791.2 337,788C339.8,784.8 342.8,780 345,775C347.2,770 345.8,762.7 350,758C354.2,753.3 364.8,751.2 370,747C375.2,742.8 377.5,739.2 381,733C384.5,726.8 389.7,716.2 391,710C392.3,703.8 392,698.7 389,696C386,693.3 378.7,693.2 373,694C367.3,694.8 361.3,698.7 355,700.5C348.7,702.3 342,702.2 335,705Z" fill="url(#livg)" stroke="#1c1c12" stroke-width="6.2"/>
<ellipse cx="319" cy="738" rx="9" ry="13" fill="#fcc09a" opacity=".85" filter="url(#blur3)"/>
<ellipse cx="363" cy="719" rx="9" ry="12" fill="#fcc09a" opacity=".8" filter="url(#blur3)" transform="rotate(25 363 719)"/>
<path d="M310,765C311.3,767.2 315,774.5 318,778C321,781.5 326.3,784.7 328,786" fill="none" stroke="#b82408" stroke-width="4" opacity=".6" filter="url(#blur1)"/>
<path d="M341,712C341.8,713.7 344.5,718.5 346,722C347.5,725.5 348.7,728 350,733C351.3,738 353.3,748.8 354,752" fill="none" stroke="#f9d6c6" stroke-width="2.2" stroke-linecap="round"/>
<path d="M341,712C342.8,711.2 348.5,708.2 352,707C355.5,705.8 360.3,705.3 362,705" fill="none" stroke="#d98a78" stroke-width="2" stroke-linecap="round" opacity=".8"/>
<path d="M329.5,705.6L337,715L330.5,724.8L341,733L334.8,748L343,756.8L349.7,765L345.5,772.8L352,779" fill="none" stroke="#1c1c12" stroke-width="5.2" stroke-linejoin="miter"/>
<ellipse cx="369.8" cy="756.6" rx="9.2" ry="9.2" fill="#86aa24" stroke="#1c1c12" stroke-width="6.2"/>
<path d="M366,753 L373,760 M369,751.5 L375,757.5" fill="none" stroke="#b9d05a" stroke-width="1.7"/>
<rect x="363" y="927" width="37" height="23" rx="6" fill="#c9452e" stroke="#1c1c12" stroke-width="5.6"/>
<path d="M369,938C370.5,937.3 374.8,934 378,934C381.2,934 385.3,936.5 388,938C390.7,939.5 393,942.2 394,943" fill="none" stroke="#f0a890" stroke-width="3.2" stroke-linecap="round"/>
<path d="M370,951C370.7,955 372,967.7 374,975C376,982.3 378.7,990.2 382,995C385.3,999.8 390,1002.5 394,1004C398,1005.5 403,1006 406,1004C409,1002 411.5,997.3 412,992C412.5,986.7 410.7,978.8 409,972C407.3,965.2 403.2,954.5 402,951Z" fill="#de2212" stroke="#1c1c12" stroke-width="5.6"/>
<path d="M376,958C376.8,954.7 382.7,953.7 386,954C389.3,954.3 393.7,957 396,960C398.3,963 400.7,968.7 400,972C399.3,975.3 395.2,979.7 392,980C388.8,980.3 383.7,977.7 381,974C378.3,970.3 375.2,961.3 376,958Z" fill="#e9a28e"/>
<path d="M380,964C381.3,963.7 385.7,961.3 388,962C390.3,962.7 393,967 394,968" fill="none" stroke="#b8341c" stroke-width="2"/>
<path d="M402,975C402.3,977.5 404.3,985.8 404,990C403.7,994.2 400.7,998.3 400,1000" fill="none" stroke="#f2b0a0" stroke-width="1.6"/>
<path d="M336,1164C337.7,1161.5 341.8,1152.5 346,1149C350.2,1145.5 356.5,1143.2 361,1143C365.5,1142.8 368.2,1144.3 373,1148C377.8,1151.7 381.3,1160.3 390,1165C398.7,1169.7 414.2,1175.8 425,1176C435.8,1176.2 445.8,1172.3 455,1166C464.2,1159.7 474.2,1147.3 480,1138C485.8,1128.7 487.2,1117.8 490,1110C492.8,1102.2 493.7,1095.2 497,1091C500.3,1086.8 506,1084.7 510,1085C514,1085.3 517.5,1090.3 521,1093C524.5,1095.7 529.3,1099.7 531,1101L560,1100 L560,1240 L300,1240 L300,1164 Z" fill="#e40f72"/>
<path d="M336,1164C337.7,1161.5 341.8,1152.5 346,1149C350.2,1145.5 356.5,1143.2 361,1143C365.5,1142.8 368.2,1144.3 373,1148C377.8,1151.7 381.3,1160.3 390,1165C398.7,1169.7 414.2,1175.8 425,1176C435.8,1176.2 445.8,1172.3 455,1166C464.2,1159.7 474.2,1147.3 480,1138C485.8,1128.7 487.2,1117.8 490,1110C492.8,1102.2 493.7,1095.2 497,1091C500.3,1086.8 506,1084.7 510,1085C514,1085.3 517.5,1090.3 521,1093C524.5,1095.7 529.3,1099.7 531,1101" fill="none" stroke="#1c1c12" stroke-width="5.6"/>
<path d="M424,1030 L423,1038" fill="none" stroke="#1c1c12" stroke-width="8"/>
<ellipse cx="425" cy="1017.5" rx="16.2" ry="11.2" fill="#d9d61c" stroke="#1c1c12" stroke-width="5.4"/>
<ellipse cx="419.4" cy="1081" rx="40" ry="45.5" fill="#7fc3ef" stroke="#1c1c12" stroke-width="6.2" transform="rotate(-8 419.4 1081)"/>
<path d="M398,1095C398.8,1091.2 401.7,1087.5 405,1086C408.3,1084.5 414.2,1084.7 418,1086C421.8,1087.3 426,1090.5 428,1094C430,1097.5 430.8,1103.2 430,1107C429.2,1110.8 426.3,1115.2 423,1117C419.7,1118.8 413.8,1119.3 410,1118C406.2,1116.7 402,1112.8 400,1109C398,1105.2 397.2,1098.8 398,1095Z" fill="#b4acd9" stroke="#8d86b8" stroke-width="1"/>
<path d="M404,1098C405.3,1097 409.2,1092.3 412,1092C414.8,1091.7 419,1093.8 421,1096C423,1098.2 423.5,1103.5 424,1105" fill="none" stroke="#e6e2f4" stroke-width="2.2" opacity=".9"/>
<path d="M408,1108C409.3,1108.5 413.5,1111 416,1111C418.5,1111 421.8,1108.5 423,1108" fill="none" stroke="#8a82b5" stroke-width="1.2"/>
<path d="M434,1062L450,1060L446,1082L441,1104L437,1104Z" fill="#f7dba3"/>
<path d="M397,1072 L437,1090" fill="none" stroke="#f3ead9" stroke-width="4" stroke-linecap="round"/>
<path d="M430,1050 L427,1108" fill="none" stroke="#e9dcc8" stroke-width="1.6"/>
<path d="M394,1062C394.8,1060 396.7,1052.2 399,1050C401.3,1047.8 405.8,1047.7 408,1049C410.2,1050.3 410,1055.8 412,1058C414,1060.2 417.3,1061.7 420,1062C422.7,1062.3 427,1058.7 428,1060C429,1061.3 428,1067 426,1070C424,1073 419,1077.2 416,1078C413,1078.8 409.7,1076.8 408,1075C406.3,1073.2 407.7,1068.2 406,1067C404.3,1065.8 399.3,1067.8 398,1068" fill="none" stroke="#e68c55" stroke-width="4.2" stroke-linecap="round" stroke-linejoin="round"/>
<path d="M394,1062C394.8,1060 396.7,1052.2 399,1050C401.3,1047.8 405.8,1047.7 408,1049C410.2,1050.3 410,1055.8 412,1058C414,1060.2 417.3,1061.7 420,1062C422.7,1062.3 426.7,1060.3 428,1060" fill="none" stroke="#f6c79b" stroke-width="1.4" stroke-linecap="round"/>
</g>
<path d="M482,487C482.4,484.2 484.1,477.8 484.5,470C484.9,462.2 484.5,454.7 484.5,440C484.5,425.3 483.8,394.1 484.5,382C485.2,369.9 486.8,371.8 489,367.5C491.2,363.2 494,359 497.5,356C501,353 504.9,350.8 510,349.5C515.1,348.2 522.2,347.6 528,348C533.8,348.4 540.1,349.3 545,351.7C549.9,354.1 554,358.2 557.5,362.5C561,366.8 563.5,372.2 566,377.5C568.5,382.8 570.6,387.8 572.5,394C574.4,400.2 576.2,407.3 577.5,415C578.8,422.7 579.9,433.3 580,440C580.1,446.7 579,450.4 578,455C577,459.6 575,462 574,467.5C573,473 572.2,480.4 571.7,488C571.2,495.6 570.6,506 571,513C571.4,520 572.9,524.4 574,530C575.1,535.6 576.5,540.5 577.5,546.7C578.5,552.9 579.6,557.3 580,567C580.4,576.7 580.9,594.5 580,605C579.1,615.5 575.9,620.5 574.4,630C572.9,639.5 572.4,653.2 571,662C569.6,670.8 568.7,674.2 566,683C563.3,691.8 559.3,704.3 555,715C550.7,725.7 543.9,736.3 540,747C536.1,757.7 533.9,769.8 531.5,779C529.1,788.2 527.4,791.8 525.5,802C523.6,812.2 521.1,825.3 520,840C518.9,854.7 518.8,869.2 519,890C519.2,910.8 520,944.2 521,965C522,985.8 524.3,994.2 525,1015C525.7,1035.8 525.7,1071.3 525,1090C524.3,1108.7 524,1114.5 521,1127C518,1139.5 514.7,1153.7 507,1165C499.3,1176.3 487.8,1188.3 475,1195C462.2,1201.7 445.5,1205 430,1205C414.5,1205 395.3,1200.5 382,1195C368.7,1189.5 358.5,1181.2 350,1172C341.5,1162.8 335.1,1153.7 331,1140C326.9,1126.3 326.2,1110.8 325.5,1090C324.8,1069.2 326.9,1038 327,1015C327.1,992 327.8,972.8 326,952C324.2,931.2 320.2,910.8 316,890C311.8,869.2 305.3,847.8 300.5,827C295.7,806.2 290.3,785.3 287,765C283.7,744.7 282.2,725.8 280.5,705C278.8,684.2 277.4,660.8 277,640C276.6,619.2 277.8,595.8 278,580C278.2,564.2 278.2,556.2 278.5,545C278.8,533.8 279.6,520.7 280,513C280.4,505.3 280.1,503.4 281,498.7C281.9,494 283.3,488.9 285.5,484.7C287.7,480.5 290.9,476.6 294,473.5C297.1,470.4 301.2,467.6 304.2,466C307.1,464.4 309.2,463.4 311.7,463.7C314.2,464 317.2,465.2 319.2,467.9C321.1,470.6 322.5,475.6 323.4,480C324.3,484.4 324.4,489 324.8,494C325.2,499 325.3,504 325.5,510C325.7,516 325.6,524.7 326,530C326.4,535.3 327.7,540 328,542L329,542C328.8,536.7 328.3,522 328,510C327.7,498 327.1,480.4 327,470C326.9,459.6 326.7,453.1 327.6,447.3C328.5,441.5 329.9,438.6 332.2,435.2C334.5,431.8 338.5,428.7 341.6,426.8C344.7,424.9 347.8,423.9 350.9,424C354,424.1 357.5,425.4 360.2,427.7C362.9,430 365.2,433.9 366.8,438C368.4,442.1 369,447.3 369.6,452C370.2,456.7 370.3,459.7 370.5,466C370.7,472.3 370.7,481.2 371,490C371.3,498.8 372.2,514.2 372.5,519L374,519C373.8,514.2 373.4,503.2 373,490C372.6,476.8 371.5,453.7 371.5,440C371.5,426.3 371.2,415.5 373,408C374.8,400.5 378,397.9 382,395C386,392.1 392.3,390.7 397,390.5C401.7,390.3 406.5,391.6 410,394C413.5,396.4 416.3,399 418,405C419.7,411 419.6,420.8 420,430C420.4,439.2 420.1,450.2 420.5,460C420.9,469.8 422.2,484.2 422.5,489L424,489C424.1,474.2 424.2,418.7 424.5,400C424.8,381.3 424.4,383.7 426,377C427.6,370.3 429.7,364.2 434,360C438.3,355.8 446.2,352 452,351.5C457.8,351 464.8,353.6 469,357C473.2,360.4 475.4,364.8 477,372C478.6,379.2 478.6,391.2 478.8,400C479,408.8 478.6,417.5 478,425C477.4,432.5 476,438.3 475.5,445C475,451.7 474.8,459.5 475,465C475.2,470.5 475.9,474.3 477,478C478.1,481.7 480.8,485.5 481.5,487Z" fill="none" stroke="#1c1c12" stroke-width="5.7" stroke-linejoin="round"/>
<path d="M326.3,505 L328.5,540.5" fill="none" stroke="#1c1c12" stroke-width="9.6" stroke-linecap="round"/>
<path d="M327,521 L328.3,537" fill="none" stroke="#efe6d2" stroke-width="2.4" stroke-linecap="round"/>
<path d="M371.8,478 L373.5,518.5" fill="none" stroke="#1c1c12" stroke-width="9.6" stroke-linecap="round"/>
<path d="M372.3,495 L373.2,514" fill="none" stroke="#efe6d2" stroke-width="2.4" stroke-linecap="round"/>
<path d="M421.8,450 L423.3,488.5" fill="none" stroke="#1c1c12" stroke-width="9.6" stroke-linecap="round"/>
<path d="M422.6,459 L423.2,485" fill="none" stroke="#efe6d2" stroke-width="2.4" stroke-linecap="round"/></g>
<g id="footR" transform="matrix(-0.99325,-0.00643,-0.01288,0.99438,1440.842,1.194)"><clipPath id="clipR"><path d="M482,487C482.4,484.2 484.1,477.8 484.5,470C484.9,462.2 484.5,454.7 484.5,440C484.5,425.3 483.8,394.1 484.5,382C485.2,369.9 486.8,371.8 489,367.5C491.2,363.2 494,359 497.5,356C501,353 504.9,350.8 510,349.5C515.1,348.2 522.2,347.6 528,348C533.8,348.4 540.1,349.3 545,351.7C549.9,354.1 554,358.2 557.5,362.5C561,366.8 563.8,372.2 566,377.5C568.2,382.8 569.2,387.8 570.5,394C571.8,400.2 572.7,407.3 573.5,415C574.3,422.7 575.2,433.3 575.5,440C575.8,446.7 575.5,450.4 575,455C574.5,459.6 573,462 572.5,467.5C572,473 572,480.4 571.7,488C571.5,495.6 570.6,506 571,513C571.4,520 572.9,524.4 574,530C575.1,535.6 577,540.5 577.5,546.7C578,552.9 577,557.3 577,567C577,576.7 577.9,594.5 577.5,605C577.1,615.5 575.5,620.5 574.4,630C573.3,639.5 572.4,653.2 571,662C569.6,670.8 568.7,674.2 566,683C563.3,691.8 559.3,704.3 555,715C550.7,725.7 543.9,736.3 540,747C536.1,757.7 533.9,769.8 531.5,779C529.1,788.2 527.4,791.8 525.5,802C523.6,812.2 521.1,825.3 520,840C518.9,854.7 518.8,869.2 519,890C519.2,910.8 520,944.2 521,965C522,985.8 524.3,994.2 525,1015C525.7,1035.8 525.7,1071.3 525,1090C524.3,1108.7 524,1114.5 521,1127C518,1139.5 514.7,1153.7 507,1165C499.3,1176.3 487.8,1188.3 475,1195C462.2,1201.7 445.5,1205 430,1205C414.5,1205 395.3,1200.5 382,1195C368.7,1189.5 358.5,1181.2 350,1172C341.5,1162.8 335.1,1153.7 331,1140C326.9,1126.3 326.2,1110.8 325.5,1090C324.8,1069.2 326.9,1038 327,1015C327.1,992 327.8,972.8 326,952C324.2,931.2 320.2,910.8 316,890C311.8,869.2 305.3,847.8 300.5,827C295.7,806.2 290.3,785.3 287,765C283.7,744.7 282.2,725.8 280.5,705C278.8,684.2 277.4,660.8 277,640C276.6,619.2 277.8,595.8 278,580C278.2,564.2 278.2,556.2 278.5,545C278.8,533.8 279.6,520.7 280,513C280.4,505.3 280.1,503.4 281,498.7C281.9,494 283.3,488.9 285.5,484.7C287.7,480.5 290.9,476.6 294,473.5C297.1,470.4 301.2,467.6 304.2,466C307.1,464.4 309.2,463.4 311.7,463.7C314.2,464 317.2,465.2 319.2,467.9C321.1,470.6 322.5,475.6 323.4,480C324.3,484.4 324.4,489 324.8,494C325.2,499 325.3,504 325.5,510C325.7,516 325.6,524.7 326,530C326.4,535.3 327.7,540 328,542L329,542C328.8,536.7 328.3,522 328,510C327.7,498 327.1,480.4 327,470C326.9,459.6 326.7,453.1 327.6,447.3C328.5,441.5 329.9,438.6 332.2,435.2C334.5,431.8 338.5,428.7 341.6,426.8C344.7,424.9 347.8,423.9 350.9,424C354,424.1 357.5,425.4 360.2,427.7C362.9,430 365.2,433.9 366.8,438C368.4,442.1 369,447.3 369.6,452C370.2,456.7 370.3,459.7 370.5,466C370.7,472.3 370.7,481.2 371,490C371.3,498.8 372.2,514.2 372.5,519L374,519C373.8,514.2 373.4,503.2 373,490C372.6,476.8 371.5,453.7 371.5,440C371.5,426.3 371.2,415.5 373,408C374.8,400.5 378,397.9 382,395C386,392.1 392.3,390.7 397,390.5C401.7,390.3 406.5,391.6 410,394C413.5,396.4 416.3,399 418,405C419.7,411 419.6,420.8 420,430C420.4,439.2 420.1,450.2 420.5,460C420.9,469.8 422.2,484.2 422.5,489L424,489C424.1,474.2 424.2,418.7 424.5,400C424.8,381.3 424.4,383.7 426,377C427.6,370.3 429.7,364.2 434,360C438.3,355.8 446.2,352 452,351.5C457.8,351 464.8,353.6 469,357C473.2,360.4 475.4,364.8 477,372C478.6,379.2 478.6,391.2 478.8,400C479,408.8 478.6,417.5 478,425C477.4,432.5 476,438.3 475.5,445C475,451.7 474.8,459.5 475,465C475.2,470.5 475.9,474.3 477,478C478.1,481.7 480.8,485.5 481.5,487Z"/></clipPath>
<g clip-path="url(#clipR)">
<rect x="250" y="330" width="360" height="900" fill="#f8d9b6"/>
<path d="M328,690C331.8,680.7 333,684 345,684C357,684 379.2,691.3 400,690C420.8,688.7 455,674.3 470,676C485,677.7 481.7,674 490,700C498.3,726 518.3,798.7 520,832C521.7,865.3 505.5,872 500,900C494.5,928 489.5,981.3 487,1000C484.5,1018.7 486.8,1003.3 485,1012C483.2,1020.7 481.5,1038.2 476,1052C470.5,1065.8 462.7,1080.3 452,1095C441.3,1109.7 423.7,1130.7 412,1140C400.3,1149.3 392.7,1152.5 382,1151C371.3,1149.5 355.3,1145.3 348,1131C340.7,1116.7 340.2,1086.8 338,1065C335.8,1043.2 336.3,1020.8 335,1000C333.7,979.2 331.8,960 330,940C328.2,920 325.3,898.3 324,880C322.7,861.7 321.7,845 322,830C322.3,815 326,805 326,790C326,775 321.7,756.7 322,740C322.3,723.3 324.2,699.3 328,690Z" fill="url(#ytexR)" filter="url(#rough)"/>
<path d="M352,1010C351.7,1018.3 348.7,1043.3 350,1060C351.3,1076.7 354.2,1096.7 360,1110C365.8,1123.3 380.8,1135 385,1140" fill="none" stroke="#f7d95a" stroke-width="9" stroke-linecap="round" opacity="0.8" filter="url(#blur2)"/>
<path d="M372,1010C371.3,1018.3 366.7,1045 368,1060C369.3,1075 374.7,1088.7 380,1100C385.3,1111.3 396.7,1123.3 400,1128" fill="none" stroke="#e7a91b" stroke-width="6" stroke-linecap="round" opacity="0.6" filter="url(#blur2)"/>
<path d="M395,1035L392,1070" fill="none" stroke="#f7dc60" stroke-width="8" stroke-linecap="round" opacity="0.7" filter="url(#blur2)"/>
<path d="M470,1010C468.7,1016.7 467,1036.7 462,1050C457,1063.3 447.8,1077.5 440,1090C432.2,1102.5 419.2,1119.2 415,1125" fill="none" stroke="#e9ab1e" stroke-width="6" stroke-linecap="round" opacity="0.6" filter="url(#blur2)"/>
<path d="M455,1010L448,1045" fill="none" stroke="#f8dc60" stroke-width="8" stroke-linecap="round" opacity="0.7" filter="url(#blur2)"/>
<path d="M430,1130L410,1140" fill="none" stroke="#f7d95a" stroke-width="6" stroke-linecap="round" opacity="0.7" filter="url(#blur2)"/>
<path d="M440,800C445,802.5 460,810.7 470,815C480,819.3 495,824.2 500,826" fill="none" stroke="#f6d650" stroke-width="7" stroke-linecap="round" opacity="0.7" filter="url(#blur2)"/>
<path d="M502,659C498.8,661.3 488,667.2 483,673C478,678.8 474.7,687 472,694C469.3,701 468,707.3 467,715C466,722.7 466.5,730.8 466,740C465.5,749.2 464.1,760.8 464,770C463.9,779.2 464,787.7 465.5,795C467,802.3 468.6,808.8 473,814C477.4,819.2 485.5,823.2 492,826C498.5,828.8 505,829.8 512,831C519,832.2 530.3,832.7 534,833L600,833 L600,660 Z" fill="#e6200e"/>
<path d="M512,667C512.3,669.2 513,675.8 514,680C515,684.2 516.7,688.7 518,692C519.3,695.3 521.3,698.7 522,700" fill="none" stroke="#ee9c88" stroke-width="5" stroke-linecap="round"/>
<path d="M533,671C535.7,671.2 540.2,672 543,675C545.8,678 548.6,683.5 550,689C551.4,694.5 552,702.2 551.5,708C551,713.8 549.1,719.5 547,724C544.9,728.5 542.5,732.2 539,735C535.5,737.8 530.5,740.3 526,741C521.5,741.7 515.3,740.3 512,739C508.7,737.7 506,735.2 506,733C506,730.8 509.8,728.8 512,726C514.2,723.2 517.7,720.3 519,716C520.3,711.7 519.5,705.3 520,700C520.5,694.7 520.8,688.3 522,684C523.2,679.7 525.2,676.2 527,674C528.8,671.8 530.3,670.8 533,671Z" fill="url(#stomg)"/>
<path d="M530,684C531.3,683.7 535.7,680.7 538,682C540.3,683.3 542.8,687 544,692C545.2,697 544.8,708.7 545,712" fill="none" stroke="#fdeadc" stroke-width="5" opacity=".75" stroke-linecap="round" filter="url(#blur1)"/>
<path d="M512,667C512.3,669.2 513,675.8 514,680C515,684.2 516.8,688.3 518,692C519.2,695.7 520.5,700.3 521,702" fill="none" stroke="#d9785a" stroke-width="1.2"/>
<path d="M490,733C491.3,732.2 495.3,728.3 498,728C500.7,727.7 503.8,729.5 506,731C508.2,732.5 510.2,736 511,737" fill="none" stroke="#f0a888" stroke-width="5" stroke-linecap="round"/>
<path d="M469,778C472,774.8 479.8,773 488,772C496.2,771 510.7,770.8 518,772C525.3,773.2 530.7,775.7 532,779C533.3,782.3 530.3,788.3 526,792C521.7,795.7 513,799.7 506,801C499,802.3 490,801.7 484,800C478,798.3 472.5,794.7 470,791C467.5,787.3 466,781.2 469,778Z" fill="#f5c4a0"/>
<path d="M474,788C476.7,789 484,793.2 490,794C496,794.8 504.3,794.3 510,793C515.7,791.7 521.7,787.2 524,786" fill="none" stroke="#fbe2cc" stroke-width="5" stroke-linecap="round"/>
<path d="M484,775C485.3,777.5 488,786.5 492,790C496,793.5 503,796 508,796C513,796 518.7,793 522,790C525.3,787 527,780 528,778" fill="none" stroke="#ee9a74" stroke-width="9" stroke-linecap="round"/>
<path d="M484,775C485.3,777.5 488,786.5 492,790C496,793.5 503,796 508,796C513,796 518.7,793 522,790C525.3,787 527,780 528,778" fill="none" stroke="#f8c8a8" stroke-width="3.5" stroke-linecap="round"/>
<path d="M490,772C491.7,773.7 496,780.3 500,782C504,783.7 510.3,783.3 514,782C517.7,780.7 520.7,775.3 522,774" fill="none" stroke="#e8a060" stroke-width="5" stroke-linecap="round"/>
<path d="M486,739 L536,747 L548,748 L540,769 L531,769 L490,771.5 Q481,770 481,760 L482,746 Q482,739 486,739Z" fill="#e9b441"/>
<path d="M510,744 L546,749 L542,758 L512,752Z" fill="#f0e020"/>
<path d="M488,756C490,755.3 495.7,751.8 500,752C504.3,752.2 509,755.7 514,757C519,758.3 527.3,759.5 530,760" fill="none" stroke="#b77a1e" stroke-width="2.2"/>
<path d="M488,763C490.3,762.5 497.3,759.7 502,760C506.7,760.3 511,764.2 516,765C521,765.8 529.3,765 532,765" fill="none" stroke="#f5dc8a" stroke-width="2.2"/>
<path d="M486,739 L536,747 L550,748 M540,769 L531,769 L490,771.5 Q481,770 481,760 L482,746 Q482,739 486,739" fill="none" stroke="#1c1c12" stroke-width="5.4"/>
<path d="M502,659C498.8,661.3 488,667.2 483,673C478,678.8 474.7,687 472,694C469.3,701 468,707.3 467,715C466,722.7 466.5,730.8 466,740C465.5,749.2 464.1,760.8 464,770C463.9,779.2 464,787.7 465.5,795C467,802.3 468.6,808.8 473,814C477.4,819.2 485.5,823.2 492,826C498.5,828.8 505,829.8 512,831C519,832.2 530.3,832.7 534,833" fill="none" stroke="#1c1c12" stroke-width="5.2"/>
<path d="M350,812 L445,825 L516,834 L540,836 L540,1001 L509,998 L423,995 L379,991 Q369,990 367,981 L346.5,893 L336,827 Q334,811 350,812Z" fill="#74c21e"/>
<clipPath id="gutclipR"><path d="M388,888C392,883.5 401.3,878.3 410,878C418.7,877.7 430,885.3 440,886C450,886.7 461.7,880.3 470,882C478.3,883.7 487.3,888 490,896C492.7,904 486.2,920.2 486,930C485.8,939.8 488,948 489,955C490,962 495.2,968.5 492,972C488.8,975.5 478.7,975.3 470,976C461.3,976.7 450.3,976.3 440,976C429.7,975.7 415.7,976.7 408,974C400.3,971.3 397.3,966.5 394,960C390.7,953.5 389.3,944.2 388,935C386.7,925.8 386,912.8 386,905C386,897.2 384,892.5 388,888Z"/></clipPath>
<path d="M388,888C392,883.5 401.3,878.3 410,878C418.7,877.7 430,885.3 440,886C450,886.7 461.7,880.3 470,882C478.3,883.7 487.3,888 490,896C492.7,904 486.2,920.2 486,930C485.8,939.8 488,948 489,955C490,962 495.2,968.5 492,972C488.8,975.5 478.7,975.3 470,976C461.3,976.7 450.3,976.3 440,976C429.7,975.7 415.7,976.7 408,974C400.3,971.3 397.3,966.5 394,960C390.7,953.5 389.3,944.2 388,935C386.7,925.8 386,912.8 386,905C386,897.2 384,892.5 388,888Z" fill="#d8742f"/>
<g clip-path="url(#gutclipR)">
<path d="M393.5,889.2C397,889.8 407.8,892.6 414.7,892.7C421.6,892.9 430.9,889.6 435,890.1C439,890.6 439.5,893.5 439,895.8C438.5,898 436.1,901.5 432.1,903.3C428.2,905.2 421.5,907 415.3,906.7C409,906.5 399.1,900.8 394.6,901.6C390.1,902.3 388.3,908.6 388,911.2C387.7,913.9 388.6,916 392.9,917.7C397.2,919.5 407.1,921.9 413.7,921.9C420.2,921.8 427.8,916.8 432.1,917.6C436.3,918.4 438.8,923.6 439,926.8C439.2,929.9 437.2,935.2 433.1,936.6C429,938 421.1,935.9 414.6,935.3C408.1,934.7 398.6,931.5 394.2,932.7C389.8,933.9 388.1,939.7 388,942.2C387.9,944.8 389.6,946.1 393.5,948.1C397.4,950.2 404.9,954.3 411.5,954.4C418.1,954.4 428.3,948 432.8,948.6C437.4,949.1 438.5,954.6 439,957.8C439.5,960.9 440.3,965.3 435.9,967.4C431.5,969.5 419.8,970.5 412.7,970.3C405.5,970.1 397.3,965.9 393.2,966.4C389,966.9 388.9,972.1 388,973.2" fill="none" stroke="#c9662a" stroke-width="15.5" stroke-linecap="round" stroke-linejoin="round"/>
<path d="M490.8,896.2C487.1,896.6 476.3,899.4 468.8,898.8C461.2,898.3 450.5,892.5 445.6,893C440.6,893.5 439.4,899.3 439,901.8C438.6,904.2 438.8,906.5 443.4,907.8C448,909.2 458.6,909.5 466.6,909.8C474.5,910.2 486.1,908.8 491.2,910C496.3,911.3 497.2,914.6 497,917.2C496.8,919.9 495,924.3 490,925.9C485.1,927.4 474.8,926.7 467.4,926.5C459.9,926.4 450,923.9 445.3,924.9C440.5,925.9 439.3,930.2 439,932.8C438.7,935.3 438.3,939.1 443.3,940.4C448.2,941.7 460.4,941.2 468.8,940.8C477.3,940.4 489.2,936.9 493.9,938.1C498.6,939.4 497.2,945 497,948.2C496.8,951.5 498.2,955.8 493,957.7C487.8,959.7 474.3,960.2 466.1,959.9C457.8,959.7 448,955.8 443.5,956.4C439,957 439.2,961.6 439,963.8C438.8,965.9 437.4,967.1 442,969.2C446.7,971.3 458.6,975.7 466.7,976.3C474.8,976.9 485.7,972.3 490.8,972.8C495.8,973.3 496,978.2 497,979.2" fill="none" stroke="#c9662a" stroke-width="15.5" stroke-linecap="round" stroke-linejoin="round"/>
<path d="M393.5,889.2C397,889.8 407.8,892.6 414.7,892.7C421.6,892.9 430.9,889.6 435,890.1C439,890.6 439.5,893.5 439,895.8C438.5,898 436.1,901.5 432.1,903.3C428.2,905.2 421.5,907 415.3,906.7C409,906.5 399.1,900.8 394.6,901.6C390.1,902.3 388.3,908.6 388,911.2C387.7,913.9 388.6,916 392.9,917.7C397.2,919.5 407.1,921.9 413.7,921.9C420.2,921.8 427.8,916.8 432.1,917.6C436.3,918.4 438.8,923.6 439,926.8C439.2,929.9 437.2,935.2 433.1,936.6C429,938 421.1,935.9 414.6,935.3C408.1,934.7 398.6,931.5 394.2,932.7C389.8,933.9 388.1,939.7 388,942.2C387.9,944.8 389.6,946.1 393.5,948.1C397.4,950.2 404.9,954.3 411.5,954.4C418.1,954.4 428.3,948 432.8,948.6C437.4,949.1 438.5,954.6 439,957.8C439.5,960.9 440.3,965.3 435.9,967.4C431.5,969.5 419.8,970.5 412.7,970.3C405.5,970.1 397.3,965.9 393.2,966.4C389,966.9 388.9,972.1 388,973.2" fill="none" stroke="#f2a058" stroke-width="12.2" stroke-linecap="round" stroke-linejoin="round"/>
<path d="M490.8,896.2C487.1,896.6 476.3,899.4 468.8,898.8C461.2,898.3 450.5,892.5 445.6,893C440.6,893.5 439.4,899.3 439,901.8C438.6,904.2 438.8,906.5 443.4,907.8C448,909.2 458.6,909.5 466.6,909.8C474.5,910.2 486.1,908.8 491.2,910C496.3,911.3 497.2,914.6 497,917.2C496.8,919.9 495,924.3 490,925.9C485.1,927.4 474.8,926.7 467.4,926.5C459.9,926.4 450,923.9 445.3,924.9C440.5,925.9 439.3,930.2 439,932.8C438.7,935.3 438.3,939.1 443.3,940.4C448.2,941.7 460.4,941.2 468.8,940.8C477.3,940.4 489.2,936.9 493.9,938.1C498.6,939.4 497.2,945 497,948.2C496.8,951.5 498.2,955.8 493,957.7C487.8,959.7 474.3,960.2 466.1,959.9C457.8,959.7 448,955.8 443.5,956.4C439,957 439.2,961.6 439,963.8C438.8,965.9 437.4,967.1 442,969.2C446.7,971.3 458.6,975.7 466.7,976.3C474.8,976.9 485.7,972.3 490.8,972.8C495.8,973.3 496,978.2 497,979.2" fill="none" stroke="#f2a058" stroke-width="12.2" stroke-linecap="round" stroke-linejoin="round"/>
<path d="M393,887C396.5,887.6 407.3,890.4 414.2,890.5C421.1,890.7 430.4,887.4 434.5,887.9C438.5,888.4 439,891.3 438.5,893.5C438,895.8 435.6,899.3 431.6,901.1C427.7,903 421,904.8 414.8,904.5C408.5,904.3 398.6,898.6 394.1,899.4C389.6,900.1 387.8,906.4 387.5,909C387.2,911.7 388.1,913.8 392.4,915.5C396.7,917.3 406.6,919.7 413.2,919.7C419.7,919.6 427.3,914.6 431.6,915.4C435.8,916.2 438.3,921.4 438.5,924.5C438.7,927.7 436.7,933 432.6,934.4C428.5,935.8 420.6,933.7 414.1,933.1C407.6,932.5 398.1,929.3 393.7,930.5C389.3,931.7 387.6,937.5 387.5,940C387.4,942.6 389.1,943.9 393,945.9C396.9,948 404.4,952.1 411,952.2C417.6,952.2 427.8,945.8 432.3,946.4C436.9,946.9 438,952.4 438.5,955.5C439,958.7 439.8,963.1 435.4,965.2C431,967.3 419.3,968.3 412.2,968.1C405,967.9 396.8,963.7 392.7,964.2C388.5,964.7 388.4,969.9 387.5,971" fill="none" stroke="#f9cc94" stroke-width="3.8" stroke-linecap="round" opacity=".9"/>
<path d="M490.3,894C486.6,894.4 475.8,897.2 468.3,896.6C460.7,896.1 450,890.3 445.1,890.8C440.1,891.3 438.9,897.1 438.5,899.5C438.1,902 438.3,904.3 442.9,905.6C447.5,907 458.1,907.3 466.1,907.6C474,908 485.6,906.6 490.7,907.8C495.8,909.1 496.7,912.4 496.5,915C496.3,917.7 494.5,922.1 489.5,923.7C484.6,925.2 474.3,924.5 466.9,924.3C459.4,924.2 449.5,921.7 444.8,922.7C440,923.7 438.8,928 438.5,930.5C438.2,933.1 437.8,936.9 442.8,938.2C447.7,939.5 459.9,939 468.3,938.6C476.8,938.2 488.7,934.7 493.4,935.9C498.1,937.2 496.7,942.8 496.5,946C496.3,949.3 497.7,953.6 492.5,955.5C487.3,957.5 473.8,958 465.6,957.7C457.3,957.5 447.5,953.6 443,954.2C438.5,954.8 438.7,959.4 438.5,961.5C438.3,963.7 436.9,964.9 441.5,967C446.2,969.1 458.1,973.5 466.2,974.1C474.3,974.7 485.2,970.1 490.3,970.6C495.3,971.1 495.5,976 496.5,977" fill="none" stroke="#f9cc94" stroke-width="3.8" stroke-linecap="round" opacity=".9"/>
</g>
<path d="M369,842C369.3,845.8 370.2,856.2 371,865C371.8,873.8 372.8,885 374,895C375.2,905 376.5,915.8 378,925C379.5,934.2 381.2,943.2 383,950C384.8,956.8 388,963.3 389,966" fill="none" stroke="#d58470" stroke-width="28" stroke-linecap="round"/>
<path d="M366,838C368.3,838.7 374.7,838.7 380,842C385.3,845.3 391,852.7 398,858C405,863.3 414.3,869.8 422,874C429.7,878.2 436.7,882.2 444,883C451.3,883.8 459.3,880.8 466,879C472.7,877.2 481,873.2 484,872" fill="none" stroke="#d58470" stroke-width="28" stroke-linecap="round"/>
<path d="M499,864C500.5,862.5 505.5,858 508,855C510.5,852 513,847.5 514,846" fill="none" stroke="#d58470" stroke-width="28" stroke-linecap="round"/>
<path d="M392,972C395.8,972.8 407,976 415,977C423,978 431.2,978.2 440,978C448.8,977.8 460.3,977 468,976C475.7,975 483,972.7 486,972" fill="none" stroke="#d58470" stroke-width="28" stroke-linecap="round"/>
<path d="M369,842C369.3,845.8 370.2,856.2 371,865C371.8,873.8 372.8,885 374,895C375.2,905 376.5,915.8 378,925C379.5,934.2 381.2,943.2 383,950C384.8,956.8 388,963.3 389,966" fill="none" stroke="#f0aa90" stroke-width="24.5" stroke-linecap="butt" stroke-dasharray="8.5 1.8"/>
<path d="M369,842C369.3,845.8 370.2,856.2 371,865C371.8,873.8 372.8,885 374,895C375.2,905 376.5,915.8 378,925C379.5,934.2 381.2,943.2 383,950C384.8,956.8 388,963.3 389,966" fill="none" stroke="#f7c8b4" stroke-width="11" stroke-linecap="butt" stroke-dasharray="6 4.3" stroke-dashoffset="-1.2" opacity=".85"/>
<path d="M369,842C369.3,845.8 370.2,856.2 371,865C371.8,873.8 372.8,885 374,895C375.2,905 376.5,915.8 378,925C379.5,934.2 381.2,943.2 383,950C384.8,956.8 388,963.3 389,966" fill="none" stroke="#dfa03c" stroke-width="2" stroke-dasharray="1.6 8.7" stroke-dashoffset="-4" opacity=".75"/>
<path d="M366,838C368.3,838.7 374.7,838.7 380,842C385.3,845.3 391,852.7 398,858C405,863.3 414.3,869.8 422,874C429.7,878.2 436.7,882.2 444,883C451.3,883.8 459.3,880.8 466,879C472.7,877.2 481,873.2 484,872" fill="none" stroke="#f0aa90" stroke-width="24.5" stroke-linecap="butt" stroke-dasharray="8.5 1.8"/>
<path d="M366,838C368.3,838.7 374.7,838.7 380,842C385.3,845.3 391,852.7 398,858C405,863.3 414.3,869.8 422,874C429.7,878.2 436.7,882.2 444,883C451.3,883.8 459.3,880.8 466,879C472.7,877.2 481,873.2 484,872" fill="none" stroke="#f7c8b4" stroke-width="11" stroke-linecap="butt" stroke-dasharray="6 4.3" stroke-dashoffset="-1.2" opacity=".85"/>
<path d="M366,838C368.3,838.7 374.7,838.7 380,842C385.3,845.3 391,852.7 398,858C405,863.3 414.3,869.8 422,874C429.7,878.2 436.7,882.2 444,883C451.3,883.8 459.3,880.8 466,879C472.7,877.2 481,873.2 484,872" fill="none" stroke="#dfa03c" stroke-width="2" stroke-dasharray="1.6 8.7" stroke-dashoffset="-4" opacity=".75"/>
<path d="M499,864C500.5,862.5 505.5,858 508,855C510.5,852 513,847.5 514,846" fill="none" stroke="#f0aa90" stroke-width="24.5" stroke-linecap="butt" stroke-dasharray="8.5 1.8"/>
<path d="M499,864C500.5,862.5 505.5,858 508,855C510.5,852 513,847.5 514,846" fill="none" stroke="#f7c8b4" stroke-width="11" stroke-linecap="butt" stroke-dasharray="6 4.3" stroke-dashoffset="-1.2" opacity=".85"/>
<path d="M499,864C500.5,862.5 505.5,858 508,855C510.5,852 513,847.5 514,846" fill="none" stroke="#dfa03c" stroke-width="2" stroke-dasharray="1.6 8.7" stroke-dashoffset="-4" opacity=".75"/>
<path d="M392,972C395.8,972.8 407,976 415,977C423,978 431.2,978.2 440,978C448.8,977.8 460.3,977 468,976C475.7,975 483,972.7 486,972" fill="none" stroke="#f0aa90" stroke-width="24.5" stroke-linecap="butt" stroke-dasharray="8.5 1.8"/>
<path d="M392,972C395.8,972.8 407,976 415,977C423,978 431.2,978.2 440,978C448.8,977.8 460.3,977 468,976C475.7,975 483,972.7 486,972" fill="none" stroke="#f7c8b4" stroke-width="11" stroke-linecap="butt" stroke-dasharray="6 4.3" stroke-dashoffset="-1.2" opacity=".85"/>
<path d="M392,972C395.8,972.8 407,976 415,977C423,978 431.2,978.2 440,978C448.8,977.8 460.3,977 468,976C475.7,975 483,972.7 486,972" fill="none" stroke="#dfa03c" stroke-width="2" stroke-dasharray="1.6 8.7" stroke-dashoffset="-4" opacity=".75"/>
<path d="M540,836 L516,834 L445,825 L350,812 Q334,811 336,827 L346.5,893 L367,981 Q369,990 379,991 L423,995 L509,998 L540,1001" fill="none" stroke="#1c1c12" stroke-width="5.2"/>
<path d="M492,901C490.7,902.8 485.3,905.5 484,912C482.7,918.5 483,931.2 484,940C485,948.8 487.3,957.5 490,965C492.7,972.5 496.3,979.3 500,985C503.7,990.7 508,995.8 512,999C516,1002.2 522,1003.2 524,1004L560,1004 L560,888 L515,891 Z" fill="#7fc3ef"/>
<path d="M492,901C490.7,902.8 485.3,905.5 484,912C482.7,918.5 483,931.2 484,940C485,948.8 487.3,957.5 490,965C492.7,972.5 496.3,979.3 500,985C503.7,990.7 508,995.8 512,999C516,1002.2 522,1003.2 524,1004" fill="none" stroke="#1c1c12" stroke-width="5.2"/>
<path d="M489,902 L515,891.5 L540,889" fill="none" stroke="#1c1c12" stroke-width="5.2"/>
<path d="M488,922C488,917.5 489.8,914.8 492,913C494.2,911.2 497.8,910.8 501,911C504.2,911.2 508.7,911.8 511,914C513.3,916.2 514.7,920 515,924C515.3,928 514.2,934 513,938C511.8,942 509.5,944.3 508,948C506.5,951.7 505.3,959.7 504,960C502.7,960.3 502,953.3 500,950C498,946.7 494,944.7 492,940C490,935.3 488,926.5 488,922Z" fill="url(#bladg)"/>
<path d="M503,938C503.7,935.3 507.7,935 509,936C510.3,937 511.7,941.3 511,944C510.3,946.7 506.3,953 505,952C503.7,951 502.3,940.7 503,938Z" fill="#f6c6c0" opacity=".8" filter="url(#blur1)"/>
<path d="M492,920C493.3,919.3 497.2,916.2 500,916C502.8,915.8 507.5,918.5 509,919" fill="none" stroke="#f08a5a" stroke-width="2" opacity=".8"/>
<path d="M482,379C483,380 485.2,382.7 488,385C490.8,387.3 494.3,390.8 499,393C503.7,395.2 510.4,397.4 516,398C521.6,398.6 527,398 532.5,396.7C538,395.4 543.8,392.9 549,390C554.2,387.1 560.7,381.7 564,379C567.3,376.3 568.2,374.8 569,374L590,340 L470,340 Z" fill="#f3a266"/>
<path d="M422,393C422.6,393.5 423.3,394.2 425.4,396C427.5,397.8 430.8,401.6 434.7,403.5C438.6,405.4 444,406.9 448.7,407.2C453.4,407.5 458,407.3 462.7,405.4C467.4,403.5 473.8,398.2 476.7,396C479.6,393.8 479.4,392.7 480,392L486,340 L418,340 Z" fill="#f3a266"/>
<path d="M371,423C371.5,423.5 371.9,424.5 374,425.9C376.1,427.3 379.4,430.4 383.3,431.5C387.2,432.6 392.6,433 397.3,432.4C402,431.8 407.5,429.7 411.4,427.8C415.3,425.9 419.1,422.3 420.7,421.2L428,380 L366,380 Z" fill="#f3a266"/>
<path d="M327,451C327.6,451.5 328.3,452.6 330.4,453.9C332.5,455.2 336.6,457.8 339.7,458.6C342.8,459.4 345.9,459.2 349,458.6C352.1,458 355.3,456.7 358.4,454.8C361.5,452.9 365.6,449.1 367.7,447.3C369.8,445.5 370.4,444.6 371,444L376,415 L322,415 Z" fill="#f3a266"/>
<path d="M285,488C285.7,488.7 287.2,490.4 289.3,492.2C291.4,494 294.8,497.3 297.7,498.7C300.6,500.1 303.7,500.9 307,500.6C310.3,500.3 314.5,498.2 317.3,496.8C320.1,495.4 322.4,493.3 323.8,492.2C325.2,491.1 325.6,490.4 326,490L332,455 L270,455 Z" fill="#f3a266"/>
<path d="M512,376C513.5,372.7 516.3,368 520,366C523.7,364 529.8,363 534,364C538.2,365 543,368.3 545,372C547,375.7 547.5,382.3 546,386C544.5,389.7 540.3,392.8 536,394C531.7,395.2 524.2,394.3 520,393C515.8,391.7 512.3,388.8 511,386C509.7,383.2 510.5,379.3 512,376Z" fill="#ef9320" opacity=".9" filter="url(#blur1)"/>
<path d="M442,385C442.2,379.3 443.7,371.5 446,368C448.3,364.5 453.2,362.8 456,364C458.8,365.2 461.8,369.8 463,375C464.2,380.2 464.3,390.2 463,395C461.7,399.8 458,402.8 455,404C452,405.2 447.2,405.2 445,402C442.8,398.8 441.8,390.7 442,385Z" fill="#ef9320" opacity=".9" filter="url(#blur1)"/>
<ellipse cx="398" cy="420" rx="11" ry="9.5" fill="#ef9320" opacity=".9" filter="url(#blur1)"/>
<ellipse cx="346" cy="450" rx="6.5" ry="5" fill="#ef9320" opacity=".9" filter="url(#blur1)"/>
<path d="M438,410C440.3,407.3 447.3,414.2 452,414C456.7,413.8 463.3,406.7 466,409C468.7,411.3 472.7,424.5 468,428C463.3,431.5 443,433 438,430C433,427 435.7,412.7 438,410Z" fill="#f1d244" filter="url(#blur1)"/>
<path d="M386,436C387.7,433.7 396,438.3 400,438C404,437.7 408,432.7 410,434C412,435.3 415.3,443 412,446C408.7,449 394.3,453.7 390,452C385.7,450.3 384.3,438.3 386,436Z" fill="#f1d244" filter="url(#blur1)"/>
<path d="M331,460L352,461L352,472L331,484Z" fill="#f0cf32" filter="url(#blur1)"/>
<path d="M262,560 L486,505 L486,640C481.2,644 464.7,658.7 457,664C449.3,669.3 449.5,668.5 440,672C430.5,675.5 414.2,682 400,685C385.8,688 369.7,690.2 355,690C340.3,689.8 325.2,687.2 312,684C298.8,680.8 284.3,674 276,671C267.7,668 264.3,666.8 262,666Z" fill="#74c21e"/>
<path d="M486,640C481.2,644 464.7,658.7 457,664C449.3,669.3 449.5,668.5 440,672C430.5,675.5 414.2,682 400,685C385.8,688 369.7,690.2 355,690C340.3,689.8 325.2,687.2 312,684C298.8,680.8 284.3,674 276,671C267.7,668 264.3,666.8 262,666" fill="none" stroke="#1c1c12" stroke-width="5.2"/>
<path d="M270,529C272,527.4 278,522.2 281.8,519.2C285.6,516.2 288.8,512.8 293,510.8C297.2,508.8 302,507.7 307,507.1C312,506.5 319.6,507 322.9,507.1C326.2,507.2 326.3,507.4 327,507.5L327,484C327.6,483.5 328.3,482.6 330.4,481C332.5,479.4 335.8,476.3 339.7,474.4C343.6,472.5 348.9,470.6 353.7,469.8C358.5,469 365.1,469.8 368.6,469.8C372.2,469.8 373.9,470 375,470L377,520C376,520.7 372.8,521.5 371,524C369.2,526.5 368.2,531 366,535C363.8,539 361,544.3 358,548C355,551.7 351.8,554.3 348,557C344.2,559.7 340,562 335,564C330,566 323.8,567.7 318,569C312.2,570.3 306,571.1 300,572C294,572.9 288.3,573.7 282,574.5C275.7,575.3 265.3,576.6 262,577Z" fill="#7fc3ef"/>
<path d="M373,462C373.5,461.6 373.4,461.9 375.9,459.5C378.4,457.1 383.6,450 388,447.4C392.4,444.8 396.7,444.4 402,443.6C407.3,442.8 416.1,442.9 419.8,442.7C423.5,442.5 423.3,442.5 424,442.5L423,437C423.7,436.4 424.5,435.6 427.2,433.4C429.9,431.2 435,426 439.4,424C443.8,422 447.2,421.7 453.4,421.2C459.6,420.7 471.9,421.1 476.7,421.2C481.5,421.2 481.1,421.4 482,421.5L483,488C480.5,490.3 474.2,497.7 468,502C461.8,506.3 454.5,510.8 446,514C437.5,517.2 425.5,519.8 417,521C408.5,522.2 401.3,521.7 395,521C388.7,520.3 382.3,518.2 379,517C375.7,515.8 375.7,514.5 375,514Z" fill="#74c21e"/>
<path d="M262,577C265.3,576.6 275.7,575.3 282,574.5C288.3,573.7 294,572.9 300,572C306,571.1 312.2,570.3 318,569C323.8,567.7 330,566 335,564C340,562 344.2,559.7 348,557C351.8,554.3 355,551.7 358,548C361,544.3 363.8,539 366,535C368.2,531 369.2,526.5 371,524C372.8,521.5 376,520.7 377,520L379,517 L396.5,521L396.5,570C396.2,573 396.6,583 395,588C393.4,593 390.7,597 387,600C383.3,603 380.3,605.5 373,606C365.7,606.5 352.8,605.2 343,603C333.2,600.8 324.2,597.5 314,593C303.8,588.5 290.7,580.5 282,576C273.3,571.5 265.3,567.7 262,566Z" fill="#e7118d"/>
<path d="M412,522 L417,521C421.8,519.8 437.5,517.2 446,514C454.5,510.8 461.5,506.7 468,502C474.5,497.3 482.2,488.7 485,486L485,581C481,583 470,590.5 461,593C452,595.5 438.3,596.2 431,596C423.7,595.8 420.2,594.7 417,592C413.8,589.3 412.8,582 412,580Z" fill="#e7118d"/>
<path d="M270,529C272,527.4 278,522.2 281.8,519.2C285.6,516.2 288.8,512.8 293,510.8C297.2,508.8 302,507.7 307,507.1C312,506.5 319.6,507 322.9,507.1C326.2,507.2 326.3,507.4 327,507.5" fill="none" stroke="#1c1c12" stroke-width="5.2" stroke-linecap="round"/>
<path d="M327,484C327.6,483.5 328.3,482.6 330.4,481C332.5,479.4 335.8,476.3 339.7,474.4C343.6,472.5 348.9,470.6 353.7,469.8C358.5,469 365.1,469.8 368.6,469.8C372.2,469.8 373.9,470 375,470" fill="none" stroke="#1c1c12" stroke-width="5.2" stroke-linecap="round"/>
<path d="M377,520C376,520.7 372.8,521.5 371,524C369.2,526.5 368.2,531 366,535C363.8,539 361,544.3 358,548C355,551.7 351.8,554.3 348,557C344.2,559.7 340,562 335,564C330,566 323.8,567.7 318,569C312.2,570.3 306,571.1 300,572C294,572.9 288.3,573.7 282,574.5C275.7,575.3 265.3,576.6 262,577" fill="none" stroke="#1c1c12" stroke-width="5.2" stroke-linecap="round"/>
<path d="M373,462C373.5,461.6 373.4,461.9 375.9,459.5C378.4,457.1 383.6,450 388,447.4C392.4,444.8 396.7,444.4 402,443.6C407.3,442.8 416.1,442.9 419.8,442.7C423.5,442.5 423.3,442.5 424,442.5" fill="none" stroke="#1c1c12" stroke-width="5.2" stroke-linecap="round"/>
<path d="M423,437C423.7,436.4 424.5,435.6 427.2,433.4C429.9,431.2 435,426 439.4,424C443.8,422 447.2,421.7 453.4,421.2C459.6,420.7 471.9,421.1 476.7,421.2C481.5,421.2 481.1,421.4 482,421.5" fill="none" stroke="#1c1c12" stroke-width="5.2" stroke-linecap="round"/>
<path d="M483,488C480.5,490.3 474.2,497.7 468,502C461.8,506.3 454.5,510.8 446,514C437.5,517.2 425.5,519.8 417,521C408.5,522.2 401.3,521.7 395,521C388.7,520.3 382.3,518.2 379,517C375.7,515.8 375.7,514.5 375,514" fill="none" stroke="#1c1c12" stroke-width="5.2" stroke-linecap="round"/>
<path d="M396.5,521L396.5,570C396.2,573 396.6,583 395,588C393.4,593 390.7,597 387,600C383.3,603 380.3,605.5 373,606C365.7,606.5 352.8,605.2 343,603C333.2,600.8 324.2,597.5 314,593C303.8,588.5 290.7,580.5 282,576C273.3,571.5 265.3,567.7 262,566" fill="none" stroke="#1c1c12" stroke-width="5.2"/>
<path d="M412,523 L412,580C412.8,582 413.8,589.3 417,592C420.2,594.7 423.7,595.8 431,596C438.3,596.2 452,595.5 461,593C470,590.5 481,583 485,581" fill="none" stroke="#1c1c12" stroke-width="5.2"/>
<path d="M482,379C483,380 485.2,382.7 488,385C490.8,387.3 494.3,390.8 499,393C503.7,395.2 510.4,397.4 516,398C521.6,398.6 527,398 532.5,396.7C538,395.4 543.8,392.9 549,390C554.2,387.1 560.7,381.7 564,379C567.3,376.3 568.2,374.8 569,374L590,374 L590,452C582.7,454.7 579.7,456.2 576,458C572.3,459.8 568.2,462.9 561.7,465C555.2,467.1 545,468.9 536.7,470.8C528.4,472.8 520.1,474.8 511.7,476.7C503.2,478.6 490.3,481.1 486,482Z" fill="#ef4311"/>
<path d="M482,382L492,388C493.2,390.2 497.5,396.5 499,401C500.5,405.5 501.2,410.5 501,415C500.8,419.5 499.3,424.5 497.5,428C495.7,431.5 492.2,434 490,436C487.8,438 485,439.3 484,440Z" fill="#e2241a"/>
<path d="M492,388C493.2,390.2 497.5,396.5 499,401C500.5,405.5 501.2,410.5 501,415C500.8,419.5 499.3,424.5 497.5,428C495.7,431.5 492.2,434 490,436C487.8,438 485,439.3 484,440" fill="none" stroke="#1c1c12" stroke-width="4.7"/>
<path d="M577,408C575.7,410.3 571.3,417.3 569,422C566.7,426.7 564.3,431.7 563,436C561.7,440.3 560.7,444.3 561,448C561.3,451.7 564.3,456.3 565,458L590,456 L590,408 Z" fill="#a9cde9"/>
<path d="M570.5,423C569.4,423.3 568.2,432 567,436C565.8,440 563.3,444.7 563.5,447C563.7,449.3 566.1,449.7 568,450C569.9,450.3 573.7,450 575,449C576.3,448 576.2,446.5 576,444C575.8,441.5 574.4,437.5 573.5,434C572.6,430.5 571.6,422.7 570.5,423Z" fill="#ea8a2a"/>
<ellipse cx="571.5" cy="446" rx="3.2" ry="2.6" fill="#f2a04a"/>
<path d="M577,408C575.7,410.3 571.3,417.3 569,422C566.7,426.7 564.3,431.7 563,436C561.7,440.3 560.7,444.3 561,448C561.3,451.7 564.3,456.3 565,458" fill="none" stroke="#1c1c12" stroke-width="4.4"/>
<path d="M562,450L580,452L580,458L566,462Z" fill="#1c1c12"/>
<path d="M485,441C487.1,441.9 494.6,443.9 497.5,446.7C500.4,449.4 502.5,453.8 502.5,457.5C502.5,461.2 500.2,465.1 497.5,469C494.8,472.9 487.9,479 486,481Z" fill="#7fc3ef"/>
<path d="M485,441C487.1,441.9 494.6,443.9 497.5,446.7C500.4,449.4 502.5,453.8 502.5,457.5C502.5,461.2 500.2,465.1 497.5,469C494.8,472.9 487.9,479 486,481" fill="none" stroke="#1c1c12" stroke-width="5.2"/>
<path d="M503,436C502,432.7 502.7,427.5 504,424C505.3,420.5 507.8,417.2 511,415C514.2,412.8 518.7,411.6 523,411C527.3,410.4 532.8,410.7 537,411.5C541.2,412.3 545,413.8 548,416C551,418.2 553.7,421.8 555,425C556.3,428.2 556.7,432.3 556,435C555.3,437.7 553.2,439.7 551,441C548.8,442.3 544.8,441.8 543,443C541.2,444.2 542.2,447 540,448C537.8,449 533.3,449.2 530,449C526.7,448.8 523.3,447.8 520,447C516.7,446.2 512.8,445.8 510,444C507.2,442.2 504,439.3 503,436Z" fill="url(#braing)" stroke="#a8860c" stroke-width="0.9"/>
<path d="M506,433C506.7,432 508.5,427.5 510,427C511.5,426.5 513.5,430.5 515,430C516.5,429.5 517.5,424.5 519,424C520.5,423.5 522.5,427.5 524,427C525.5,426.5 527.3,422 528,421" fill="none" stroke="#8f7408" stroke-width="1.3" opacity=".8" stroke-linecap="round"/>
<path d="M509,441C509.8,440.2 512.2,436.3 514,436C515.8,435.7 518.2,439.5 520,439C521.8,438.5 523.2,433.5 525,433C526.8,432.5 529.2,436.5 531,436C532.8,435.5 534.3,430.5 536,430C537.7,429.5 540.2,432.5 541,433" fill="none" stroke="#8f7408" stroke-width="1.3" opacity=".8" stroke-linecap="round"/>
<path d="M514,420C514.8,419.3 517.3,416.2 519,416C520.7,415.8 522.3,419.2 524,419C525.7,418.8 527.3,415.2 529,415C530.7,414.8 532.3,418.2 534,418C535.7,417.8 538.2,414.7 539,414" fill="none" stroke="#8f7408" stroke-width="1.3" opacity=".8" stroke-linecap="round"/>
<path d="M530,426C530.8,425.5 533.3,422.8 535,423C536.7,423.2 538.3,427 540,427C541.7,427 543.3,423 545,423C546.7,423 549.2,426.3 550,427" fill="none" stroke="#8f7408" stroke-width="1.3" opacity=".8" stroke-linecap="round"/>
<path d="M534,442C534.8,441.3 537.2,438.3 539,438C540.8,437.7 543.2,440.5 545,440C546.8,439.5 548.5,436.5 550,435C551.5,433.5 553.3,431.7 554,431" fill="none" stroke="#8f7408" stroke-width="1.3" opacity=".8" stroke-linecap="round"/>
<path d="M541,418C541.8,418.3 544.3,419 546,420C547.7,421 550.2,423.3 551,424" fill="none" stroke="#8f7408" stroke-width="1.3" opacity=".8" stroke-linecap="round"/>
<path d="M517,445C518,444.7 521,442.8 523,443C525,443.2 527,445.7 529,446C531,446.3 534,445.2 535,445" fill="none" stroke="#8f7408" stroke-width="1.3" opacity=".8" stroke-linecap="round"/>
<path d="M508,424L512,421" fill="none" stroke="#8f7408" stroke-width="1.3" opacity=".8" stroke-linecap="round"/>
<path d="M506.6,430.9C507.3,429.9 509.1,425.4 510.6,424.9C512.1,424.4 514.1,428.4 515.6,427.9C517.1,427.4 518.1,422.4 519.6,421.9C521.1,421.4 523.1,425.4 524.6,424.9C526.1,424.4 527.9,419.9 528.6,418.9" fill="none" stroke="#fbf27c" stroke-width="1.5" opacity=".85" stroke-linecap="round"/>
<path d="M509.6,438.9C510.4,438.1 512.8,434.2 514.6,433.9C516.4,433.6 518.8,437.4 520.6,436.9C522.4,436.4 523.8,431.4 525.6,430.9C527.4,430.4 529.8,434.4 531.6,433.9C533.4,433.4 534.9,428.4 536.6,427.9C538.3,427.4 540.8,430.4 541.6,430.9" fill="none" stroke="#fbf27c" stroke-width="1.5" opacity=".85" stroke-linecap="round"/>
<path d="M514.6,417.9C515.4,417.2 517.9,414.1 519.6,413.9C521.3,413.7 522.9,417.1 524.6,416.9C526.3,416.7 527.9,413.1 529.6,412.9C531.3,412.7 532.9,416.1 534.6,415.9C536.3,415.7 538.8,412.6 539.6,411.9" fill="none" stroke="#fbf27c" stroke-width="1.5" opacity=".85" stroke-linecap="round"/>
<path d="M530.6,423.9C531.4,423.4 533.9,420.7 535.6,420.9C537.3,421.1 538.9,424.9 540.6,424.9C542.3,424.9 543.9,420.9 545.6,420.9C547.3,420.9 549.8,424.2 550.6,424.9" fill="none" stroke="#fbf27c" stroke-width="1.5" opacity=".85" stroke-linecap="round"/>
<path d="M534.6,439.9C535.4,439.2 537.8,436.2 539.6,435.9C541.4,435.6 543.8,438.4 545.6,437.9C547.4,437.4 549.1,434.4 550.6,432.9C552.1,431.4 553.9,429.6 554.6,428.9" fill="none" stroke="#fbf27c" stroke-width="1.5" opacity=".85" stroke-linecap="round"/>
<path d="M541.6,415.9C542.4,416.2 544.9,416.9 546.6,417.9C548.3,418.9 550.8,421.2 551.6,421.9" fill="none" stroke="#fbf27c" stroke-width="1.5" opacity=".85" stroke-linecap="round"/>
<path d="M517.6,442.9C518.6,442.6 521.6,440.7 523.6,440.9C525.6,441.1 527.6,443.6 529.6,443.9C531.6,444.2 534.6,443.1 535.6,442.9" fill="none" stroke="#fbf27c" stroke-width="1.5" opacity=".85" stroke-linecap="round"/>
<path d="M508.6,421.9L512.6,418.9" fill="none" stroke="#fbf27c" stroke-width="1.5" opacity=".85" stroke-linecap="round"/>
<path d="M521,447C522.5,445.8 526.7,446.2 530,446C533.3,445.8 538.7,445.2 541,446C543.3,446.8 544.5,449.3 544,451C543.5,452.7 540.7,455 538,456C535.3,457 530.8,457.5 528,457C525.2,456.5 522.2,454.7 521,453C519.8,451.3 519.5,448.2 521,447Z" fill="#86c625"/>
<path d="M524,450C525.2,449.8 528.5,449 531,449C533.5,449 537.7,449.8 539,450" fill="none" stroke="#c8e66a" stroke-width="1.4" opacity=".8"/>
<path d="M514,446C514.8,447.4 516.7,452.3 519,454.5C521.3,456.7 524.3,458.6 528,459C531.7,459.4 537.8,458.8 541,457C544.2,455.2 546.4,450.7 547.5,448C548.6,445.3 547.5,442.2 547.5,441" fill="none" stroke="#1c1c12" stroke-width="4.4" stroke-linecap="round"/>
<path d="M486,482C490.3,481.1 503.2,478.6 511.7,476.7C520.1,474.8 528.4,472.8 536.7,470.8C545,468.9 555.2,467.1 561.7,465C568.2,462.9 572.3,459.8 576,458C579.7,456.2 582.7,454.7 584,454" fill="none" stroke="#1c1c12" stroke-width="5.2"/>
<path d="M486,482C490.3,481.1 503.2,478.6 511.7,476.7C520.1,474.8 528.4,472.8 536.7,470.8C545,468.9 557.5,466 561.7,465L557.5,468C558.1,469.7 561,474.3 561,478C561,481.7 560.2,486.2 557.5,490C554.8,493.8 549.9,498.5 545,501C540.1,503.5 533.5,504.7 528,505C522.5,505.3 517.2,504.4 511.7,503C506.2,501.6 499.2,499.4 495,496.7C490.8,494 488.1,488.4 486.7,486.7Z" fill="#f1e71b"/>
<path d="M486.7,486.7C488.1,488.4 490.8,494 495,496.7C499.2,499.4 506.2,501.6 511.7,503C517.2,504.4 522.5,505.3 528,505C533.5,504.7 540.1,503.5 545,501C549.9,498.5 554.8,493.8 557.5,490C560.2,486.2 561,481.7 561,478C561,474.3 558.1,469.7 557.5,468" fill="none" stroke="#1c1c12" stroke-width="5.2"/>
<path d="M500,508C502.8,486.3 513,506.2 520,506C527,505.8 536,505 542,507C548,509 554,512.5 556,518C558,523.5 555.3,533 554,540C552.7,547 549,552.5 548,560C547,567.5 547.2,576.7 548,585C548.8,593.3 550.5,602.2 553,610C555.5,617.8 561.8,626.3 563,632C564.2,637.7 567.2,642 560,644C552.8,646 529.5,645.3 520,644C510.5,642.7 506.3,658.7 503,636C499.7,613.3 497.2,529.7 500,508Z" fill="url(#ytexR)" filter="url(#rough)"/>
<path d="M515,560C515.8,566.7 516.7,588.3 520,600C523.3,611.7 532.5,625 535,630" fill="none" stroke="#f6d858" stroke-width="8" opacity=".7" filter="url(#blur2)" stroke-linecap="round"/>
<path d="M534,545C533.7,552.5 530.2,576.7 532,590C533.8,603.3 542.8,619.2 545,625" fill="none" stroke="#e6a61a" stroke-width="5" opacity=".6" filter="url(#blur2)" stroke-linecap="round"/>
<path d="M486,488 L486,645 Q487,657 497,660 L515,662 L547,665 L590,666 L590,646 L525,646.5 Q504,645 503,625 L500,580 L497.5,540 L497,500 Z" fill="#f0e21e"/>
<path d="M492,520C491.8,525 490.3,540 490.5,550C490.7,560 492.2,571.7 493,580C493.8,588.3 494.8,593.8 495,600C495.2,606.2 494.2,614.2 494,617" fill="none" stroke="#e9815a" stroke-width="6" stroke-linecap="round" stroke-dasharray="3 1.5" opacity=".9"/>
<path d="M492,522C491.8,526.7 490.8,540.3 491,550C491.2,559.7 492.8,569.7 493.5,580C494.2,590.3 494.8,606.7 495,612" fill="none" stroke="#d9603c" stroke-width="2" stroke-dasharray="2 3" opacity=".8"/>
<path d="M497,504 L497.5,540 L500,580 L503,625 Q504,645 525,646.5 L590,646" fill="none" stroke="#1c1c12" stroke-width="5.2"/>
<path d="M486,640 Q486,657 497,660 L515,662 L547,665 L590,666" fill="none" stroke="#1c1c12" stroke-width="5.2"/>
<path d="M485.5,470 L486,645" fill="none" stroke="#1c1c12" stroke-width="5.8"/>
<path d="M525,503 L526,512" fill="none" stroke="#1c1c12" stroke-width="7"/>
<ellipse cx="526.7" cy="524.6" rx="13.6" ry="13.6" fill="#e52a1b" stroke="#1c1c12" stroke-width="5.6"/>
<path d="M584,527C582.8,527.5 581.1,526.5 576.7,530C572.3,533.5 562.1,542.2 557.5,548C552.9,553.8 550.8,559.7 549,565C547.2,570.3 546.8,574.7 547,580C547.2,585.3 547.8,592.2 550,597C552.2,601.8 555.8,606.3 560,609C564.2,611.7 570.7,612.5 575,613C579.3,613.5 584.2,612.2 586,612Z" fill="#e7118d"/>
<path d="M584,527C582.8,527.5 581.1,526.5 576.7,530C572.3,533.5 562.1,542.2 557.5,548C552.9,553.8 550.8,559.7 549,565C547.2,570.3 546.8,574.7 547,580C547.2,585.3 547.8,592.2 550,597C552.2,601.8 555.8,606.3 560,609C564.2,611.7 570.7,612.5 575,613C579.3,613.5 584.2,612.2 586,612" fill="none" stroke="#1c1c12" stroke-width="5.2"/>
<path d="M482,379C483,380 485.2,382.7 488,385C490.8,387.3 494.3,390.8 499,393C503.7,395.2 510.4,397.4 516,398C521.6,398.6 527,398 532.5,396.7C538,395.4 543.8,392.9 549,390C554.2,387.1 560.7,381.7 564,379C567.3,376.3 568.2,374.8 569,374" fill="none" stroke="#1c1c12" stroke-width="5.2" stroke-linecap="round"/>
<path d="M422,393C422.6,393.5 423.3,394.2 425.4,396C427.5,397.8 430.8,401.6 434.7,403.5C438.6,405.4 444,406.9 448.7,407.2C453.4,407.5 458,407.3 462.7,405.4C467.4,403.5 473.8,398.2 476.7,396C479.6,393.8 479.4,392.7 480,392" fill="none" stroke="#1c1c12" stroke-width="5.2" stroke-linecap="round"/>
<path d="M371,423C371.5,423.5 371.9,424.5 374,425.9C376.1,427.3 379.4,430.4 383.3,431.5C387.2,432.6 392.6,433 397.3,432.4C402,431.8 407.5,429.7 411.4,427.8C415.3,425.9 419.1,422.3 420.7,421.2" fill="none" stroke="#1c1c12" stroke-width="5.2" stroke-linecap="round"/>
<path d="M327,451C327.6,451.5 328.3,452.6 330.4,453.9C332.5,455.2 336.6,457.8 339.7,458.6C342.8,459.4 345.9,459.2 349,458.6C352.1,458 355.3,456.7 358.4,454.8C361.5,452.9 365.6,449.1 367.7,447.3C369.8,445.5 370.4,444.6 371,444" fill="none" stroke="#1c1c12" stroke-width="5.2" stroke-linecap="round"/>
<path d="M285,488C285.7,488.7 287.2,490.4 289.3,492.2C291.4,494 294.8,497.3 297.7,498.7C300.6,500.1 303.7,500.9 307,500.6C310.3,500.3 314.5,498.2 317.3,496.8C320.1,495.4 322.4,493.3 323.8,492.2C325.2,491.1 325.6,490.4 326,490" fill="none" stroke="#1c1c12" stroke-width="5.2" stroke-linecap="round"/>
<clipPath id="sunclipR"><path d="M330,691.7L343,690L353,681.7L361.7,665L380,670.8L396.7,655.8L411.7,666.7L430,659L440,667.5L455,661.7L456.7,672.5L473,675.8L473,695L486.7,698L483,713L471.7,718L485,728L476.7,740L471.7,746.7L480,753L466.7,756.7L468,766.7L456.7,763L463,780L448,790L433,800L420,796.7L410,808L388,793L375,798L370,781.7L350,781.7L346.7,766.7L338,750L345,735L334,726L340,712L331.7,713L336.7,701.7Z"/></clipPath>
<g clip-path="url(#sunclipR)">
<rect x="320" y="650" width="180" height="170" fill="#f5d01c"/>
<path d="M420,738L540,740.7L535.4,771Z" fill="#ee5a10"/>
<path d="M420,738L526.9,792.5L509.7,817.8Z" fill="#ee5a10"/>
<path d="M420,738L492.7,833.5L466.2,848.8Z" fill="#ee5a10"/>
<path d="M420,738L444.1,855.6L413.5,857.8Z" fill="#ee5a10"/>
<path d="M420,738L390.7,854.4L362.2,843.2Z" fill="#ee5a10"/>
<path d="M420,738L343.1,830.1L322.3,807.7Z" fill="#ee5a10"/>
<path d="M420,738L310.7,787.6L301.7,758.4Z" fill="#ee5a10"/>
<path d="M420,738L300,735.3L304.6,705Z" fill="#ee5a10"/>
<path d="M420,738L313.1,683.5L330.3,658.2Z" fill="#ee5a10"/>
<path d="M420,738L347.3,642.5L373.8,627.2Z" fill="#ee5a10"/>
<path d="M420,738L395.9,620.4L426.5,618.2Z" fill="#ee5a10"/>
<path d="M420,738L449.3,621.6L477.8,632.8Z" fill="#ee5a10"/>
<path d="M420,738L496.9,645.9L517.7,668.3Z" fill="#ee5a10"/>
<path d="M420,738L529.3,688.4L538.3,717.6Z" fill="#ee5a10"/>
<circle cx="420" cy="738" r="100" fill="url(#sung)"/>
<path d="M486,640C481.2,644 464.7,658.7 457,664C449.3,669.3 449.5,668.5 440,672C430.5,675.5 414.2,682 400,685C385.8,688 369.7,690.2 355,690C340.3,689.8 325.2,687.2 312,684C298.8,680.8 284.3,674 276,671C267.7,668 264.3,666.8 262,666L262,600 L486,600Z" fill="#9ccc20" opacity=".3"/>
</g>
<path d="M330,691.7L343,690L353,681.7L361.7,665L380,670.8L396.7,655.8L411.7,666.7L430,659L440,667.5L455,661.7L456.7,672.5L473,675.8L473,695L486.7,698L483,713L471.7,718L485,728L476.7,740L471.7,746.7L480,753L466.7,756.7L468,766.7L456.7,763L463,780L448,790L433,800L420,796.7L410,808L388,793L375,798L370,781.7L350,781.7L346.7,766.7L338,750L345,735L334,726L340,712L331.7,713L336.7,701.7Z" fill="none" stroke="#1c1c12" stroke-width="5.2" stroke-linejoin="miter"/>
<path d="M486,640C481.2,644 464.7,658.7 457,664C449.3,669.3 449.5,668.5 440,672C430.5,675.5 414.2,682 400,685C385.8,688 369.7,690.2 355,690C340.3,689.8 325.2,687.2 312,684C298.8,680.8 284.3,674 276,671C267.7,668 264.3,666.8 262,666" fill="none" stroke="#1c1c12" stroke-width="5.2"/>
<path d="M502,659C498.8,661.3 488,667.2 483,673C478,678.8 474.7,687 472,694C469.3,701 468,707.3 467,715C466,722.7 466.5,730.8 466,740C465.5,749.2 464.1,760.8 464,770C463.9,779.2 464,787.7 465.5,795C467,802.3 468.6,808.8 473,814C477.4,819.2 485.5,823.2 492,826C498.5,828.8 505,829.8 512,831C519,832.2 530.3,832.7 534,833" fill="none" stroke="#1c1c12" stroke-width="5.2"/>
<g transform="translate(301.5,538) rotate(-6) scale(1)">
<path d="M-4,-22C-1.5,-22.8 2.5,-22.5 5,-21C7.5,-19.5 9.8,-16.2 11,-13C12.2,-9.8 12.3,-5.5 12,-2C11.7,1.5 9.7,5 9,8C8.3,11 9,13.7 8,16C7,18.3 4.8,21.2 3,22C1.2,22.8 -1.5,22.3 -3,21C-4.5,19.7 -5.2,16.8 -6,14C-6.8,11.2 -7.2,7.3 -8,4C-8.8,0.7 -10.7,-2.7 -11,-6C-11.3,-9.3 -11.2,-13.3 -10,-16C-8.8,-18.7 -6.5,-21.2 -4,-22Z" fill="#e8643a"/>
<path d="M-5,12C-4.2,10.2 -0.2,9 2,9C4.2,9 7.2,10.5 8,12C8.8,13.5 8,16.3 7,18C6,19.7 3.7,21.7 2,22C0.3,22.3 -1.8,21.7 -3,20C-4.2,18.3 -5.8,13.8 -5,12Z" fill="#f6b6a6"/>
<path d="M-7,-14C-6.2,-14.8 -4,-18.5 -2,-19C0,-19.5 3.3,-18.7 5,-17C6.7,-15.3 7.5,-11.8 8,-9C8.5,-6.2 8,-1.5 8,0" fill="none" stroke="#f7a888" stroke-width="2.2" stroke-linecap="round"/>
<path d="M-4,-10C-3.2,-12.5 -0.3,-13.5 1,-13C2.3,-12.5 3.7,-9.5 4,-7C4.3,-4.5 3.8,-0.3 3,2C2.2,4.3 0.2,7 -1,7C-2.2,7 -3.5,4.8 -4,2C-4.5,-0.8 -4.8,-7.5 -4,-10Z" fill="#c9401f"/>
<path d="M-2,-6C-1.5,-5.3 0.7,-3.7 1,-2C1.3,-0.3 0.2,3 0,4" fill="none" stroke="#f19a7a" stroke-width="1.6" stroke-linecap="round"/>
</g>
<g transform="translate(348,511) rotate(4) scale(1)">
<path d="M-4,-22C-1.5,-22.8 2.5,-22.5 5,-21C7.5,-19.5 9.8,-16.2 11,-13C12.2,-9.8 12.3,-5.5 12,-2C11.7,1.5 9.7,5 9,8C8.3,11 9,13.7 8,16C7,18.3 4.8,21.2 3,22C1.2,22.8 -1.5,22.3 -3,21C-4.5,19.7 -5.2,16.8 -6,14C-6.8,11.2 -7.2,7.3 -8,4C-8.8,0.7 -10.7,-2.7 -11,-6C-11.3,-9.3 -11.2,-13.3 -10,-16C-8.8,-18.7 -6.5,-21.2 -4,-22Z" fill="#e8643a"/>
<path d="M-5,12C-4.2,10.2 -0.2,9 2,9C4.2,9 7.2,10.5 8,12C8.8,13.5 8,16.3 7,18C6,19.7 3.7,21.7 2,22C0.3,22.3 -1.8,21.7 -3,20C-4.2,18.3 -5.8,13.8 -5,12Z" fill="#f6b6a6"/>
<path d="M-7,-14C-6.2,-14.8 -4,-18.5 -2,-19C0,-19.5 3.3,-18.7 5,-17C6.7,-15.3 7.5,-11.8 8,-9C8.5,-6.2 8,-1.5 8,0" fill="none" stroke="#f7a888" stroke-width="2.2" stroke-linecap="round"/>
<path d="M-4,-10C-3.2,-12.5 -0.3,-13.5 1,-13C2.3,-12.5 3.7,-9.5 4,-7C4.3,-4.5 3.8,-0.3 3,2C2.2,4.3 0.2,7 -1,7C-2.2,7 -3.5,4.8 -4,2C-4.5,-0.8 -4.8,-7.5 -4,-10Z" fill="#c9401f"/>
<path d="M-2,-6C-1.5,-5.3 0.7,-3.7 1,-2C1.3,-0.3 0.2,3 0,4" fill="none" stroke="#f19a7a" stroke-width="1.6" stroke-linecap="round"/>
</g>
<g transform="translate(397.6,483.5) rotate(4)">
<ellipse cx="0" cy="0" rx="19.5" ry="10" fill="#8a4a16" filter="url(#blur1)"/>
<ellipse cx="0" cy="-1" rx="15.5" ry="5.5" fill="#5a2e0c" filter="url(#blur1)"/>
<ellipse cx="0" cy="2.5" rx="13.5" ry="4" fill="#b9793a" filter="url(#blur1)"/>
<path d="M-10.5,1 Q0,-5.5 10.5,1 Q0,6 -10.5,1Z" fill="#c9a97e"/>
<ellipse cx="0.5" cy="0.4" rx="4.6" ry="4.3" fill="#5e4a26"/>
<ellipse cx="0.5" cy="0.4" rx="2" ry="2" fill="#1a140a"/>
<ellipse cx="-0.8" cy="-1" rx="0.8" ry="0.8" fill="#f4efe2"/>
</g>
<g transform="translate(450.4,467.5) rotate(-2)">
<ellipse cx="0" cy="0" rx="20.5" ry="11" fill="#8a4a16" filter="url(#blur1)"/>
<ellipse cx="0" cy="-1" rx="16.5" ry="6.5" fill="#5a2e0c" filter="url(#blur1)"/>
<ellipse cx="0" cy="2.5" rx="14.5" ry="5" fill="#b9793a" filter="url(#blur1)"/>
<path d="M-11.5,1 Q0,-6.5 11.5,1 Q0,7 -11.5,1Z" fill="#c9a97e"/>
<ellipse cx="0.5" cy="0.4" rx="4.6" ry="4.3" fill="#5e4a26"/>
<ellipse cx="0.5" cy="0.4" rx="2" ry="2" fill="#1a140a"/>
<ellipse cx="-0.8" cy="-1" rx="0.8" ry="0.8" fill="#f4efe2"/>
</g>
<g transform="translate(725,0) scale(-1,1)"><g transform="translate(339,543.5) scale(0.5,0.5)">
<path d="M40,0 L62,0 Q68,10 64,24 L62,34 Q75,38 90,44 Q100,50 100,70 L98,100 L2,100 L0,72 Q0,52 10,45 Q25,38 42,34 L40,24 Q34,10 40,0Z" fill="#f0a468"/>
<path d="M40,0 L53,0 L54,22 L42,26 Q35,10 40,0Z" fill="#8a5630"/>
<path d="M53,0 L62,0 Q68,10 64,24 L62,34 L54,34 Z" fill="#d8663a"/>
<path d="M54,32 L62,34 Q75,38 90,44 Q100,50 100,70 L98,100 L60,100 L57,70 Z" fill="#e05424"/>
<path d="M68,44C69,39 78,43.3 82,46C86,48.7 90.7,54 92,60C93.3,66 92.7,79.3 90,82C87.3,84.7 79.7,82.3 76,76C72.3,69.7 67,49 68,44Z" fill="#f08a50"/>
<path d="M61,60C62.3,63.3 67.3,73.3 69,80C70.7,86.7 70.7,96.7 71,100" fill="none" stroke="#b63414" stroke-width="3"/>
<path d="M82,54C84,57.7 92.2,68.3 94,76C95.8,83.7 93.2,96 93,100" fill="none" stroke="#b63414" stroke-width="3"/>
<path d="M63,38C65.2,39.3 72.2,45 76,46C79.8,47 84.3,44.3 86,44" fill="none" stroke="#f6a878" stroke-width="3"/>
<path d="M53,8 L55,100" fill="none" stroke="#f9e4cc" stroke-width="3.6"/>
<path d="M14,54C15,57.3 19.3,66.3 20,74C20.7,81.7 18.3,95.7 18,100" fill="none" stroke="#d8824a" stroke-width="4"/>
<path d="M28,46C30,48 38,51.7 40,58C42,64.3 40,79.7 40,84" fill="none" stroke="#f9d2a4" stroke-width="7" stroke-linecap="round"/>
<path d="M30,100L32,86" fill="none" stroke="#d8824a" stroke-width="3"/>
<path d="M6,60C6.3,63.3 8,73.7 8,80C8,86.3 6.3,95 6,98" fill="none" stroke="#f7c594" stroke-width="3"/>
</g></g>
<g transform="translate(900,0) scale(-1,1)"><g transform="translate(418.5,516) scale(0.6,0.7)">
<path d="M40,0 L62,0 Q68,10 64,24 L62,34 Q75,38 90,44 Q100,50 100,70 L98,100 L2,100 L0,72 Q0,52 10,45 Q25,38 42,34 L40,24 Q34,10 40,0Z" fill="#f0a468"/>
<path d="M40,0 L53,0 L54,22 L42,26 Q35,10 40,0Z" fill="#8a5630"/>
<path d="M53,0 L62,0 Q68,10 64,24 L62,34 L54,34 Z" fill="#d8663a"/>
<path d="M54,32 L62,34 Q75,38 90,44 Q100,50 100,70 L98,100 L60,100 L57,70 Z" fill="#e05424"/>
<path d="M68,44C69,39 78,43.3 82,46C86,48.7 90.7,54 92,60C93.3,66 92.7,79.3 90,82C87.3,84.7 79.7,82.3 76,76C72.3,69.7 67,49 68,44Z" fill="#f08a50"/>
<path d="M61,60C62.3,63.3 67.3,73.3 69,80C70.7,86.7 70.7,96.7 71,100" fill="none" stroke="#b63414" stroke-width="3"/>
<path d="M82,54C84,57.7 92.2,68.3 94,76C95.8,83.7 93.2,96 93,100" fill="none" stroke="#b63414" stroke-width="3"/>
<path d="M63,38C65.2,39.3 72.2,45 76,46C79.8,47 84.3,44.3 86,44" fill="none" stroke="#f6a878" stroke-width="3"/>
<path d="M53,8 L55,100" fill="none" stroke="#f9e4cc" stroke-width="3.6"/>
<path d="M14,54C15,57.3 19.3,66.3 20,74C20.7,81.7 18.3,95.7 18,100" fill="none" stroke="#d8824a" stroke-width="4"/>
<path d="M28,46C30,48 38,51.7 40,58C42,64.3 40,79.7 40,84" fill="none" stroke="#f9d2a4" stroke-width="7" stroke-linecap="round"/>
<path d="M30,100L32,86" fill="none" stroke="#d8824a" stroke-width="3"/>
<path d="M6,60C6.3,63.3 8,73.7 8,80C8,86.3 6.3,95 6,98" fill="none" stroke="#f7c594" stroke-width="3"/>
</g></g>
<g transform="translate(808,0) scale(-1,1)"><path d="M402.5,568 L402.5,612" fill="none" stroke="#cfd9a8" stroke-width="3.6"/>
<path d="M402.5,568 L402.5,612" fill="none" stroke="#e9c6a2" stroke-width="1.6" stroke-dasharray="1.5 1.5"/>
<path d="M400,606C397.8,602.3 392,600 388,600C384,600 379.2,602.3 376,606C372.8,609.7 370.5,616 369,622C367.5,628 367.2,635.7 367,642C366.8,648.3 366.5,656.3 368,660C369.5,663.7 372.3,664.7 376,664C379.7,663.3 386.2,660 390,656C393.8,652 397.2,645.7 399,640C400.8,634.3 400.8,627.7 401,622C401.2,616.3 402.2,609.7 400,606Z" fill="#79bd33" stroke="#c3dba0" stroke-width="1.3"/>
<path d="M402,612C400.7,613.3 396.7,618 394,620C391.3,622 388.7,623.7 386,624C383.3,624.3 379.3,622.3 378,622" fill="none" stroke="#d9d2a0" stroke-width="1.2"/>
<path d="M394,620C393.3,622 392,628.7 390,632C388,635.3 384.7,638.3 382,640C379.3,641.7 375.3,641.7 374,642" fill="none" stroke="#d9d2a0" stroke-width="1.2"/>
<path d="M390,632C390.3,634 392.7,640.3 392,644C391.3,647.7 387,652.3 386,654" fill="none" stroke="#d9d2a0" stroke-width="1.2"/>
<path d="M386,624C385.3,622.3 383.3,616.3 382,614C380.7,611.7 378.7,610.7 378,610" fill="none" stroke="#d9d2a0" stroke-width="1.2"/>
<path d="M382,640C381.3,641.7 379.7,647.7 378,650C376.3,652.3 373,653.3 372,654" fill="none" stroke="#d9d2a0" stroke-width="1.2"/>
<path d="M396,616C396.3,618.3 398,625.3 398,630C398,634.7 396.3,641.7 396,644" fill="none" stroke="#d9d2a0" stroke-width="1.2"/>
<path d="M371,640 L369,662" fill="none" stroke="#9cc8e8" stroke-width="1.6"/>
<path d="M409,604C410.5,600.3 413.2,598.7 416,598C418.8,597.3 422.7,597.7 426,600C429.3,602.3 433.2,607 436,612C438.8,617 441.5,624 443,630C444.5,636 445.3,643.3 445,648C444.7,652.7 443.5,656 441,658C438.5,660 433.8,660.7 430,660C426.2,659.3 421.3,657.3 418,654C414.7,650.7 411.8,645.7 410,640C408.2,634.3 407.2,626 407,620C406.8,614 407.5,607.7 409,604Z" fill="url(#lungg)" stroke="#8a5a30" stroke-width="1"/>
<path d="M414,626C415.7,625.3 420.7,621.3 424,622C427.3,622.7 431.7,626.3 434,630C436.3,633.7 437.3,641.7 438,644" fill="none" stroke="#8e5a2e" stroke-width="1.3"/>
<path d="M412,640C413.3,639.3 417.3,635.3 420,636C422.7,636.7 425.7,641 428,644C430.3,647 433,652.3 434,654" fill="none" stroke="#f0cfa4" stroke-width="2" opacity=".8"/>
<path d="M414,610C415.3,609.3 419.3,605.7 422,606C424.7,606.3 428.7,611 430,612" fill="none" stroke="#e8c79c" stroke-width="2.4" opacity=".8"/></g>
<path d="M423,712C423.5,710.8 424.5,706.8 426,705C427.5,703.2 429.8,701.6 432,701C434.2,700.4 437,700.7 439,701.5C441,702.3 442.9,704.1 444,706C445.1,707.9 445.7,710.8 445.5,713C445.3,715.2 443.4,718 443,719" fill="none" stroke="#1c1c12" stroke-width="14" stroke-linecap="round"/>
<path d="M423,712C423.5,710.8 424.5,706.8 426,705C427.5,703.2 429.8,701.6 432,701C434.2,700.4 437,700.7 439,701.5C441,702.3 442.9,704.1 444,706C445.1,707.9 445.7,710.8 445.5,713C445.3,715.2 443.4,718 443,719" fill="none" stroke="#f0e022" stroke-width="4.6" stroke-linecap="round"/>
<path d="M431.5,768L441,790L492,902" fill="none" stroke="#1c1c12" stroke-width="13" stroke-linejoin="round"/>
<path d="M431.5,768L441,790L492,902" fill="none" stroke="#e9791c" stroke-width="5.6" stroke-linejoin="round"/>
<path d="M432,752 L446,754" fill="none" stroke="#1c1c12" stroke-width="7" stroke-linecap="round"/>
<path d="M436,753 L444,754" fill="none" stroke="#3a4a9a" stroke-width="2.4" stroke-linecap="round"/>
<path d="M410,712C414.5,709.7 419.5,708.5 424,709C428.5,709.5 434,711.5 437,715C440,718.5 441.8,725 442,730C442.2,735 439.7,740.5 438,745C436.3,749.5 433.3,752.8 432,757C430.7,761.2 431.5,765.8 430,770C428.5,774.2 426.3,779.1 423,782C419.7,784.9 414.3,787.7 410,787.5C405.7,787.3 400,785.1 397,781C394,776.9 392.8,769.8 392,763C391.2,756.2 391.2,746.7 392,740C392.8,733.3 394,727.7 397,723C400,718.3 405.5,714.3 410,712Z" fill="url(#kidg)" stroke="#1c1c12" stroke-width="6.2"/>
<path d="M402,740C402.3,743.3 402.7,754 404,760C405.3,766 409,773.3 410,776" fill="none" stroke="#b77f8a" stroke-width="2.2" opacity=".8"/>
<path d="M410,722C412,721.3 418.3,717.3 422,718C425.7,718.7 430.3,724.7 432,726" fill="none" stroke="#ecd0d0" stroke-width="3" opacity=".8"/>
<path d="M414,750C415,751.7 419,756.3 420,760C421,763.7 420,770 420,772" fill="none" stroke="#e7c0bb" stroke-width="3" opacity=".7"/>
<path d="M354.6,672.9C351.4,669.8 346.6,668.1 342.5,668.8C338.5,669.4 333.8,672.4 330.4,676.7C326.9,681.1 323.2,688.8 322.1,694.8C321,700.8 321.6,707.8 323.8,712.9C326.1,717.9 331.4,723.7 335.8,725C340.1,726.4 345.8,724.4 349.9,721.1C354,717.8 358.3,710.8 360.2,705.1C362.1,699.4 362.4,692.4 361.4,687C360.5,681.6 357.7,675.9 354.6,672.9Z" fill="#b23a2c" stroke="#1c1c12" stroke-width="6"/>
<path d="M352.4,680.9C351.1,682.2 345,685.5 344.3,688.9C343.6,692.2 348.9,697.3 348.2,701C347.4,704.7 341.3,709.3 340,711" fill="none" stroke="#e8a090" stroke-width="3" stroke-linecap="round"/>
<path d="M340.4,676.8C339.1,678.5 334,682.8 332.2,686.8C330.5,690.8 330.4,698.5 330,700.9" fill="none" stroke="#5a1a14" stroke-width="3" stroke-linecap="round"/>
<path d="M354.2,705L343.9,717" fill="none" stroke="#e06a50" stroke-width="3" stroke-linecap="round"/>
<path d="M367.6,757.4C365.3,752.7 359.9,750 355.6,749.3C351.2,748.6 345.8,750.2 341.4,753.2C337,756.2 331.9,761.9 329.2,767.2C326.4,772.6 324,779.6 324.9,785.3C325.9,791 330.5,798.1 334.8,801.5C339.1,804.8 346.1,806.6 350.8,805.6C355.5,804.6 360,800.3 363,795.6C366.1,790.9 368.6,783.9 369.3,777.5C370.1,771.2 369.9,762.1 367.6,757.4Z" fill="url(#splg)" stroke="#1c1c12" stroke-width="6"/>
<path d="M349.5,751.3L347.4,761.3L357.4,765.4L351.2,775.4L359.2,783.5L351,789.5" fill="none" stroke="#1c1c12" stroke-width="3.6"/>
<ellipse cx="481.6" cy="973.4" rx="13" ry="13" fill="#e3261a" stroke="#1c1c12" stroke-width="6"/>
<path d="M485.6,969.4C484.6,969 481.3,966.7 479.6,967.3C477.9,968 476.2,972.3 475.5,973.3" fill="none" stroke="#f2907a" stroke-width="2.4" stroke-linecap="round"/>
<path d="M336,1164C337.7,1161.5 341.8,1152.5 346,1149C350.2,1145.5 356.5,1143.2 361,1143C365.5,1142.8 368.2,1144.3 373,1148C377.8,1151.7 381.3,1160.3 390,1165C398.7,1169.7 414.2,1175.8 425,1176C435.8,1176.2 445.8,1172.3 455,1166C464.2,1159.7 474.2,1147.3 480,1138C485.8,1128.7 487.2,1117.8 490,1110C492.8,1102.2 493.7,1095.2 497,1091C500.3,1086.8 506,1084.7 510,1085C514,1085.3 517.5,1090.3 521,1093C524.5,1095.7 529.3,1099.7 531,1101L560,1100 L560,1240 L300,1240 L300,1164 Z" fill="#e40f72"/>
<path d="M336,1164C337.7,1161.5 341.8,1152.5 346,1149C350.2,1145.5 356.5,1143.2 361,1143C365.5,1142.8 368.2,1144.3 373,1148C377.8,1151.7 381.3,1160.3 390,1165C398.7,1169.7 414.2,1175.8 425,1176C435.8,1176.2 445.8,1172.3 455,1166C464.2,1159.7 474.2,1147.3 480,1138C485.8,1128.7 487.2,1117.8 490,1110C492.8,1102.2 493.7,1095.2 497,1091C500.3,1086.8 506,1084.7 510,1085C514,1085.3 517.5,1090.3 521,1093C524.5,1095.7 529.3,1099.7 531,1101" fill="none" stroke="#1c1c12" stroke-width="5.6"/>
<path d="M424,1030 L423,1038" fill="none" stroke="#1c1c12" stroke-width="8"/>
<ellipse cx="425" cy="1017.5" rx="16.2" ry="11.2" fill="#d9d61c" stroke="#1c1c12" stroke-width="5.4"/>
<ellipse cx="419.4" cy="1081" rx="40" ry="45.5" fill="#7fc3ef" stroke="#1c1c12" stroke-width="6.2" transform="rotate(-8 419.4 1081)"/>
<path d="M398,1095C398.8,1091.2 401.7,1087.5 405,1086C408.3,1084.5 414.2,1084.7 418,1086C421.8,1087.3 426,1090.5 428,1094C430,1097.5 430.8,1103.2 430,1107C429.2,1110.8 426.3,1115.2 423,1117C419.7,1118.8 413.8,1119.3 410,1118C406.2,1116.7 402,1112.8 400,1109C398,1105.2 397.2,1098.8 398,1095Z" fill="#b4acd9" stroke="#8d86b8" stroke-width="1"/>
<path d="M404,1098C405.3,1097 409.2,1092.3 412,1092C414.8,1091.7 419,1093.8 421,1096C423,1098.2 423.5,1103.5 424,1105" fill="none" stroke="#e6e2f4" stroke-width="2.2" opacity=".9"/>
<path d="M408,1108C409.3,1108.5 413.5,1111 416,1111C418.5,1111 421.8,1108.5 423,1108" fill="none" stroke="#8a82b5" stroke-width="1.2"/>
<path d="M434,1062L450,1060L446,1082L441,1104L437,1104Z" fill="#f7dba3"/>
<path d="M397,1072 L437,1090" fill="none" stroke="#f3ead9" stroke-width="4" stroke-linecap="round"/>
<path d="M430,1050 L427,1108" fill="none" stroke="#e9dcc8" stroke-width="1.6"/>
<path d="M394,1062C394.8,1060 396.7,1052.2 399,1050C401.3,1047.8 405.8,1047.7 408,1049C410.2,1050.3 410,1055.8 412,1058C414,1060.2 417.3,1061.7 420,1062C422.7,1062.3 427,1058.7 428,1060C429,1061.3 428,1067 426,1070C424,1073 419,1077.2 416,1078C413,1078.8 409.7,1076.8 408,1075C406.3,1073.2 407.7,1068.2 406,1067C404.3,1065.8 399.3,1067.8 398,1068" fill="none" stroke="#e68c55" stroke-width="4.2" stroke-linecap="round" stroke-linejoin="round"/>
<path d="M394,1062C394.8,1060 396.7,1052.2 399,1050C401.3,1047.8 405.8,1047.7 408,1049C410.2,1050.3 410,1055.8 412,1058C414,1060.2 417.3,1061.7 420,1062C422.7,1062.3 426.7,1060.3 428,1060" fill="none" stroke="#f6c79b" stroke-width="1.4" stroke-linecap="round"/>
</g>
<path d="M482,487C482.4,484.2 484.1,477.8 484.5,470C484.9,462.2 484.5,454.7 484.5,440C484.5,425.3 483.8,394.1 484.5,382C485.2,369.9 486.8,371.8 489,367.5C491.2,363.2 494,359 497.5,356C501,353 504.9,350.8 510,349.5C515.1,348.2 522.2,347.6 528,348C533.8,348.4 540.1,349.3 545,351.7C549.9,354.1 554,358.2 557.5,362.5C561,366.8 563.8,372.2 566,377.5C568.2,382.8 569.2,387.8 570.5,394C571.8,400.2 572.7,407.3 573.5,415C574.3,422.7 575.2,433.3 575.5,440C575.8,446.7 575.5,450.4 575,455C574.5,459.6 573,462 572.5,467.5C572,473 572,480.4 571.7,488C571.5,495.6 570.6,506 571,513C571.4,520 572.9,524.4 574,530C575.1,535.6 577,540.5 577.5,546.7C578,552.9 577,557.3 577,567C577,576.7 577.9,594.5 577.5,605C577.1,615.5 575.5,620.5 574.4,630C573.3,639.5 572.4,653.2 571,662C569.6,670.8 568.7,674.2 566,683C563.3,691.8 559.3,704.3 555,715C550.7,725.7 543.9,736.3 540,747C536.1,757.7 533.9,769.8 531.5,779C529.1,788.2 527.4,791.8 525.5,802C523.6,812.2 521.1,825.3 520,840C518.9,854.7 518.8,869.2 519,890C519.2,910.8 520,944.2 521,965C522,985.8 524.3,994.2 525,1015C525.7,1035.8 525.7,1071.3 525,1090C524.3,1108.7 524,1114.5 521,1127C518,1139.5 514.7,1153.7 507,1165C499.3,1176.3 487.8,1188.3 475,1195C462.2,1201.7 445.5,1205 430,1205C414.5,1205 395.3,1200.5 382,1195C368.7,1189.5 358.5,1181.2 350,1172C341.5,1162.8 335.1,1153.7 331,1140C326.9,1126.3 326.2,1110.8 325.5,1090C324.8,1069.2 326.9,1038 327,1015C327.1,992 327.8,972.8 326,952C324.2,931.2 320.2,910.8 316,890C311.8,869.2 305.3,847.8 300.5,827C295.7,806.2 290.3,785.3 287,765C283.7,744.7 282.2,725.8 280.5,705C278.8,684.2 277.4,660.8 277,640C276.6,619.2 277.8,595.8 278,580C278.2,564.2 278.2,556.2 278.5,545C278.8,533.8 279.6,520.7 280,513C280.4,505.3 280.1,503.4 281,498.7C281.9,494 283.3,488.9 285.5,484.7C287.7,480.5 290.9,476.6 294,473.5C297.1,470.4 301.2,467.6 304.2,466C307.1,464.4 309.2,463.4 311.7,463.7C314.2,464 317.2,465.2 319.2,467.9C321.1,470.6 322.5,475.6 323.4,480C324.3,484.4 324.4,489 324.8,494C325.2,499 325.3,504 325.5,510C325.7,516 325.6,524.7 326,530C326.4,535.3 327.7,540 328,542L329,542C328.8,536.7 328.3,522 328,510C327.7,498 327.1,480.4 327,470C326.9,459.6 326.7,453.1 327.6,447.3C328.5,441.5 329.9,438.6 332.2,435.2C334.5,431.8 338.5,428.7 341.6,426.8C344.7,424.9 347.8,423.9 350.9,424C354,424.1 357.5,425.4 360.2,427.7C362.9,430 365.2,433.9 366.8,438C368.4,442.1 369,447.3 369.6,452C370.2,456.7 370.3,459.7 370.5,466C370.7,472.3 370.7,481.2 371,490C371.3,498.8 372.2,514.2 372.5,519L374,519C373.8,514.2 373.4,503.2 373,490C372.6,476.8 371.5,453.7 371.5,440C371.5,426.3 371.2,415.5 373,408C374.8,400.5 378,397.9 382,395C386,392.1 392.3,390.7 397,390.5C401.7,390.3 406.5,391.6 410,394C413.5,396.4 416.3,399 418,405C419.7,411 419.6,420.8 420,430C420.4,439.2 420.1,450.2 420.5,460C420.9,469.8 422.2,484.2 422.5,489L424,489C424.1,474.2 424.2,418.7 424.5,400C424.8,381.3 424.4,383.7 426,377C427.6,370.3 429.7,364.2 434,360C438.3,355.8 446.2,352 452,351.5C457.8,351 464.8,353.6 469,357C473.2,360.4 475.4,364.8 477,372C478.6,379.2 478.6,391.2 478.8,400C479,408.8 478.6,417.5 478,425C477.4,432.5 476,438.3 475.5,445C475,451.7 474.8,459.5 475,465C475.2,470.5 475.9,474.3 477,478C478.1,481.7 480.8,485.5 481.5,487Z" fill="none" stroke="#1c1c12" stroke-width="5.7" stroke-linejoin="round"/>
<path d="M326.3,505 L328.5,540.5" fill="none" stroke="#1c1c12" stroke-width="9.6" stroke-linecap="round"/>
<path d="M327,521 L328.3,537" fill="none" stroke="#efe6d2" stroke-width="2.4" stroke-linecap="round"/>
<path d="M371.8,478 L373.5,518.5" fill="none" stroke="#1c1c12" stroke-width="9.6" stroke-linecap="round"/>
<path d="M372.3,495 L373.2,514" fill="none" stroke="#efe6d2" stroke-width="2.4" stroke-linecap="round"/>
<path d="M421.8,450 L423.3,488.5" fill="none" stroke="#1c1c12" stroke-width="9.6" stroke-linecap="round"/>
<path d="M422.6,459 L423.2,485" fill="none" stroke="#efe6d2" stroke-width="2.4" stroke-linecap="round"/></g>
<g stroke="#787878" stroke-width="2.2" fill="none" stroke-linecap="butt" opacity=".95">
<path d="M316.5,344 L315.5,480"/>
<path d="M330,344 L350,444"/>
<path d="M346,345 L404,425"/>
<path d="M362.5,340 L452.5,387.5"/>
<path d="M391,339 L527.5,384"/>
<path d="M254,491.3 L390,494"/>
<path d="M230,537 L299,538"/>
<path d="M226.5,570.3 L436,558"/>
<path d="M226.5,570.3 L351,576"/>
<path d="M237.5,634 L380,635.5"/>
<path d="M231,699.5 L440,705"/>
<path d="M219,738.5 L317.5,740"/>
<path d="M234,787.5 L372.5,756"/>
<path d="M240.5,851 L400,854"/>
<path d="M235,896 L367.5,879"/>
<path d="M241,935 L421,915"/>
<path d="M249,989 L375,939"/>
<path d="M262.5,1034 L392.5,968"/>
<path d="M632,364 L491,414"/>
<path d="M632,410.5 L527.5,432.5"/>
<path d="M632,436.6 L572.5,440"/>
<path d="M632,458 L537.5,451"/>
<path d="M588,481 L491,465"/>
<path d="M632,521.6 L516,491"/>
<path d="M600,548 L525,522.5"/>
<path d="M601,602.5 L561,590"/>
<path d="M616,649 L497.5,604"/>
<path d="M632,720.4 L532.5,710"/>
<path d="M632,747 L455,700"/>
<path d="M632,779.4 L500,754"/>
<path d="M632,814.6 L485,780"/>
<path d="M632,839 L416,755"/>
<path d="M632,891.6 L462.5,840"/>
<path d="M632,948.4 L502.5,945.8"/>
<path d="M632,1026.6 L429,1022.5"/>
<path d="M599,1079.4 L439,1076"/>
<path d="M632,1126.6 L505,1124"/>
<path d="M832.4,363 L949,405"/>
<path d="M833,409 L912.5,427.5"/>
<path d="M833,432 L866,436"/>
<path d="M833,449.6 L902.5,445.5"/>
<path d="M855,472 L945,457.5"/>
<path d="M833,509.6 L914,488"/>
<path d="M847,543 L912.5,518"/>
<path d="M833,597 L874,582.5"/>
<path d="M833,641 L945,600"/>
<path d="M833,707.7 L904,701"/>
<path d="M833,741 L987.5,690"/>
<path d="M833,765 L942.5,746"/>
<path d="M833,800 L924,775"/>
<path d="M833,820 L1022.5,745"/>
<path d="M833,870 L977.5,819"/>
<path d="M833,937.3 L927.5,937"/>
<path d="M833,972.8 L952.5,972"/>
<path d="M833,1019.4 L1004,1018"/>
<path d="M844,1069.6 L987.5,1069"/>
<path d="M833,1115.8 L922.5,1115"/>
<path d="M1011,331 L917.5,377.5"/>
<path d="M1024,336 L985,377.5"/>
<path d="M1043,336 L1034.5,411"/>
<path d="M1069,336 L1081,444"/>
<path d="M1084,335 L1129,477.5"/>
<path d="M1216,487 L1027.5,489"/>
<path d="M1219.5,534 L1135,535"/>
<path d="M1207.5,577.5 L1009,543"/>
<path d="M1207.5,577.5 L1090,570"/>
<path d="M1182,639.5 L1069,641"/>
<path d="M1209.5,673 L999,701"/>
<path d="M1202.5,718 L1082.5,706"/>
<path d="M1203,770 L1091,771"/>
<path d="M1201,829.5 L1027.5,855"/>
<path d="M1192.5,886 L1065,887.5"/>
<path d="M1196,927.5 L1015,929"/>
<path d="M1193,966 L1022.5,967"/>
</g>
<g font-family="Liberation Sans, sans-serif" font-size="22" fill="#0d0d0d" stroke="#0d0d0d" stroke-width=".6" text-anchor="middle">
<text x="301.2" y="332.5">f</text>
<text x="313.7" y="332.5">r</text>
<text x="326.1" y="332.5">o</text>
<text x="338.5" y="332.5">n</text>
<text x="351" y="332.5">t</text>
<text x="363.4" y="332.5">a</text>
<text x="375.9" y="332.5">l</text>
<text x="400.7" y="332.5">s</text>
<text x="413.2" y="332.5">i</text>
<text x="425.6" y="332.5">n</text>
<text x="438.1" y="332.5">u</text>
<text x="450.5" y="332.5">s</text>
<text x="215" y="495.5">e</text>
<text x="227.5" y="495.5">y</text>
<text x="239.9" y="495.5">e</text>
<text x="191.7" y="540">e</text>
<text x="204.2" y="540">a</text>
<text x="216.6" y="540">r</text>
<text x="117.2" y="575">t</text>
<text x="129.7" y="575">r</text>
<text x="142.1" y="575">a</text>
<text x="154.5" y="575">p</text>
<text x="167" y="575">e</text>
<text x="179.4" y="575">z</text>
<text x="191.9" y="575">i</text>
<text x="204.3" y="575">u</text>
<text x="216.7" y="575">s</text>
<text x="91.7" y="640">l</text>
<text x="104.2" y="640">u</text>
<text x="116.6" y="640">n</text>
<text x="129" y="640">g</text>
<text x="138.5" y="640">,</text>
<text x="153.9" y="640">b</text>
<text x="166.4" y="640">r</text>
<text x="178.8" y="640">o</text>
<text x="191.2" y="640">n</text>
<text x="203.7" y="640">c</text>
<text x="216.1" y="640">h</text>
<text x="228.6" y="640">i</text>
<text x="35.7" y="703.7">s</text>
<text x="48.2" y="703.7">u</text>
<text x="60.6" y="703.7">p</text>
<text x="73" y="703.7">r</text>
<text x="85.5" y="703.7">a</text>
<text x="97.9" y="703.7">r</text>
<text x="110.4" y="703.7">e</text>
<text x="122.8" y="703.7">n</text>
<text x="135.2" y="703.7">a</text>
<text x="147.7" y="703.7">l</text>
<text x="172.6" y="703.7">g</text>
<text x="185" y="703.7">l</text>
<text x="197.4" y="703.7">a</text>
<text x="209.9" y="703.7">n</text>
<text x="222.3" y="703.7">d</text>
<text x="157.2" y="741">l</text>
<text x="169.7" y="741">i</text>
<text x="182.1" y="741">v</text>
<text x="194.5" y="741">e</text>
<text x="207" y="741">r</text>
<text x="96.9" y="790">g</text>
<text x="109.4" y="790">a</text>
<text x="121.8" y="790">l</text>
<text x="134.2" y="790">l</text>
<text x="146.7" y="790">b</text>
<text x="159.1" y="790">l</text>
<text x="171.6" y="790">a</text>
<text x="184" y="790">d</text>
<text x="196.4" y="790">d</text>
<text x="208.9" y="790">e</text>
<text x="221.3" y="790">r</text>
<text x="43.7" y="855.5">t</text>
<text x="56.2" y="855.5">r</text>
<text x="68.6" y="855.5">a</text>
<text x="81" y="855.5">n</text>
<text x="93.5" y="855.5">s</text>
<text x="105.9" y="855.5">v</text>
<text x="118.4" y="855.5">e</text>
<text x="130.8" y="855.5">r</text>
<text x="143.2" y="855.5">s</text>
<text x="155.7" y="855.5">e</text>
<text x="180.6" y="855.5">c</text>
<text x="193" y="855.5">o</text>
<text x="205.4" y="855.5">l</text>
<text x="217.9" y="855.5">o</text>
<text x="230.3" y="855.5">n</text>
<text x="44.9" y="902">a</text>
<text x="57.4" y="902">s</text>
<text x="69.8" y="902">c</text>
<text x="82.2" y="902">e</text>
<text x="94.7" y="902">n</text>
<text x="107.1" y="902">d</text>
<text x="119.6" y="902">i</text>
<text x="132" y="902">n</text>
<text x="144.4" y="902">g</text>
<text x="169.3" y="902">c</text>
<text x="181.8" y="902">o</text>
<text x="194.2" y="902">l</text>
<text x="206.6" y="902">o</text>
<text x="219.1" y="902">n</text>
<text x="53.7" y="941">s</text>
<text transform="translate(66.2,941) scale(0.86,1)">m</text>
<text x="78.6" y="941">a</text>
<text x="91" y="941">l</text>
<text x="103.5" y="941">l</text>
<text x="128.4" y="941">i</text>
<text x="140.8" y="941">n</text>
<text x="153.2" y="941">t</text>
<text x="165.7" y="941">e</text>
<text x="178.1" y="941">s</text>
<text x="190.6" y="941">t</text>
<text x="203" y="941">i</text>
<text x="215.4" y="941">n</text>
<text x="227.9" y="941">e</text>
<text x="56.2" y="997">i</text>
<text x="68.7" y="997">l</text>
<text x="81.1" y="997">e</text>
<text x="93.5" y="997">o</text>
<text x="106" y="997">c</text>
<text x="118.4" y="997">e</text>
<text x="130.9" y="997">c</text>
<text x="143.3" y="997">a</text>
<text x="155.7" y="997">l</text>
<text x="180.6" y="997">v</text>
<text x="193.1" y="997">a</text>
<text x="205.5" y="997">l</text>
<text x="217.9" y="997">v</text>
<text x="230.4" y="997">e</text>
<text x="73.7" y="1041">c</text>
<text x="86.2" y="1041">a</text>
<text x="98.6" y="1041">e</text>
<text x="111" y="1041">c</text>
<text x="123.5" y="1041">u</text>
<text transform="translate(135.9,1041) scale(0.86,1)">m</text>
<text x="145.4" y="1041">,</text>
<text x="160.8" y="1041">a</text>
<text x="173.2" y="1041">p</text>
<text x="185.7" y="1041">p</text>
<text x="198.1" y="1041">e</text>
<text x="210.6" y="1041">n</text>
<text x="223" y="1041">d</text>
<text x="235.4" y="1041">i</text>
<text x="247.9" y="1041">x</text>
<text x="639.2" y="368">t</text>
<text x="651.7" y="368">r</text>
<text x="664.1" y="368">i</text>
<text x="676.5" y="368">g</text>
<text x="689" y="368">e</text>
<text transform="translate(701.4,368) scale(0.86,1)">m</text>
<text x="713.9" y="368">i</text>
<text x="726.3" y="368">n</text>
<text x="738.7" y="368">a</text>
<text x="751.2" y="368">l</text>
<text x="776.1" y="368">n</text>
<text x="788.5" y="368">e</text>
<text x="800.9" y="368">r</text>
<text x="813.4" y="368">v</text>
<text x="825.8" y="368">e</text>
<text x="689.7" y="411.5">c</text>
<text x="702.2" y="411.5">e</text>
<text x="714.6" y="411.5">r</text>
<text x="727" y="411.5">e</text>
<text x="739.5" y="411.5">b</text>
<text x="751.9" y="411.5">r</text>
<text x="764.4" y="411.5">u</text>
<text transform="translate(776.8,411.5) scale(0.86,1)">m</text>
<text x="701.2" y="438">n</text>
<text x="713.7" y="438">o</text>
<text x="726.1" y="438">s</text>
<text x="738.5" y="438">e</text>
<text x="670.7" y="462">h</text>
<text x="683.2" y="462">y</text>
<text x="695.6" y="462">p</text>
<text x="708" y="462">o</text>
<text x="720.5" y="462">p</text>
<text x="732.9" y="462">h</text>
<text x="745.4" y="462">y</text>
<text x="757.8" y="462">s</text>
<text x="770.2" y="462">i</text>
<text x="782.7" y="462">s</text>
<text x="595.7" y="485.5">c</text>
<text x="608.2" y="485.5">e</text>
<text x="620.6" y="485.5">r</text>
<text x="633" y="485.5">e</text>
<text x="645.5" y="485.5">b</text>
<text x="657.9" y="485.5">e</text>
<text x="670.4" y="485.5">l</text>
<text x="682.8" y="485.5">l</text>
<text x="695.2" y="485.5">u</text>
<text transform="translate(707.7,485.5) scale(0.86,1)">m</text>
<text x="717.1" y="485.5">,</text>
<text x="732.6" y="485.5">b</text>
<text x="745" y="485.5">r</text>
<text x="757.4" y="485.5">a</text>
<text x="769.9" y="485.5">i</text>
<text x="782.3" y="485.5">n</text>
<text x="807.2" y="485.5">s</text>
<text x="819.6" y="485.5">t</text>
<text x="832.1" y="485.5">e</text>
<text transform="translate(844.5,485.5) scale(0.86,1)">m</text>
<text x="710.7" y="523.5">n</text>
<text x="723.2" y="523.5">e</text>
<text x="735.6" y="523.5">c</text>
<text x="748" y="523.5">k</text>
<text x="620.7" y="551.5">h</text>
<text x="633.2" y="551.5">y</text>
<text x="645.6" y="551.5">p</text>
<text x="658" y="551.5">e</text>
<text x="670.5" y="551.5">r</text>
<text x="682.9" y="551.5">t</text>
<text x="695.4" y="551.5">e</text>
<text x="707.8" y="551.5">n</text>
<text x="720.2" y="551.5">s</text>
<text x="732.7" y="551.5">i</text>
<text x="745.1" y="551.5">o</text>
<text x="757.6" y="551.5">n</text>
<text x="782.4" y="551.5">p</text>
<text x="794.9" y="551.5">o</text>
<text x="807.3" y="551.5">i</text>
<text x="819.8" y="551.5">n</text>
<text x="832.2" y="551.5">t</text>
<text x="618.7" y="605">p</text>
<text x="631.2" y="605">a</text>
<text x="643.6" y="605">r</text>
<text x="656" y="605">a</text>
<text x="668.5" y="605">t</text>
<text x="680.9" y="605">h</text>
<text x="693.4" y="605">y</text>
<text x="705.8" y="605">r</text>
<text x="718.2" y="605">o</text>
<text x="730.7" y="605">i</text>
<text x="743.1" y="605">d</text>
<text x="768" y="605">g</text>
<text x="780.4" y="605">l</text>
<text x="792.9" y="605">a</text>
<text x="805.3" y="605">n</text>
<text x="817.8" y="605">d</text>
<text x="645.2" y="649.6">t</text>
<text x="657.7" y="649.6">h</text>
<text x="670.1" y="649.6">y</text>
<text x="682.5" y="649.6">r</text>
<text x="695" y="649.6">o</text>
<text x="707.4" y="649.6">i</text>
<text x="719.9" y="649.6">d</text>
<text x="744.7" y="649.6">g</text>
<text x="757.2" y="649.6">l</text>
<text x="769.6" y="649.6">a</text>
<text x="782.1" y="649.6">n</text>
<text x="794.5" y="649.6">d</text>
<text x="690.2" y="721">s</text>
<text x="702.7" y="721">t</text>
<text x="715.1" y="721">o</text>
<text transform="translate(727.5,721) scale(0.86,1)">m</text>
<text x="740" y="721">a</text>
<text x="752.4" y="721">c</text>
<text x="764.9" y="721">h</text>
<text x="656.8" y="749">c</text>
<text x="669.3" y="749">e</text>
<text x="681.7" y="749">l</text>
<text x="694.1" y="749">i</text>
<text x="706.6" y="749">a</text>
<text x="719" y="749">c</text>
<text x="743.9" y="749">p</text>
<text x="756.3" y="749">l</text>
<text x="768.8" y="749">e</text>
<text x="781.2" y="749">x</text>
<text x="793.7" y="749">u</text>
<text x="806.1" y="749">s</text>
<text x="685.6" y="779.4">p</text>
<text x="698.1" y="779.4">a</text>
<text x="710.5" y="779.4">n</text>
<text x="722.9" y="779.4">c</text>
<text x="735.4" y="779.4">r</text>
<text x="747.8" y="779.4">e</text>
<text x="760.3" y="779.4">a</text>
<text x="772.7" y="779.4">s</text>
<text x="682.6" y="815.4">d</text>
<text x="695.1" y="815.4">u</text>
<text x="707.5" y="815.4">o</text>
<text x="719.9" y="815.4">d</text>
<text x="732.4" y="815.4">e</text>
<text x="744.8" y="815.4">n</text>
<text x="757.3" y="815.4">u</text>
<text transform="translate(769.7,815.4) scale(0.86,1)">m</text>
<text x="696.2" y="842">k</text>
<text x="708.7" y="842">i</text>
<text x="721.1" y="842">d</text>
<text x="733.5" y="842">n</text>
<text x="746" y="842">e</text>
<text x="758.4" y="842">y</text>
<text x="682.2" y="898">u</text>
<text x="694.7" y="898">r</text>
<text x="707.1" y="898">e</text>
<text x="719.5" y="898">t</text>
<text x="732" y="898">e</text>
<text x="744.4" y="898">r</text>
<text x="677.2" y="948.6">b</text>
<text x="689.7" y="948.6">l</text>
<text x="702.1" y="948.6">a</text>
<text x="714.5" y="948.6">d</text>
<text x="727" y="948.6">d</text>
<text x="739.4" y="948.6">e</text>
<text x="751.9" y="948.6">r</text>
<text x="784.2" y="977.6">a</text>
<text x="796.7" y="977.6">n</text>
<text x="809.1" y="977.6">u</text>
<text x="821.5" y="977.6">s</text>
<text x="652.2" y="1026">i</text>
<text x="664.7" y="1026">n</text>
<text x="677.1" y="1026">s</text>
<text x="689.5" y="1026">o</text>
<text transform="translate(702,1026) scale(0.86,1)">m</text>
<text x="714.4" y="1026">n</text>
<text x="726.9" y="1026">i</text>
<text x="739.3" y="1026">a</text>
<text x="764.2" y="1026">p</text>
<text x="776.6" y="1026">o</text>
<text x="789.1" y="1026">i</text>
<text x="801.5" y="1026">n</text>
<text x="813.9" y="1026">t</text>
<text x="606.2" y="1082">g</text>
<text x="618.7" y="1082">o</text>
<text x="631.1" y="1082">n</text>
<text x="643.5" y="1082">a</text>
<text x="656" y="1082">d</text>
<text x="670.9" y="1082">(</text>
<text x="680.9" y="1082">g</text>
<text x="693.3" y="1082">e</text>
<text x="705.7" y="1082">n</text>
<text x="718.2" y="1082">i</text>
<text x="730.6" y="1082">t</text>
<text x="743.1" y="1082">a</text>
<text x="755.5" y="1082">l</text>
<text x="780.4" y="1082">g</text>
<text x="792.8" y="1082">l</text>
<text x="805.3" y="1082">a</text>
<text x="817.7" y="1082">n</text>
<text x="830.1" y="1082">d</text>
<text x="840.1" y="1082">)</text>
<text x="651.2" y="1122">s</text>
<text x="663.7" y="1122">c</text>
<text x="676.1" y="1122">i</text>
<text x="688.5" y="1122">a</text>
<text x="701" y="1122">t</text>
<text x="713.4" y="1122">i</text>
<text x="725.9" y="1122">c</text>
<text x="750.7" y="1122">n</text>
<text x="763.2" y="1122">e</text>
<text x="775.6" y="1122">r</text>
<text x="788.1" y="1122">v</text>
<text x="800.5" y="1122">e</text>
<text x="979.7" y="318.6">f</text>
<text x="992.2" y="318.6">r</text>
<text x="1004.6" y="318.6">o</text>
<text x="1017" y="318.6">n</text>
<text x="1029.5" y="318.6">t</text>
<text x="1041.9" y="318.6">a</text>
<text x="1054.4" y="318.6">l</text>
<text x="1079.2" y="318.6">s</text>
<text x="1091.7" y="318.6">i</text>
<text x="1104.1" y="318.6">n</text>
<text x="1116.6" y="318.6">u</text>
<text x="1129" y="318.6">s</text>
<text x="1236.2" y="491">e</text>
<text x="1248.7" y="491">y</text>
<text x="1261.1" y="491">e</text>
<text x="1237.2" y="534.5">e</text>
<text x="1249.7" y="534.5">a</text>
<text x="1262.1" y="534.5">r</text>
<text x="1226.2" y="582.5">t</text>
<text x="1238.7" y="582.5">r</text>
<text x="1251.1" y="582.5">a</text>
<text x="1263.5" y="582.5">p</text>
<text x="1276" y="582.5">e</text>
<text x="1288.4" y="582.5">z</text>
<text x="1300.9" y="582.5">i</text>
<text x="1313.3" y="582.5">u</text>
<text x="1325.7" y="582.5">s</text>
<text x="1198.2" y="643">l</text>
<text x="1210.7" y="643">u</text>
<text x="1223.1" y="643">n</text>
<text x="1235.5" y="643">g</text>
<text x="1245" y="643">,</text>
<text x="1260.4" y="643">b</text>
<text x="1272.9" y="643">r</text>
<text x="1285.3" y="643">o</text>
<text x="1297.7" y="643">n</text>
<text x="1310.2" y="643">c</text>
<text x="1322.6" y="643">h</text>
<text x="1335.1" y="643">i</text>
<text x="1224.2" y="676">s</text>
<text x="1236.7" y="676">u</text>
<text x="1249.1" y="676">p</text>
<text x="1261.5" y="676">r</text>
<text x="1274" y="676">a</text>
<text x="1286.4" y="676">r</text>
<text x="1298.9" y="676">e</text>
<text x="1311.3" y="676">n</text>
<text x="1323.7" y="676">a</text>
<text x="1336.2" y="676">l</text>
<text x="1361.1" y="676">g</text>
<text x="1373.5" y="676">l</text>
<text x="1385.9" y="676">a</text>
<text x="1398.4" y="676">n</text>
<text x="1410.8" y="676">d</text>
<text x="1216.2" y="722">h</text>
<text x="1228.7" y="722">e</text>
<text x="1241.1" y="722">a</text>
<text x="1253.5" y="722">r</text>
<text x="1266" y="722">t</text>
<text x="1218.2" y="771.7">s</text>
<text x="1230.7" y="771.7">p</text>
<text x="1243.1" y="771.7">l</text>
<text x="1255.5" y="771.7">e</text>
<text x="1268" y="771.7">e</text>
<text x="1280.4" y="771.7">n</text>
<text x="1218.7" y="833.7">t</text>
<text x="1231.2" y="833.7">r</text>
<text x="1243.6" y="833.7">a</text>
<text x="1256" y="833.7">n</text>
<text x="1268.5" y="833.7">s</text>
<text x="1280.9" y="833.7">v</text>
<text x="1293.4" y="833.7">e</text>
<text x="1305.8" y="833.7">r</text>
<text x="1318.2" y="833.7">s</text>
<text x="1330.7" y="833.7">e</text>
<text x="1355.6" y="833.7">c</text>
<text x="1368" y="833.7">o</text>
<text x="1380.4" y="833.7">l</text>
<text x="1392.9" y="833.7">o</text>
<text x="1405.3" y="833.7">n</text>
<text x="1207.2" y="890.5">d</text>
<text x="1219.7" y="890.5">e</text>
<text x="1232.1" y="890.5">s</text>
<text x="1244.5" y="890.5">c</text>
<text x="1257" y="890.5">e</text>
<text x="1269.4" y="890.5">n</text>
<text x="1281.9" y="890.5">d</text>
<text x="1294.3" y="890.5">i</text>
<text x="1306.7" y="890.5">n</text>
<text x="1319.2" y="890.5">g</text>
<text x="1344.1" y="890.5">c</text>
<text x="1356.5" y="890.5">o</text>
<text x="1368.9" y="890.5">l</text>
<text x="1381.4" y="890.5">o</text>
<text x="1393.8" y="890.5">n</text>
<text x="1212.2" y="932">s</text>
<text transform="translate(1224.7,932) scale(0.86,1)">m</text>
<text x="1237.1" y="932">a</text>
<text x="1249.5" y="932">l</text>
<text x="1262" y="932">l</text>
<text x="1286.9" y="932">i</text>
<text x="1299.3" y="932">n</text>
<text x="1311.7" y="932">t</text>
<text x="1324.2" y="932">e</text>
<text x="1336.6" y="932">s</text>
<text x="1349.1" y="932">t</text>
<text x="1361.5" y="932">i</text>
<text x="1373.9" y="932">n</text>
<text x="1386.4" y="932">e</text>
<text x="1207.2" y="973">s</text>
<text x="1219.7" y="973">i</text>
<text x="1232.1" y="973">g</text>
<text transform="translate(1244.5,973) scale(0.86,1)">m</text>
<text x="1257" y="973">o</text>
<text x="1269.4" y="973">i</text>
<text x="1281.9" y="973">d</text>
<text x="1306.7" y="973">c</text>
<text x="1319.2" y="973">o</text>
<text x="1331.6" y="973">l</text>
<text x="1344.1" y="973">o</text>
<text x="1356.5" y="973">n</text>
<text x="1365.9" y="973">,</text>
<text x="1381.4" y="973">r</text>
<text x="1393.8" y="973">e</text>
<text x="1406.3" y="973">c</text>
<text x="1418.7" y="973">t</text>
<text x="1431.1" y="973">u</text>
<text transform="translate(1443.6,973) scale(0.86,1)">m</text>
</g>
</svg></body></html>
